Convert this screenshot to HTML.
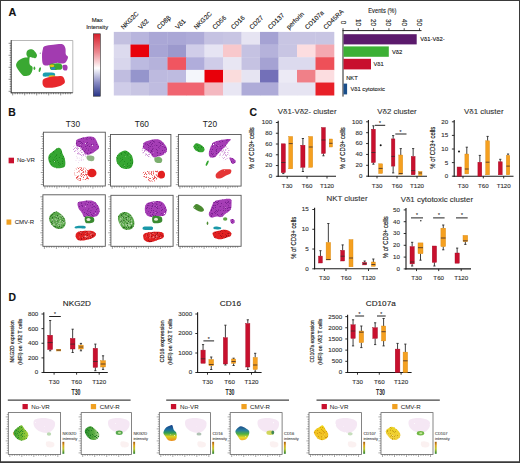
<!DOCTYPE html>
<html><head><meta charset="utf-8"><style>
html,body{margin:0;padding:0;background:#fff;}
svg{display:block;font-family:"Liberation Sans", sans-serif;}
text{stroke:currentColor;stroke-width:0.12px;paint-order:stroke;}
</style></head><body>
<svg width="520" height="463" viewBox="0 0 520 463">
<defs>
<filter id="spk1" x="-5%" y="-5%" width="110%" height="110%" color-interpolation-filters="sRGB">
<feTurbulence type="fractalNoise" baseFrequency="1.1" numOctaves="1" seed="4" result="n"/>
<feColorMatrix in="n" type="matrix" values="0 0 0 0 0  0 0 0 0 0  0 0 0 0 0  12 0 0 0 -2.4" result="m"/>
<feComposite in="SourceGraphic" in2="m" operator="in"/>
</filter>
<filter id="spk2" x="-5%" y="-5%" width="110%" height="110%" color-interpolation-filters="sRGB">
<feTurbulence type="fractalNoise" baseFrequency="1.3" numOctaves="1" seed="9" result="n"/>
<feColorMatrix in="n" type="matrix" values="0 0 0 0 0  0 0 0 0 0  0 0 0 0 0  8 0 0 0 -4" result="m"/>
<feComposite in="SourceGraphic" in2="m" operator="in"/>
</filter>
<filter id="spkD" x="-5%" y="-5%" width="110%" height="110%" color-interpolation-filters="sRGB">
<feTurbulence type="fractalNoise" baseFrequency="1.2" numOctaves="1" seed="21" result="n"/>
<feColorMatrix in="n" type="matrix" values="0 0 0 0 0  0 0 0 0 0  0 0 0 0 0  10 0 0 0 -5.6" result="m"/>
<feComposite in="SourceGraphic" in2="m" operator="in"/>
</filter>
</defs>
<rect width="520" height="463" fill="#fff"/>
<rect x="0.5" y="0.5" width="519" height="461.5" fill="none" stroke="#3a3a3a" stroke-width="1"/>
<rect x="0" y="461.5" width="520" height="1.5" fill="#3a3a3a" />
<text x="8.4" y="16.1" font-size="10.8" text-anchor="start" font-weight="bold" fill="#111" color="#111" >A</text>
<text x="8.3" y="116" font-size="10.4" text-anchor="start" font-weight="bold" fill="#111" color="#111" >B</text>
<text x="249.6" y="115.6" font-size="10.4" text-anchor="start" font-weight="bold" fill="#111" color="#111" >C</text>
<text x="8.6" y="301.2" font-size="10.4" text-anchor="start" font-weight="bold" fill="#111" color="#111" >D</text>
<line x1="11.2" y1="40.5" x2="72.8" y2="40.5" stroke="#999" stroke-width="0.7"/>
<line x1="72.8" y1="40.5" x2="72.8" y2="92.8" stroke="#999" stroke-width="0.7"/>
<line x1="11.2" y1="40.1" x2="11.2" y2="93.2" stroke="#333" stroke-width="1.0"/>
<line x1="10.799999999999999" y1="92.8" x2="72.8" y2="92.8" stroke="#333" stroke-width="1.0"/>
<line x1="8.6" y1="91.3" x2="11.2" y2="91.3" stroke="#333" stroke-width="0.55"/>
<line x1="9.7" y1="88.89999999999999" x2="11.2" y2="88.89999999999999" stroke="#333" stroke-width="0.55"/>
<line x1="9.7" y1="86.5" x2="11.2" y2="86.5" stroke="#333" stroke-width="0.55"/>
<line x1="9.7" y1="84.1" x2="11.2" y2="84.1" stroke="#333" stroke-width="0.55"/>
<line x1="9.7" y1="81.7" x2="11.2" y2="81.7" stroke="#333" stroke-width="0.55"/>
<line x1="8.6" y1="79.3" x2="11.2" y2="79.3" stroke="#333" stroke-width="0.55"/>
<line x1="9.7" y1="76.9" x2="11.2" y2="76.9" stroke="#333" stroke-width="0.55"/>
<line x1="9.7" y1="74.5" x2="11.2" y2="74.5" stroke="#333" stroke-width="0.55"/>
<line x1="9.7" y1="72.1" x2="11.2" y2="72.1" stroke="#333" stroke-width="0.55"/>
<line x1="9.7" y1="69.7" x2="11.2" y2="69.7" stroke="#333" stroke-width="0.55"/>
<line x1="8.6" y1="67.3" x2="11.2" y2="67.3" stroke="#333" stroke-width="0.55"/>
<line x1="9.7" y1="64.9" x2="11.2" y2="64.9" stroke="#333" stroke-width="0.55"/>
<line x1="9.7" y1="62.5" x2="11.2" y2="62.5" stroke="#333" stroke-width="0.55"/>
<line x1="9.7" y1="60.099999999999994" x2="11.2" y2="60.099999999999994" stroke="#333" stroke-width="0.55"/>
<line x1="9.7" y1="57.699999999999996" x2="11.2" y2="57.699999999999996" stroke="#333" stroke-width="0.55"/>
<line x1="8.6" y1="55.3" x2="11.2" y2="55.3" stroke="#333" stroke-width="0.55"/>
<line x1="9.7" y1="52.9" x2="11.2" y2="52.9" stroke="#333" stroke-width="0.55"/>
<line x1="9.7" y1="50.5" x2="11.2" y2="50.5" stroke="#333" stroke-width="0.55"/>
<line x1="9.7" y1="48.1" x2="11.2" y2="48.1" stroke="#333" stroke-width="0.55"/>
<line x1="9.7" y1="45.699999999999996" x2="11.2" y2="45.699999999999996" stroke="#333" stroke-width="0.55"/>
<line x1="8.6" y1="43.3" x2="11.2" y2="43.3" stroke="#333" stroke-width="0.55"/>
<line x1="12.7" y1="92.8" x2="12.7" y2="95.39999999999999" stroke="#333" stroke-width="0.55"/>
<line x1="15.1" y1="92.8" x2="15.1" y2="94.3" stroke="#333" stroke-width="0.55"/>
<line x1="17.5" y1="92.8" x2="17.5" y2="94.3" stroke="#333" stroke-width="0.55"/>
<line x1="19.9" y1="92.8" x2="19.9" y2="94.3" stroke="#333" stroke-width="0.55"/>
<line x1="22.299999999999997" y1="92.8" x2="22.299999999999997" y2="94.3" stroke="#333" stroke-width="0.55"/>
<line x1="24.7" y1="92.8" x2="24.7" y2="95.39999999999999" stroke="#333" stroke-width="0.55"/>
<line x1="27.099999999999998" y1="92.8" x2="27.099999999999998" y2="94.3" stroke="#333" stroke-width="0.55"/>
<line x1="29.5" y1="92.8" x2="29.5" y2="94.3" stroke="#333" stroke-width="0.55"/>
<line x1="31.9" y1="92.8" x2="31.9" y2="94.3" stroke="#333" stroke-width="0.55"/>
<line x1="34.3" y1="92.8" x2="34.3" y2="94.3" stroke="#333" stroke-width="0.55"/>
<line x1="36.7" y1="92.8" x2="36.7" y2="95.39999999999999" stroke="#333" stroke-width="0.55"/>
<line x1="39.099999999999994" y1="92.8" x2="39.099999999999994" y2="94.3" stroke="#333" stroke-width="0.55"/>
<line x1="41.5" y1="92.8" x2="41.5" y2="94.3" stroke="#333" stroke-width="0.55"/>
<line x1="43.9" y1="92.8" x2="43.9" y2="94.3" stroke="#333" stroke-width="0.55"/>
<line x1="46.3" y1="92.8" x2="46.3" y2="94.3" stroke="#333" stroke-width="0.55"/>
<line x1="48.7" y1="92.8" x2="48.7" y2="95.39999999999999" stroke="#333" stroke-width="0.55"/>
<line x1="51.099999999999994" y1="92.8" x2="51.099999999999994" y2="94.3" stroke="#333" stroke-width="0.55"/>
<line x1="53.5" y1="92.8" x2="53.5" y2="94.3" stroke="#333" stroke-width="0.55"/>
<line x1="55.89999999999999" y1="92.8" x2="55.89999999999999" y2="94.3" stroke="#333" stroke-width="0.55"/>
<line x1="58.3" y1="92.8" x2="58.3" y2="94.3" stroke="#333" stroke-width="0.55"/>
<line x1="60.7" y1="92.8" x2="60.7" y2="95.39999999999999" stroke="#333" stroke-width="0.55"/>
<line x1="63.099999999999994" y1="92.8" x2="63.099999999999994" y2="94.3" stroke="#333" stroke-width="0.55"/>
<line x1="65.5" y1="92.8" x2="65.5" y2="94.3" stroke="#333" stroke-width="0.55"/>
<line x1="67.89999999999999" y1="92.8" x2="67.89999999999999" y2="94.3" stroke="#333" stroke-width="0.55"/>
<line x1="70.3" y1="92.8" x2="70.3" y2="94.3" stroke="#333" stroke-width="0.55"/>
<path d="M19.70,59.80C21.20,58.78 23.98,58.00 25.30,57.60C26.62,57.20 27.42,57.95 27.60,57.40C27.78,56.85 26.42,55.47 26.40,54.30C26.38,53.13 26.57,51.25 27.50,50.40C28.43,49.55 30.70,48.93 32.00,49.20C33.30,49.47 34.47,50.97 35.30,52.00C36.13,53.03 37.00,54.37 37.00,55.40C37.00,56.43 36.13,57.83 35.30,58.20C34.47,58.57 32.93,57.72 32.00,57.60C31.07,57.48 30.08,56.38 29.70,57.50C29.32,58.62 29.23,62.70 29.70,64.30C30.17,65.90 32.12,65.88 32.50,67.10C32.88,68.32 32.47,70.30 32.00,71.60C31.53,72.90 31.00,74.17 29.70,74.90C28.40,75.63 25.68,76.28 24.20,76.00C22.72,75.72 22.02,74.58 20.80,73.20C19.58,71.82 17.65,69.28 16.90,67.70C16.15,66.12 15.83,65.02 16.30,63.70C16.77,62.38 18.20,60.82 19.70,59.80Z" fill="#3aa832" fill-opacity="1" />
<ellipse cx="34.4" cy="68.2" rx="0.9" ry="1.8" fill="#3aa832" fill-opacity="1" transform="rotate(0 34.4 68.2)"/>
<ellipse cx="39.8" cy="69.6" rx="1.0" ry="2.5" fill="#3aa832" fill-opacity="1" transform="rotate(15 39.8 69.6)"/>
<path d="M44.50,46.20C46.23,45.42 50.20,45.13 53.20,44.80C56.20,44.47 60.47,43.62 62.50,44.20C64.53,44.78 64.85,46.62 65.40,48.30C65.95,49.98 65.37,52.83 65.80,54.30C66.23,55.77 67.97,55.82 68.00,57.10C68.03,58.38 66.98,60.92 66.00,62.00C65.02,63.08 63.50,63.47 62.10,63.60C60.70,63.73 59.28,62.70 57.60,62.80C55.92,62.90 53.85,63.73 52.00,64.20C50.15,64.67 48.03,65.67 46.50,65.60C44.97,65.53 43.55,65.50 42.80,63.80C42.05,62.10 42.00,57.78 42.00,55.40C42.00,53.02 42.38,51.03 42.80,49.50C43.22,47.97 42.77,46.98 44.50,46.20Z" fill="#a23bb0" fill-opacity="1" />
<ellipse cx="40.3" cy="53.2" rx="0.6" ry="0.6" fill="#8a7aa0" fill-opacity="1" transform="rotate(0 40.3 53.2)"/>
<path d="M62.80,65.20C63.45,64.77 65.70,64.52 66.50,64.90C67.30,65.28 67.60,66.58 67.60,67.50C67.60,68.42 67.18,69.98 66.50,70.40C65.82,70.82 64.15,70.48 63.50,70.00C62.85,69.52 62.72,68.30 62.60,67.50C62.48,66.70 62.15,65.63 62.80,65.20Z" fill="#a23bb0" fill-opacity="1" />
<path d="M50.00,64.00C50.93,63.40 53.73,63.48 55.40,63.40C57.07,63.32 58.88,63.15 60.00,63.50C61.12,63.85 61.85,64.53 62.10,65.50C62.35,66.47 62.52,68.57 61.50,69.30C60.48,70.03 57.75,69.82 56.00,69.90C54.25,69.98 52.03,70.28 51.00,69.80C49.97,69.32 49.97,67.97 49.80,67.00C49.63,66.03 49.07,64.60 50.00,64.00Z" fill="#3aa832" fill-opacity="1" />
<ellipse cx="52" cy="65.8" rx="2.3" ry="1.4" fill="#e6c21a" fill-opacity="1" transform="rotate(0 52 65.8)"/>
<ellipse cx="53.2" cy="68.5" rx="2.3" ry="1.3" fill="#2a8ac8" fill-opacity="1" transform="rotate(0 53.2 68.5)"/>
<path d="M43.50,73.00C44.32,72.37 46.20,72.40 48.00,72.40C49.80,72.40 53.22,72.37 54.30,73.00C55.38,73.63 55.55,75.60 54.50,76.20C53.45,76.80 49.90,76.60 48.00,76.60C46.10,76.60 43.85,76.80 43.10,76.20C42.35,75.60 42.68,73.63 43.50,73.00Z" fill="#1b9eb0" fill-opacity="1" />
<ellipse cx="52" cy="76.2" rx="3.4" ry="1.0" fill="#e8c21a" fill-opacity="1" transform="rotate(0 52 76.2)"/>
<path d="M44.20,78.80C45.40,78.15 47.93,77.52 49.80,77.10C51.67,76.68 53.53,76.48 55.40,76.30C57.27,76.12 59.62,75.77 61.00,76.00C62.38,76.23 63.05,76.67 63.70,77.70C64.35,78.73 65.17,81.00 64.90,82.20C64.63,83.40 63.68,84.07 62.10,84.90C60.52,85.73 58.00,86.73 55.40,87.20C52.80,87.67 48.55,87.98 46.50,87.70C44.45,87.42 43.75,86.62 43.10,85.50C42.45,84.38 42.42,82.12 42.60,81.00C42.78,79.88 43.00,79.45 44.20,78.80Z" fill="#e8282c" fill-opacity="1" />
<text x="97.2" y="21.7" font-size="5.9" text-anchor="middle" font-weight="normal" fill="#222" color="#222" >Max</text>
<text x="97.2" y="29.4" font-size="5.9" text-anchor="middle" font-weight="normal" fill="#222" color="#222" >Intensity</text>
<defs><linearGradient id="cbA" x1="0" y1="0" x2="0" y2="1"><stop offset="0" stop-color="#d81e2a"/><stop offset="0.3" stop-color="#ec8a92"/><stop offset="0.55" stop-color="#ffffff"/><stop offset="0.78" stop-color="#8a8cc4"/><stop offset="1" stop-color="#283587"/></linearGradient></defs>
<rect x="93.3" y="33.8" width="7" height="62.4" fill="url(#cbA)" stroke="#333" stroke-width="0.6"/>
<rect x="113.80" y="31.90" width="17.00" height="12.96" fill="#c3c0e0" />
<rect x="130.50" y="31.90" width="18.80" height="12.96" fill="#b8b5dd" />
<rect x="149.00" y="31.90" width="18.80" height="12.96" fill="#aaa7d6" />
<rect x="167.50" y="31.90" width="18.80" height="12.96" fill="#aaa7d6" />
<rect x="186.00" y="31.90" width="18.80" height="12.96" fill="#aeabd8" />
<rect x="204.50" y="31.90" width="18.80" height="12.96" fill="#c5c2e2" />
<rect x="223.00" y="31.90" width="18.80" height="12.96" fill="#c8c5e3" />
<rect x="241.50" y="31.90" width="18.80" height="12.96" fill="#e6e4f2" />
<rect x="260.00" y="31.90" width="18.80" height="12.96" fill="#a5a2d3" />
<rect x="278.50" y="31.90" width="18.80" height="12.96" fill="#c8c5e3" />
<rect x="297.00" y="31.90" width="18.80" height="12.96" fill="#c8c5e3" />
<rect x="315.50" y="31.90" width="18.80" height="12.96" fill="#c8c5e3" />
<rect x="113.80" y="44.56" width="17.00" height="12.96" fill="#dcdaee" />
<rect x="130.50" y="44.56" width="18.80" height="12.96" fill="#e8000a" />
<rect x="149.00" y="44.56" width="18.80" height="12.96" fill="#a8a5d5" />
<rect x="167.50" y="44.56" width="18.80" height="12.96" fill="#9c99cd" />
<rect x="186.00" y="44.56" width="18.80" height="12.96" fill="#d0cde9" />
<rect x="204.50" y="44.56" width="18.80" height="12.96" fill="#e6e4f3" />
<rect x="223.00" y="44.56" width="18.80" height="12.96" fill="#f8c8cc" />
<rect x="241.50" y="44.56" width="18.80" height="12.96" fill="#c5c2e2" />
<rect x="260.00" y="44.56" width="18.80" height="12.96" fill="#b5b2db" />
<rect x="278.50" y="44.56" width="18.80" height="12.96" fill="#c8c5e3" />
<rect x="297.00" y="44.56" width="18.80" height="12.96" fill="#fcdde0" />
<rect x="315.50" y="44.56" width="18.80" height="12.96" fill="#f4a8b0" />
<rect x="113.80" y="57.22" width="17.00" height="12.96" fill="#d8d6ec" />
<rect x="130.50" y="57.22" width="18.80" height="12.96" fill="#bcbae0" />
<rect x="149.00" y="57.22" width="18.80" height="12.96" fill="#b5b2db" />
<rect x="167.50" y="57.22" width="18.80" height="12.96" fill="#f05560" />
<rect x="186.00" y="57.22" width="18.80" height="12.96" fill="#b0addb" />
<rect x="204.50" y="57.22" width="18.80" height="12.96" fill="#cfcce8" />
<rect x="223.00" y="57.22" width="18.80" height="12.96" fill="#e8e6f3" />
<rect x="241.50" y="57.22" width="18.80" height="12.96" fill="#c5c2e2" />
<rect x="260.00" y="57.22" width="18.80" height="12.96" fill="#a5a2d3" />
<rect x="278.50" y="57.22" width="18.80" height="12.96" fill="#dcdaee" />
<rect x="297.00" y="57.22" width="18.80" height="12.96" fill="#dcdaee" />
<rect x="315.50" y="57.22" width="18.80" height="12.96" fill="#ee5058" />
<rect x="113.80" y="69.88" width="17.00" height="12.96" fill="#c0bde0" />
<rect x="130.50" y="69.88" width="18.80" height="12.96" fill="#9595cc" />
<rect x="149.00" y="69.88" width="18.80" height="12.96" fill="#bdbadf" />
<rect x="167.50" y="69.88" width="18.80" height="12.96" fill="#bebbe0" />
<rect x="186.00" y="69.88" width="18.80" height="12.96" fill="#f4f6fb" />
<rect x="204.50" y="69.88" width="18.80" height="12.96" fill="#e8000a" />
<rect x="223.00" y="69.88" width="18.80" height="12.96" fill="#fadcdc" />
<rect x="241.50" y="69.88" width="18.80" height="12.96" fill="#e6e4f2" />
<rect x="260.00" y="69.88" width="18.80" height="12.96" fill="#7370b8" />
<rect x="278.50" y="69.88" width="18.80" height="12.96" fill="#eceaf5" />
<rect x="297.00" y="69.88" width="18.80" height="12.96" fill="#f08088" />
<rect x="315.50" y="69.88" width="18.80" height="12.96" fill="#fcdde0" />
<rect x="113.80" y="82.54" width="17.00" height="12.96" fill="#cfcce8" />
<rect x="130.50" y="82.54" width="18.80" height="12.96" fill="#c8c5e3" />
<rect x="149.00" y="82.54" width="18.80" height="12.96" fill="#bfbce0" />
<rect x="167.50" y="82.54" width="18.80" height="12.96" fill="#f06470" />
<rect x="186.00" y="82.54" width="18.80" height="12.96" fill="#f06470" />
<rect x="204.50" y="82.54" width="18.80" height="12.96" fill="#f4b8c0" />
<rect x="223.00" y="82.54" width="18.80" height="12.96" fill="#e8e6f3" />
<rect x="241.50" y="82.54" width="18.80" height="12.96" fill="#aeabd8" />
<rect x="260.00" y="82.54" width="18.80" height="12.96" fill="#aeabd8" />
<rect x="278.50" y="82.54" width="18.80" height="12.96" fill="#e6e4f2" />
<rect x="297.00" y="82.54" width="18.80" height="12.96" fill="#e6e4f2" />
<rect x="315.50" y="82.54" width="18.80" height="12.96" fill="#e82028" />
<text x="123.5" y="29.8" font-size="6.4" fill="#1a1a1a" transform="rotate(-45 123.5 29.8)">NKG2C</text>
<text x="141.1" y="29.8" font-size="6.4" fill="#1a1a1a" transform="rotate(-45 141.1 29.8)">Vδ2</text>
<text x="159.6" y="29.8" font-size="6.4" fill="#1a1a1a" transform="rotate(-45 159.6 29.8)">CD8β</text>
<text x="178.1" y="29.8" font-size="6.4" fill="#1a1a1a" transform="rotate(-45 178.1 29.8)">Vδ1</text>
<text x="196.6" y="29.8" font-size="6.4" fill="#1a1a1a" transform="rotate(-45 196.6 29.8)">NKG2C</text>
<text x="215.1" y="29.8" font-size="6.4" fill="#1a1a1a" transform="rotate(-45 215.1 29.8)">CD56</text>
<text x="233.6" y="29.8" font-size="6.4" fill="#1a1a1a" transform="rotate(-45 233.6 29.8)">CD16</text>
<text x="252.1" y="29.8" font-size="6.4" fill="#1a1a1a" transform="rotate(-45 252.1 29.8)">CD27</text>
<text x="270.6" y="29.8" font-size="6.4" fill="#1a1a1a" transform="rotate(-45 270.6 29.8)">CD137</text>
<text x="289.1" y="29.8" font-size="6.4" fill="#1a1a1a" transform="rotate(-45 289.1 29.8)">perforin</text>
<text x="307.6" y="29.8" font-size="6.4" fill="#1a1a1a" transform="rotate(-45 307.6 29.8)">CD107a</text>
<text x="326.1" y="29.8" font-size="6.4" fill="#1a1a1a" transform="rotate(-45 326.1 29.8)">CD45RA</text>
<line x1="343" y1="30.5" x2="343" y2="96.6" stroke="#222" stroke-width="1"/>
<line x1="342.5" y1="30.6" x2="421.5" y2="30.6" stroke="#222" stroke-width="1"/>
<line x1="343.0" y1="28.2" x2="343.0" y2="30.6" stroke="#222" stroke-width="0.8"/>
<text x="343.0" y="22.4" font-size="6.3" fill="#222" text-anchor="middle" transform="rotate(90 343.0 22.4)" dominant-baseline="central">0</text>
<line x1="358.3" y1="28.2" x2="358.3" y2="30.6" stroke="#222" stroke-width="0.8"/>
<text x="358.3" y="22.4" font-size="6.3" fill="#222" text-anchor="middle" transform="rotate(90 358.3 22.4)" dominant-baseline="central">10</text>
<line x1="373.6" y1="28.2" x2="373.6" y2="30.6" stroke="#222" stroke-width="0.8"/>
<text x="373.6" y="22.4" font-size="6.3" fill="#222" text-anchor="middle" transform="rotate(90 373.6 22.4)" dominant-baseline="central">20</text>
<line x1="388.9" y1="28.2" x2="388.9" y2="30.6" stroke="#222" stroke-width="0.8"/>
<text x="388.9" y="22.4" font-size="6.3" fill="#222" text-anchor="middle" transform="rotate(90 388.9 22.4)" dominant-baseline="central">30</text>
<line x1="404.2" y1="28.2" x2="404.2" y2="30.6" stroke="#222" stroke-width="0.8"/>
<text x="404.2" y="22.4" font-size="6.3" fill="#222" text-anchor="middle" transform="rotate(90 404.2 22.4)" dominant-baseline="central">40</text>
<line x1="419.5" y1="28.2" x2="419.5" y2="30.6" stroke="#222" stroke-width="0.8"/>
<text x="419.5" y="22.4" font-size="6.3" fill="#222" text-anchor="middle" transform="rotate(90 419.5 22.4)" dominant-baseline="central">50</text>
<text x="382.3" y="13.1" font-size="7.3" text-anchor="middle" font-weight="normal" fill="#1a1a1a" color="#1a1a1a" textLength="28" lengthAdjust="spacingAndGlyphs">Events (%)</text>
<rect x="343.5" y="34.2" width="73.2" height="10.2" fill="#5b1a6c" />
<rect x="343.5" y="46.4" width="45.3" height="10.4" fill="#3cb035" />
<rect x="343.5" y="58.8" width="27.5" height="10.6" fill="#c8102e" />
<rect x="343.5" y="83.6" width="3.6" height="10.8" fill="#1a4f8b" />
<text x="420.2" y="41.2" font-size="5.8" text-anchor="start" font-weight="normal" fill="#111" color="#111" >Vδ1-Vδ2-</text>
<text x="392" y="53.5" font-size="5.8" text-anchor="start" font-weight="normal" fill="#111" color="#111" >Vδ2</text>
<text x="373.5" y="66" font-size="5.8" text-anchor="start" font-weight="normal" fill="#222" color="#222" >Vδ1</text>
<text x="346.2" y="79.8" font-size="5.8" text-anchor="start" font-weight="normal" fill="#222" color="#222" >NKT</text>
<text x="350.4" y="91.3" font-size="5.8" text-anchor="start" font-weight="normal" fill="#222" color="#222" >Vδ1 cytotoxic</text>
<text x="72.9" y="127.4" font-size="8.3" text-anchor="middle" font-weight="normal" fill="#222" color="#222" style="stroke-width:0">T30</text>
<text x="141.8" y="127.4" font-size="8.3" text-anchor="middle" font-weight="normal" fill="#222" color="#222" style="stroke-width:0">T60</text>
<text x="209.9" y="127.4" font-size="8.3" text-anchor="middle" font-weight="normal" fill="#222" color="#222" style="stroke-width:0">T20</text>
<rect x="8.6" y="157.7" width="5.4" height="5.6" fill="#c8102e" />
<text x="16.9" y="162.2" font-size="6" text-anchor="start" font-weight="normal" fill="#222" color="#222" style="stroke-width:0.05px">No-VR</text>
<rect x="6.5" y="219.5" width="4.8" height="5.2" fill="#f0a020" />
<text x="14.7" y="224.2" font-size="6" text-anchor="start" font-weight="normal" fill="#222" color="#222" style="stroke-width:0.05px">CMV-R</text>
<rect x="43.4" y="132.2" width="61.9" height="53.80000000000001" fill="none" stroke="#555" stroke-width="0.9"/>
<line x1="40.8" y1="184.5" x2="43.4" y2="184.5" stroke="#555" stroke-width="0.55"/>
<line x1="41.9" y1="182.1" x2="43.4" y2="182.1" stroke="#555" stroke-width="0.55"/>
<line x1="41.9" y1="179.7" x2="43.4" y2="179.7" stroke="#555" stroke-width="0.55"/>
<line x1="41.9" y1="177.3" x2="43.4" y2="177.3" stroke="#555" stroke-width="0.55"/>
<line x1="41.9" y1="174.9" x2="43.4" y2="174.9" stroke="#555" stroke-width="0.55"/>
<line x1="40.8" y1="172.5" x2="43.4" y2="172.5" stroke="#555" stroke-width="0.55"/>
<line x1="41.9" y1="170.1" x2="43.4" y2="170.1" stroke="#555" stroke-width="0.55"/>
<line x1="41.9" y1="167.7" x2="43.4" y2="167.7" stroke="#555" stroke-width="0.55"/>
<line x1="41.9" y1="165.3" x2="43.4" y2="165.3" stroke="#555" stroke-width="0.55"/>
<line x1="41.9" y1="162.9" x2="43.4" y2="162.9" stroke="#555" stroke-width="0.55"/>
<line x1="40.8" y1="160.5" x2="43.4" y2="160.5" stroke="#555" stroke-width="0.55"/>
<line x1="41.9" y1="158.1" x2="43.4" y2="158.1" stroke="#555" stroke-width="0.55"/>
<line x1="41.9" y1="155.7" x2="43.4" y2="155.7" stroke="#555" stroke-width="0.55"/>
<line x1="41.9" y1="153.3" x2="43.4" y2="153.3" stroke="#555" stroke-width="0.55"/>
<line x1="41.9" y1="150.9" x2="43.4" y2="150.9" stroke="#555" stroke-width="0.55"/>
<line x1="40.8" y1="148.5" x2="43.4" y2="148.5" stroke="#555" stroke-width="0.55"/>
<line x1="41.9" y1="146.1" x2="43.4" y2="146.1" stroke="#555" stroke-width="0.55"/>
<line x1="41.9" y1="143.7" x2="43.4" y2="143.7" stroke="#555" stroke-width="0.55"/>
<line x1="41.9" y1="141.3" x2="43.4" y2="141.3" stroke="#555" stroke-width="0.55"/>
<line x1="41.9" y1="138.9" x2="43.4" y2="138.9" stroke="#555" stroke-width="0.55"/>
<line x1="40.8" y1="136.5" x2="43.4" y2="136.5" stroke="#555" stroke-width="0.55"/>
<line x1="41.9" y1="134.1" x2="43.4" y2="134.1" stroke="#555" stroke-width="0.55"/>
<line x1="44.9" y1="186" x2="44.9" y2="188.6" stroke="#555" stroke-width="0.55"/>
<line x1="47.3" y1="186" x2="47.3" y2="187.5" stroke="#555" stroke-width="0.55"/>
<line x1="49.699999999999996" y1="186" x2="49.699999999999996" y2="187.5" stroke="#555" stroke-width="0.55"/>
<line x1="52.099999999999994" y1="186" x2="52.099999999999994" y2="187.5" stroke="#555" stroke-width="0.55"/>
<line x1="54.5" y1="186" x2="54.5" y2="187.5" stroke="#555" stroke-width="0.55"/>
<line x1="56.9" y1="186" x2="56.9" y2="188.6" stroke="#555" stroke-width="0.55"/>
<line x1="59.3" y1="186" x2="59.3" y2="187.5" stroke="#555" stroke-width="0.55"/>
<line x1="61.7" y1="186" x2="61.7" y2="187.5" stroke="#555" stroke-width="0.55"/>
<line x1="64.1" y1="186" x2="64.1" y2="187.5" stroke="#555" stroke-width="0.55"/>
<line x1="66.5" y1="186" x2="66.5" y2="187.5" stroke="#555" stroke-width="0.55"/>
<line x1="68.9" y1="186" x2="68.9" y2="188.6" stroke="#555" stroke-width="0.55"/>
<line x1="71.3" y1="186" x2="71.3" y2="187.5" stroke="#555" stroke-width="0.55"/>
<line x1="73.69999999999999" y1="186" x2="73.69999999999999" y2="187.5" stroke="#555" stroke-width="0.55"/>
<line x1="76.1" y1="186" x2="76.1" y2="187.5" stroke="#555" stroke-width="0.55"/>
<line x1="78.5" y1="186" x2="78.5" y2="187.5" stroke="#555" stroke-width="0.55"/>
<line x1="80.9" y1="186" x2="80.9" y2="188.6" stroke="#555" stroke-width="0.55"/>
<line x1="83.3" y1="186" x2="83.3" y2="187.5" stroke="#555" stroke-width="0.55"/>
<line x1="85.69999999999999" y1="186" x2="85.69999999999999" y2="187.5" stroke="#555" stroke-width="0.55"/>
<line x1="88.1" y1="186" x2="88.1" y2="187.5" stroke="#555" stroke-width="0.55"/>
<line x1="90.5" y1="186" x2="90.5" y2="187.5" stroke="#555" stroke-width="0.55"/>
<line x1="92.9" y1="186" x2="92.9" y2="188.6" stroke="#555" stroke-width="0.55"/>
<line x1="95.3" y1="186" x2="95.3" y2="187.5" stroke="#555" stroke-width="0.55"/>
<line x1="97.69999999999999" y1="186" x2="97.69999999999999" y2="187.5" stroke="#555" stroke-width="0.55"/>
<line x1="100.1" y1="186" x2="100.1" y2="187.5" stroke="#555" stroke-width="0.55"/>
<line x1="102.5" y1="186" x2="102.5" y2="187.5" stroke="#555" stroke-width="0.55"/>
<path d="M59.00,147.80C59.77,148.00 60.72,148.63 61.30,149.60C61.88,150.57 62.02,152.35 62.50,153.60C62.98,154.85 63.73,155.75 64.20,157.10C64.67,158.45 65.20,160.17 65.30,161.70C65.40,163.23 65.47,165.25 64.80,166.30C64.13,167.35 62.85,167.72 61.30,168.00C59.75,168.28 57.23,168.47 55.50,168.00C53.77,167.53 52.08,166.63 50.90,165.20C49.72,163.77 48.68,161.13 48.40,159.40C48.12,157.67 48.40,156.15 49.20,154.80C50.00,153.45 51.95,152.37 53.20,151.30C54.45,150.23 55.73,148.98 56.70,148.40C57.67,147.82 58.23,147.60 59.00,147.80Z" fill="#36a632" fill-opacity="1" filter="url(#spk1)"/>
<path d="M59.00,147.80C59.77,148.00 60.72,148.63 61.30,149.60C61.88,150.57 62.02,152.35 62.50,153.60C62.98,154.85 63.73,155.75 64.20,157.10C64.67,158.45 65.20,160.17 65.30,161.70C65.40,163.23 65.47,165.25 64.80,166.30C64.13,167.35 62.85,167.72 61.30,168.00C59.75,168.28 57.23,168.47 55.50,168.00C53.77,167.53 52.08,166.63 50.90,165.20C49.72,163.77 48.68,161.13 48.40,159.40C48.12,157.67 48.40,156.15 49.20,154.80C50.00,153.45 51.95,152.37 53.20,151.30C54.45,150.23 55.73,148.98 56.70,148.40C57.67,147.82 58.23,147.60 59.00,147.80Z" fill="#1f8a1f" filter="url(#spkD)"/>
<path d="M73.50,146.00C74.50,145.42 77.25,146.17 79.00,147.00C80.75,147.83 82.58,149.58 84.00,151.00C85.42,152.42 87.67,154.58 87.50,155.50C87.33,156.42 84.75,156.75 83.00,156.50C81.25,156.25 78.67,155.00 77.00,154.00C75.33,153.00 73.58,151.83 73.00,150.50C72.42,149.17 72.50,146.58 73.50,146.00Z" fill="#a63eb6" fill-opacity="0.55" filter="url(#spk2)"/>
<path d="M77.20,139.60C78.38,138.78 80.82,138.10 83.10,137.60C85.38,137.10 88.92,136.48 90.90,136.60C92.88,136.72 93.85,137.10 95.00,138.30C96.15,139.50 97.13,142.23 97.80,143.80C98.47,145.37 99.25,146.58 99.00,147.70C98.75,148.82 97.43,149.58 96.30,150.50C95.17,151.42 93.67,152.48 92.20,153.20C90.73,153.92 88.87,155.00 87.50,154.80C86.13,154.60 85.17,153.22 84.00,152.00C82.83,150.78 81.75,148.50 80.50,147.50C79.25,146.50 77.25,146.83 76.50,146.00C75.75,145.17 75.88,143.57 76.00,142.50C76.12,141.43 76.02,140.42 77.20,139.60Z" fill="#a63eb6" fill-opacity="1" filter="url(#spk1)"/>
<path d="M77.20,139.60C78.38,138.78 80.82,138.10 83.10,137.60C85.38,137.10 88.92,136.48 90.90,136.60C92.88,136.72 93.85,137.10 95.00,138.30C96.15,139.50 97.13,142.23 97.80,143.80C98.47,145.37 99.25,146.58 99.00,147.70C98.75,148.82 97.43,149.58 96.30,150.50C95.17,151.42 93.67,152.48 92.20,153.20C90.73,153.92 88.87,155.00 87.50,154.80C86.13,154.60 85.17,153.22 84.00,152.00C82.83,150.78 81.75,148.50 80.50,147.50C79.25,146.50 77.25,146.83 76.50,146.00C75.75,145.17 75.88,143.57 76.00,142.50C76.12,141.43 76.02,140.42 77.20,139.60Z" fill="#7a2090" filter="url(#spkD)"/>
<path d="M87.00,156.00C87.72,155.52 89.80,155.43 91.00,155.60C92.20,155.77 93.78,156.13 94.20,157.00C94.62,157.87 94.37,160.17 93.50,160.80C92.63,161.43 90.13,161.18 89.00,160.80C87.87,160.42 87.03,159.30 86.70,158.50C86.37,157.70 86.28,156.48 87.00,156.00Z" fill="#6a9a5a" fill-opacity="0.75" filter="url(#spk1)"/>
<path d="M75.50,168.50C76.63,166.92 79.92,167.50 82.00,167.50C84.08,167.50 86.83,167.42 88.00,168.50C89.17,169.58 89.00,172.08 89.00,174.00C89.00,175.92 89.50,178.88 88.00,180.00C86.50,181.12 82.13,181.20 80.00,180.70C77.87,180.20 75.95,179.03 75.20,177.00C74.45,174.97 74.37,170.08 75.50,168.50Z" fill="#e22020" fill-opacity="0.75" filter="url(#spk2)"/>
<ellipse cx="91.9" cy="173" rx="4.6" ry="4.3" fill="#e22020" fill-opacity="1" transform="rotate(0 91.9 173)"/>
<circle cx="79.1" cy="160.4" r="0.35" fill="#a03ab2" fill-opacity="0.5"/>
<circle cx="79.2" cy="158.1" r="0.35" fill="#a03ab2" fill-opacity="0.5"/>
<circle cx="77.1" cy="158.5" r="0.35" fill="#a03ab2" fill-opacity="0.5"/>
<circle cx="83.3" cy="160.0" r="0.35" fill="#a03ab2" fill-opacity="0.5"/>
<circle cx="83.2" cy="159.6" r="0.35" fill="#a03ab2" fill-opacity="0.5"/>
<circle cx="81.4" cy="159.5" r="0.35" fill="#a03ab2" fill-opacity="0.5"/>
<circle cx="76.0" cy="160.7" r="0.35" fill="#a03ab2" fill-opacity="0.5"/>
<circle cx="81.7" cy="160.3" r="0.35" fill="#a03ab2" fill-opacity="0.5"/>
<circle cx="76.6" cy="156.2" r="0.35" fill="#a03ab2" fill-opacity="0.5"/>
<circle cx="77.2" cy="157.8" r="0.35" fill="#a03ab2" fill-opacity="0.5"/>
<circle cx="81.1" cy="158.9" r="0.35" fill="#a03ab2" fill-opacity="0.5"/>
<circle cx="81.7" cy="157.3" r="0.35" fill="#a03ab2" fill-opacity="0.5"/>
<circle cx="81.1" cy="160.1" r="0.35" fill="#a03ab2" fill-opacity="0.5"/>
<circle cx="78.4" cy="162.4" r="0.35" fill="#a03ab2" fill-opacity="0.5"/>
<rect x="110.5" y="134.5" width="60.400000000000006" height="51.599999999999994" fill="none" stroke="#555" stroke-width="0.9"/>
<line x1="107.9" y1="184.6" x2="110.5" y2="184.6" stroke="#555" stroke-width="0.55"/>
<line x1="109.0" y1="182.2" x2="110.5" y2="182.2" stroke="#555" stroke-width="0.55"/>
<line x1="109.0" y1="179.79999999999998" x2="110.5" y2="179.79999999999998" stroke="#555" stroke-width="0.55"/>
<line x1="109.0" y1="177.4" x2="110.5" y2="177.4" stroke="#555" stroke-width="0.55"/>
<line x1="109.0" y1="175.0" x2="110.5" y2="175.0" stroke="#555" stroke-width="0.55"/>
<line x1="107.9" y1="172.6" x2="110.5" y2="172.6" stroke="#555" stroke-width="0.55"/>
<line x1="109.0" y1="170.2" x2="110.5" y2="170.2" stroke="#555" stroke-width="0.55"/>
<line x1="109.0" y1="167.79999999999998" x2="110.5" y2="167.79999999999998" stroke="#555" stroke-width="0.55"/>
<line x1="109.0" y1="165.4" x2="110.5" y2="165.4" stroke="#555" stroke-width="0.55"/>
<line x1="109.0" y1="163.0" x2="110.5" y2="163.0" stroke="#555" stroke-width="0.55"/>
<line x1="107.9" y1="160.6" x2="110.5" y2="160.6" stroke="#555" stroke-width="0.55"/>
<line x1="109.0" y1="158.2" x2="110.5" y2="158.2" stroke="#555" stroke-width="0.55"/>
<line x1="109.0" y1="155.8" x2="110.5" y2="155.8" stroke="#555" stroke-width="0.55"/>
<line x1="109.0" y1="153.4" x2="110.5" y2="153.4" stroke="#555" stroke-width="0.55"/>
<line x1="109.0" y1="151.0" x2="110.5" y2="151.0" stroke="#555" stroke-width="0.55"/>
<line x1="107.9" y1="148.6" x2="110.5" y2="148.6" stroke="#555" stroke-width="0.55"/>
<line x1="109.0" y1="146.2" x2="110.5" y2="146.2" stroke="#555" stroke-width="0.55"/>
<line x1="109.0" y1="143.8" x2="110.5" y2="143.8" stroke="#555" stroke-width="0.55"/>
<line x1="109.0" y1="141.4" x2="110.5" y2="141.4" stroke="#555" stroke-width="0.55"/>
<line x1="109.0" y1="139.0" x2="110.5" y2="139.0" stroke="#555" stroke-width="0.55"/>
<line x1="107.9" y1="136.6" x2="110.5" y2="136.6" stroke="#555" stroke-width="0.55"/>
<line x1="112.0" y1="186.1" x2="112.0" y2="188.7" stroke="#555" stroke-width="0.55"/>
<line x1="114.4" y1="186.1" x2="114.4" y2="187.6" stroke="#555" stroke-width="0.55"/>
<line x1="116.8" y1="186.1" x2="116.8" y2="187.6" stroke="#555" stroke-width="0.55"/>
<line x1="119.2" y1="186.1" x2="119.2" y2="187.6" stroke="#555" stroke-width="0.55"/>
<line x1="121.6" y1="186.1" x2="121.6" y2="187.6" stroke="#555" stroke-width="0.55"/>
<line x1="124.0" y1="186.1" x2="124.0" y2="188.7" stroke="#555" stroke-width="0.55"/>
<line x1="126.4" y1="186.1" x2="126.4" y2="187.6" stroke="#555" stroke-width="0.55"/>
<line x1="128.8" y1="186.1" x2="128.8" y2="187.6" stroke="#555" stroke-width="0.55"/>
<line x1="131.2" y1="186.1" x2="131.2" y2="187.6" stroke="#555" stroke-width="0.55"/>
<line x1="133.6" y1="186.1" x2="133.6" y2="187.6" stroke="#555" stroke-width="0.55"/>
<line x1="136.0" y1="186.1" x2="136.0" y2="188.7" stroke="#555" stroke-width="0.55"/>
<line x1="138.4" y1="186.1" x2="138.4" y2="187.6" stroke="#555" stroke-width="0.55"/>
<line x1="140.8" y1="186.1" x2="140.8" y2="187.6" stroke="#555" stroke-width="0.55"/>
<line x1="143.2" y1="186.1" x2="143.2" y2="187.6" stroke="#555" stroke-width="0.55"/>
<line x1="145.6" y1="186.1" x2="145.6" y2="187.6" stroke="#555" stroke-width="0.55"/>
<line x1="148.0" y1="186.1" x2="148.0" y2="188.7" stroke="#555" stroke-width="0.55"/>
<line x1="150.4" y1="186.1" x2="150.4" y2="187.6" stroke="#555" stroke-width="0.55"/>
<line x1="152.8" y1="186.1" x2="152.8" y2="187.6" stroke="#555" stroke-width="0.55"/>
<line x1="155.2" y1="186.1" x2="155.2" y2="187.6" stroke="#555" stroke-width="0.55"/>
<line x1="157.6" y1="186.1" x2="157.6" y2="187.6" stroke="#555" stroke-width="0.55"/>
<line x1="160.0" y1="186.1" x2="160.0" y2="188.7" stroke="#555" stroke-width="0.55"/>
<line x1="162.4" y1="186.1" x2="162.4" y2="187.6" stroke="#555" stroke-width="0.55"/>
<line x1="164.8" y1="186.1" x2="164.8" y2="187.6" stroke="#555" stroke-width="0.55"/>
<line x1="167.2" y1="186.1" x2="167.2" y2="187.6" stroke="#555" stroke-width="0.55"/>
<path d="M119.80,152.70C121.28,151.58 123.63,150.32 125.40,150.50C127.17,150.68 129.20,152.60 130.40,153.80C131.60,155.00 132.13,156.20 132.60,157.70C133.07,159.20 133.47,161.12 133.20,162.80C132.93,164.48 132.30,166.78 131.00,167.80C129.70,168.82 127.08,169.00 125.40,168.90C123.72,168.80 122.30,168.22 120.90,167.20C119.50,166.18 117.73,164.47 117.00,162.80C116.27,161.13 116.03,158.88 116.50,157.20C116.97,155.52 118.32,153.82 119.80,152.70Z" fill="#36a632" fill-opacity="1" filter="url(#spk1)"/>
<path d="M119.80,152.70C121.28,151.58 123.63,150.32 125.40,150.50C127.17,150.68 129.20,152.60 130.40,153.80C131.60,155.00 132.13,156.20 132.60,157.70C133.07,159.20 133.47,161.12 133.20,162.80C132.93,164.48 132.30,166.78 131.00,167.80C129.70,168.82 127.08,169.00 125.40,168.90C123.72,168.80 122.30,168.22 120.90,167.20C119.50,166.18 117.73,164.47 117.00,162.80C116.27,161.13 116.03,158.88 116.50,157.20C116.97,155.52 118.32,153.82 119.80,152.70Z" fill="#1f8a1f" filter="url(#spkD)"/>
<path d="M142.00,148.00C142.67,147.17 145.50,148.33 147.00,149.00C148.50,149.67 150.00,150.58 151.00,152.00C152.00,153.42 153.50,156.58 153.00,157.50C152.50,158.42 149.67,158.08 148.00,157.50C146.33,156.92 144.00,155.58 143.00,154.00C142.00,152.42 141.33,148.83 142.00,148.00Z" fill="#a63eb6" fill-opacity="0.55" filter="url(#spk2)"/>
<path d="M144.30,142.40C145.42,141.60 147.48,140.67 149.90,140.20C152.32,139.73 156.35,138.93 158.80,139.60C161.25,140.27 163.23,142.57 164.60,144.20C165.97,145.83 167.00,147.77 167.00,149.40C167.00,151.03 165.97,152.85 164.60,154.00C163.23,155.15 160.68,155.77 158.80,156.30C156.92,156.83 154.68,157.67 153.30,157.20C151.92,156.73 151.72,154.70 150.50,153.50C149.28,152.30 147.25,150.92 146.00,150.00C144.75,149.08 143.47,148.83 143.00,148.00C142.53,147.17 142.98,145.93 143.20,145.00C143.42,144.07 143.18,143.20 144.30,142.40Z" fill="#a63eb6" fill-opacity="1" filter="url(#spk1)"/>
<path d="M144.30,142.40C145.42,141.60 147.48,140.67 149.90,140.20C152.32,139.73 156.35,138.93 158.80,139.60C161.25,140.27 163.23,142.57 164.60,144.20C165.97,145.83 167.00,147.77 167.00,149.40C167.00,151.03 165.97,152.85 164.60,154.00C163.23,155.15 160.68,155.77 158.80,156.30C156.92,156.83 154.68,157.67 153.30,157.20C151.92,156.73 151.72,154.70 150.50,153.50C149.28,152.30 147.25,150.92 146.00,150.00C144.75,149.08 143.47,148.83 143.00,148.00C142.53,147.17 142.98,145.93 143.20,145.00C143.42,144.07 143.18,143.20 144.30,142.40Z" fill="#7a2090" filter="url(#spkD)"/>
<path d="M155.00,157.50C155.93,157.03 158.80,156.87 160.00,157.20C161.20,157.53 162.03,158.57 162.20,159.50C162.37,160.43 162.03,162.30 161.00,162.80C159.97,163.30 157.10,162.97 156.00,162.50C154.90,162.03 154.57,160.83 154.40,160.00C154.23,159.17 154.07,157.97 155.00,157.50Z" fill="#5a9a4a" fill-opacity="0.8" filter="url(#spk1)"/>
<path d="M143.50,171.00C144.63,169.93 147.45,170.60 150.00,170.60C152.55,170.60 157.30,169.93 158.80,171.00C160.30,172.07 159.63,175.30 159.00,177.00C158.37,178.70 156.83,180.53 155.00,181.20C153.17,181.87 149.97,181.70 148.00,181.00C146.03,180.30 143.95,178.67 143.20,177.00C142.45,175.33 142.37,172.07 143.50,171.00Z" fill="#e22020" fill-opacity="0.75" filter="url(#spk2)"/>
<path d="M159.00,171.50C159.87,170.85 162.00,170.68 163.00,171.10C164.00,171.52 164.83,172.88 165.00,174.00C165.17,175.12 164.83,177.07 164.00,177.80C163.17,178.53 161.03,178.87 160.00,178.40C158.97,177.93 157.97,176.15 157.80,175.00C157.63,173.85 158.13,172.15 159.00,171.50Z" fill="#e22020" fill-opacity="1" />
<rect x="178.4" y="134.5" width="62.69999999999999" height="51.599999999999994" fill="none" stroke="#555" stroke-width="0.9"/>
<line x1="175.8" y1="184.6" x2="178.4" y2="184.6" stroke="#555" stroke-width="0.55"/>
<line x1="176.9" y1="182.2" x2="178.4" y2="182.2" stroke="#555" stroke-width="0.55"/>
<line x1="176.9" y1="179.79999999999998" x2="178.4" y2="179.79999999999998" stroke="#555" stroke-width="0.55"/>
<line x1="176.9" y1="177.4" x2="178.4" y2="177.4" stroke="#555" stroke-width="0.55"/>
<line x1="176.9" y1="175.0" x2="178.4" y2="175.0" stroke="#555" stroke-width="0.55"/>
<line x1="175.8" y1="172.6" x2="178.4" y2="172.6" stroke="#555" stroke-width="0.55"/>
<line x1="176.9" y1="170.2" x2="178.4" y2="170.2" stroke="#555" stroke-width="0.55"/>
<line x1="176.9" y1="167.79999999999998" x2="178.4" y2="167.79999999999998" stroke="#555" stroke-width="0.55"/>
<line x1="176.9" y1="165.4" x2="178.4" y2="165.4" stroke="#555" stroke-width="0.55"/>
<line x1="176.9" y1="163.0" x2="178.4" y2="163.0" stroke="#555" stroke-width="0.55"/>
<line x1="175.8" y1="160.6" x2="178.4" y2="160.6" stroke="#555" stroke-width="0.55"/>
<line x1="176.9" y1="158.2" x2="178.4" y2="158.2" stroke="#555" stroke-width="0.55"/>
<line x1="176.9" y1="155.8" x2="178.4" y2="155.8" stroke="#555" stroke-width="0.55"/>
<line x1="176.9" y1="153.4" x2="178.4" y2="153.4" stroke="#555" stroke-width="0.55"/>
<line x1="176.9" y1="151.0" x2="178.4" y2="151.0" stroke="#555" stroke-width="0.55"/>
<line x1="175.8" y1="148.6" x2="178.4" y2="148.6" stroke="#555" stroke-width="0.55"/>
<line x1="176.9" y1="146.2" x2="178.4" y2="146.2" stroke="#555" stroke-width="0.55"/>
<line x1="176.9" y1="143.8" x2="178.4" y2="143.8" stroke="#555" stroke-width="0.55"/>
<line x1="176.9" y1="141.4" x2="178.4" y2="141.4" stroke="#555" stroke-width="0.55"/>
<line x1="176.9" y1="139.0" x2="178.4" y2="139.0" stroke="#555" stroke-width="0.55"/>
<line x1="175.8" y1="136.6" x2="178.4" y2="136.6" stroke="#555" stroke-width="0.55"/>
<line x1="179.9" y1="186.1" x2="179.9" y2="188.7" stroke="#555" stroke-width="0.55"/>
<line x1="182.3" y1="186.1" x2="182.3" y2="187.6" stroke="#555" stroke-width="0.55"/>
<line x1="184.70000000000002" y1="186.1" x2="184.70000000000002" y2="187.6" stroke="#555" stroke-width="0.55"/>
<line x1="187.1" y1="186.1" x2="187.1" y2="187.6" stroke="#555" stroke-width="0.55"/>
<line x1="189.5" y1="186.1" x2="189.5" y2="187.6" stroke="#555" stroke-width="0.55"/>
<line x1="191.9" y1="186.1" x2="191.9" y2="188.7" stroke="#555" stroke-width="0.55"/>
<line x1="194.3" y1="186.1" x2="194.3" y2="187.6" stroke="#555" stroke-width="0.55"/>
<line x1="196.70000000000002" y1="186.1" x2="196.70000000000002" y2="187.6" stroke="#555" stroke-width="0.55"/>
<line x1="199.1" y1="186.1" x2="199.1" y2="187.6" stroke="#555" stroke-width="0.55"/>
<line x1="201.5" y1="186.1" x2="201.5" y2="187.6" stroke="#555" stroke-width="0.55"/>
<line x1="203.9" y1="186.1" x2="203.9" y2="188.7" stroke="#555" stroke-width="0.55"/>
<line x1="206.3" y1="186.1" x2="206.3" y2="187.6" stroke="#555" stroke-width="0.55"/>
<line x1="208.7" y1="186.1" x2="208.7" y2="187.6" stroke="#555" stroke-width="0.55"/>
<line x1="211.1" y1="186.1" x2="211.1" y2="187.6" stroke="#555" stroke-width="0.55"/>
<line x1="213.5" y1="186.1" x2="213.5" y2="187.6" stroke="#555" stroke-width="0.55"/>
<line x1="215.9" y1="186.1" x2="215.9" y2="188.7" stroke="#555" stroke-width="0.55"/>
<line x1="218.3" y1="186.1" x2="218.3" y2="187.6" stroke="#555" stroke-width="0.55"/>
<line x1="220.7" y1="186.1" x2="220.7" y2="187.6" stroke="#555" stroke-width="0.55"/>
<line x1="223.1" y1="186.1" x2="223.1" y2="187.6" stroke="#555" stroke-width="0.55"/>
<line x1="225.5" y1="186.1" x2="225.5" y2="187.6" stroke="#555" stroke-width="0.55"/>
<line x1="227.9" y1="186.1" x2="227.9" y2="188.7" stroke="#555" stroke-width="0.55"/>
<line x1="230.3" y1="186.1" x2="230.3" y2="187.6" stroke="#555" stroke-width="0.55"/>
<line x1="232.7" y1="186.1" x2="232.7" y2="187.6" stroke="#555" stroke-width="0.55"/>
<line x1="235.1" y1="186.1" x2="235.1" y2="187.6" stroke="#555" stroke-width="0.55"/>
<line x1="237.5" y1="186.1" x2="237.5" y2="187.6" stroke="#555" stroke-width="0.55"/>
<path d="M194.50,144.50C195.20,143.88 196.47,143.23 197.70,143.40C198.93,143.57 200.75,144.53 201.90,145.50C203.05,146.47 204.42,148.13 204.60,149.20C204.78,150.27 203.98,151.45 203.00,151.90C202.02,152.35 200.03,152.27 198.70,151.90C197.37,151.53 195.87,150.50 195.00,149.70C194.13,148.90 193.58,147.97 193.50,147.10C193.42,146.23 193.80,145.12 194.50,144.50Z" fill="#36a632" fill-opacity="1" filter="url(#spk1)"/>
<path d="M194.50,144.50C195.20,143.88 196.47,143.23 197.70,143.40C198.93,143.57 200.75,144.53 201.90,145.50C203.05,146.47 204.42,148.13 204.60,149.20C204.78,150.27 203.98,151.45 203.00,151.90C202.02,152.35 200.03,152.27 198.70,151.90C197.37,151.53 195.87,150.50 195.00,149.70C194.13,148.90 193.58,147.97 193.50,147.10C193.42,146.23 193.80,145.12 194.50,144.50Z" fill="#1f8a1f" filter="url(#spkD)"/>
<ellipse cx="207.2" cy="163.2" rx="1.0" ry="2.9" fill="#36a632" fill-opacity="1" transform="rotate(25 207.2 163.2)"/>
<path d="M213.60,142.30C214.92,141.58 217.08,140.72 219.90,140.20C222.72,139.68 229.08,138.85 230.50,139.20C231.92,139.55 229.47,140.90 228.40,142.30C227.33,143.70 225.70,145.83 224.10,147.60C222.50,149.37 220.38,151.30 218.80,152.90C217.22,154.50 216.00,156.48 214.60,157.20C213.20,157.92 211.37,157.73 210.40,157.20C209.43,156.67 208.88,155.42 208.80,154.00C208.72,152.58 209.37,150.28 209.90,148.70C210.43,147.12 211.38,145.57 212.00,144.50C212.62,143.43 212.28,143.02 213.60,142.30Z" fill="#a63eb6" fill-opacity="1" filter="url(#spk1)"/>
<path d="M213.60,142.30C214.92,141.58 217.08,140.72 219.90,140.20C222.72,139.68 229.08,138.85 230.50,139.20C231.92,139.55 229.47,140.90 228.40,142.30C227.33,143.70 225.70,145.83 224.10,147.60C222.50,149.37 220.38,151.30 218.80,152.90C217.22,154.50 216.00,156.48 214.60,157.20C213.20,157.92 211.37,157.73 210.40,157.20C209.43,156.67 208.88,155.42 208.80,154.00C208.72,152.58 209.37,150.28 209.90,148.70C210.43,147.12 211.38,145.57 212.00,144.50C212.62,143.43 212.28,143.02 213.60,142.30Z" fill="#7a2090" filter="url(#spkD)"/>
<path d="M220.00,148.00C221.20,146.83 224.43,145.67 226.00,146.00C227.57,146.33 228.90,148.17 229.40,150.00C229.90,151.83 229.90,155.28 229.00,157.00C228.10,158.72 225.67,160.13 224.00,160.30C222.33,160.47 219.87,159.22 219.00,158.00C218.13,156.78 218.63,154.67 218.80,153.00C218.97,151.33 218.80,149.17 220.00,148.00Z" fill="#a63eb6" fill-opacity="0.45" filter="url(#spk2)"/>
<path d="M229.40,157.70C229.85,157.17 232.63,158.08 233.70,158.70C234.77,159.32 235.90,160.52 235.80,161.40C235.70,162.28 233.90,163.92 233.10,164.00C232.30,164.08 231.62,162.95 231.00,161.90C230.38,160.85 228.95,158.23 229.40,157.70Z" fill="#a63eb6" fill-opacity="1" filter="url(#spk1)"/>
<path d="M229.40,157.70C229.85,157.17 232.63,158.08 233.70,158.70C234.77,159.32 235.90,160.52 235.80,161.40C235.70,162.28 233.90,163.92 233.10,164.00C232.30,164.08 231.62,162.95 231.00,161.90C230.38,160.85 228.95,158.23 229.40,157.70Z" fill="#7a2090" filter="url(#spkD)"/>
<path d="M216.00,174.00C216.75,172.67 219.33,170.78 221.00,170.00C222.67,169.22 224.33,169.33 226.00,169.30C227.67,169.27 230.25,169.10 231.00,169.80C231.75,170.50 231.33,172.55 230.50,173.50C229.67,174.45 227.58,174.70 226.00,175.50C224.42,176.30 222.58,177.88 221.00,178.30C219.42,178.72 217.33,178.72 216.50,178.00C215.67,177.28 215.25,175.33 216.00,174.00Z" fill="#e22020" fill-opacity="0.9" filter="url(#spk1)"/>
<rect x="42.9" y="194.8" width="62.4" height="51.5" fill="none" stroke="#555" stroke-width="0.9"/>
<line x1="40.3" y1="244.8" x2="42.9" y2="244.8" stroke="#555" stroke-width="0.55"/>
<line x1="41.4" y1="242.4" x2="42.9" y2="242.4" stroke="#555" stroke-width="0.55"/>
<line x1="41.4" y1="240.0" x2="42.9" y2="240.0" stroke="#555" stroke-width="0.55"/>
<line x1="41.4" y1="237.60000000000002" x2="42.9" y2="237.60000000000002" stroke="#555" stroke-width="0.55"/>
<line x1="41.4" y1="235.20000000000002" x2="42.9" y2="235.20000000000002" stroke="#555" stroke-width="0.55"/>
<line x1="40.3" y1="232.8" x2="42.9" y2="232.8" stroke="#555" stroke-width="0.55"/>
<line x1="41.4" y1="230.4" x2="42.9" y2="230.4" stroke="#555" stroke-width="0.55"/>
<line x1="41.4" y1="228.0" x2="42.9" y2="228.0" stroke="#555" stroke-width="0.55"/>
<line x1="41.4" y1="225.60000000000002" x2="42.9" y2="225.60000000000002" stroke="#555" stroke-width="0.55"/>
<line x1="41.4" y1="223.20000000000002" x2="42.9" y2="223.20000000000002" stroke="#555" stroke-width="0.55"/>
<line x1="40.3" y1="220.8" x2="42.9" y2="220.8" stroke="#555" stroke-width="0.55"/>
<line x1="41.4" y1="218.4" x2="42.9" y2="218.4" stroke="#555" stroke-width="0.55"/>
<line x1="41.4" y1="216.0" x2="42.9" y2="216.0" stroke="#555" stroke-width="0.55"/>
<line x1="41.4" y1="213.60000000000002" x2="42.9" y2="213.60000000000002" stroke="#555" stroke-width="0.55"/>
<line x1="41.4" y1="211.20000000000002" x2="42.9" y2="211.20000000000002" stroke="#555" stroke-width="0.55"/>
<line x1="40.3" y1="208.8" x2="42.9" y2="208.8" stroke="#555" stroke-width="0.55"/>
<line x1="41.4" y1="206.4" x2="42.9" y2="206.4" stroke="#555" stroke-width="0.55"/>
<line x1="41.4" y1="204.0" x2="42.9" y2="204.0" stroke="#555" stroke-width="0.55"/>
<line x1="41.4" y1="201.60000000000002" x2="42.9" y2="201.60000000000002" stroke="#555" stroke-width="0.55"/>
<line x1="41.4" y1="199.20000000000002" x2="42.9" y2="199.20000000000002" stroke="#555" stroke-width="0.55"/>
<line x1="40.3" y1="196.8" x2="42.9" y2="196.8" stroke="#555" stroke-width="0.55"/>
<line x1="44.4" y1="246.3" x2="44.4" y2="248.9" stroke="#555" stroke-width="0.55"/>
<line x1="46.8" y1="246.3" x2="46.8" y2="247.8" stroke="#555" stroke-width="0.55"/>
<line x1="49.199999999999996" y1="246.3" x2="49.199999999999996" y2="247.8" stroke="#555" stroke-width="0.55"/>
<line x1="51.599999999999994" y1="246.3" x2="51.599999999999994" y2="247.8" stroke="#555" stroke-width="0.55"/>
<line x1="54.0" y1="246.3" x2="54.0" y2="247.8" stroke="#555" stroke-width="0.55"/>
<line x1="56.4" y1="246.3" x2="56.4" y2="248.9" stroke="#555" stroke-width="0.55"/>
<line x1="58.8" y1="246.3" x2="58.8" y2="247.8" stroke="#555" stroke-width="0.55"/>
<line x1="61.2" y1="246.3" x2="61.2" y2="247.8" stroke="#555" stroke-width="0.55"/>
<line x1="63.599999999999994" y1="246.3" x2="63.599999999999994" y2="247.8" stroke="#555" stroke-width="0.55"/>
<line x1="66.0" y1="246.3" x2="66.0" y2="247.8" stroke="#555" stroke-width="0.55"/>
<line x1="68.4" y1="246.3" x2="68.4" y2="248.9" stroke="#555" stroke-width="0.55"/>
<line x1="70.8" y1="246.3" x2="70.8" y2="247.8" stroke="#555" stroke-width="0.55"/>
<line x1="73.19999999999999" y1="246.3" x2="73.19999999999999" y2="247.8" stroke="#555" stroke-width="0.55"/>
<line x1="75.6" y1="246.3" x2="75.6" y2="247.8" stroke="#555" stroke-width="0.55"/>
<line x1="78.0" y1="246.3" x2="78.0" y2="247.8" stroke="#555" stroke-width="0.55"/>
<line x1="80.4" y1="246.3" x2="80.4" y2="248.9" stroke="#555" stroke-width="0.55"/>
<line x1="82.8" y1="246.3" x2="82.8" y2="247.8" stroke="#555" stroke-width="0.55"/>
<line x1="85.19999999999999" y1="246.3" x2="85.19999999999999" y2="247.8" stroke="#555" stroke-width="0.55"/>
<line x1="87.6" y1="246.3" x2="87.6" y2="247.8" stroke="#555" stroke-width="0.55"/>
<line x1="90.0" y1="246.3" x2="90.0" y2="247.8" stroke="#555" stroke-width="0.55"/>
<line x1="92.4" y1="246.3" x2="92.4" y2="248.9" stroke="#555" stroke-width="0.55"/>
<line x1="94.8" y1="246.3" x2="94.8" y2="247.8" stroke="#555" stroke-width="0.55"/>
<line x1="97.19999999999999" y1="246.3" x2="97.19999999999999" y2="247.8" stroke="#555" stroke-width="0.55"/>
<line x1="99.6" y1="246.3" x2="99.6" y2="247.8" stroke="#555" stroke-width="0.55"/>
<line x1="102.0" y1="246.3" x2="102.0" y2="247.8" stroke="#555" stroke-width="0.55"/>
<path d="M51.70,213.70C52.82,212.87 54.72,211.50 56.20,211.50C57.68,211.50 59.22,212.58 60.60,213.70C61.98,214.82 63.67,216.52 64.50,218.20C65.33,219.88 65.88,222.13 65.60,223.80C65.32,225.47 64.18,227.37 62.80,228.20C61.42,229.03 58.97,229.17 57.30,228.80C55.63,228.43 54.10,227.30 52.80,226.00C51.50,224.70 50.05,222.58 49.50,221.00C48.95,219.42 49.13,217.72 49.50,216.50C49.87,215.28 50.58,214.53 51.70,213.70Z" fill="#5aa84a" fill-opacity="1" filter="url(#spk1)"/>
<path d="M51.70,213.70C52.82,212.87 54.72,211.50 56.20,211.50C57.68,211.50 59.22,212.58 60.60,213.70C61.98,214.82 63.67,216.52 64.50,218.20C65.33,219.88 65.88,222.13 65.60,223.80C65.32,225.47 64.18,227.37 62.80,228.20C61.42,229.03 58.97,229.17 57.30,228.80C55.63,228.43 54.10,227.30 52.80,226.00C51.50,224.70 50.05,222.58 49.50,221.00C48.95,219.42 49.13,217.72 49.50,216.50C49.87,215.28 50.58,214.53 51.70,213.70Z" fill="#2a6a22" filter="url(#spkD)"/>
<circle cx="60.1" cy="225.5" r="0.45" fill="#e8f4e0" fill-opacity="0.8"/>
<circle cx="55.5" cy="218.0" r="0.45" fill="#e8f4e0" fill-opacity="0.8"/>
<circle cx="56.4" cy="220.5" r="0.45" fill="#e8f4e0" fill-opacity="0.8"/>
<circle cx="60.7" cy="222.1" r="0.45" fill="#e8f4e0" fill-opacity="0.8"/>
<circle cx="56.2" cy="217.1" r="0.45" fill="#e8f4e0" fill-opacity="0.8"/>
<circle cx="56.0" cy="225.6" r="0.45" fill="#e8f4e0" fill-opacity="0.8"/>
<circle cx="54.6" cy="222.0" r="0.45" fill="#e8f4e0" fill-opacity="0.8"/>
<circle cx="59.5" cy="215.8" r="0.45" fill="#e8f4e0" fill-opacity="0.8"/>
<circle cx="58.2" cy="225.9" r="0.45" fill="#e8f4e0" fill-opacity="0.8"/>
<circle cx="52.0" cy="220.0" r="0.45" fill="#e8f4e0" fill-opacity="0.8"/>
<circle cx="57.6" cy="217.5" r="0.45" fill="#e8f4e0" fill-opacity="0.8"/>
<circle cx="60.2" cy="220.7" r="0.45" fill="#e8f4e0" fill-opacity="0.8"/>
<circle cx="53.1" cy="223.8" r="0.45" fill="#e8f4e0" fill-opacity="0.8"/>
<circle cx="60.6" cy="224.7" r="0.45" fill="#e8f4e0" fill-opacity="0.8"/>
<circle cx="63.2" cy="222.3" r="0.45" fill="#e8f4e0" fill-opacity="0.8"/>
<circle cx="58.4" cy="216.1" r="0.45" fill="#e8f4e0" fill-opacity="0.8"/>
<circle cx="60.6" cy="218.4" r="0.45" fill="#e8f4e0" fill-opacity="0.8"/>
<circle cx="56.3" cy="216.3" r="0.45" fill="#e8f4e0" fill-opacity="0.8"/>
<circle cx="54.2" cy="218.9" r="0.45" fill="#e8f4e0" fill-opacity="0.8"/>
<circle cx="61.4" cy="215.7" r="0.45" fill="#e8f4e0" fill-opacity="0.8"/>
<circle cx="52.8" cy="221.9" r="0.45" fill="#e8f4e0" fill-opacity="0.8"/>
<circle cx="63.1" cy="223.0" r="0.45" fill="#e8f4e0" fill-opacity="0.8"/>
<circle cx="54.1" cy="215.8" r="0.45" fill="#e8f4e0" fill-opacity="0.8"/>
<circle cx="59.5" cy="217.9" r="0.45" fill="#e8f4e0" fill-opacity="0.8"/>
<circle cx="54.0" cy="224.5" r="0.45" fill="#e8f4e0" fill-opacity="0.8"/>
<circle cx="62.4" cy="221.6" r="0.45" fill="#e8f4e0" fill-opacity="0.8"/>
<circle cx="59.1" cy="222.9" r="0.45" fill="#e8f4e0" fill-opacity="0.8"/>
<circle cx="63.3" cy="223.1" r="0.45" fill="#e8f4e0" fill-opacity="0.8"/>
<circle cx="60.2" cy="223.3" r="0.45" fill="#e8f4e0" fill-opacity="0.8"/>
<circle cx="53.3" cy="224.8" r="0.45" fill="#e8f4e0" fill-opacity="0.8"/>
<circle cx="61.8" cy="223.1" r="0.45" fill="#e8f4e0" fill-opacity="0.8"/>
<circle cx="52.2" cy="219.1" r="0.45" fill="#e8f4e0" fill-opacity="0.8"/>
<circle cx="60.5" cy="215.5" r="0.45" fill="#e8f4e0" fill-opacity="0.8"/>
<circle cx="57.3" cy="225.1" r="0.45" fill="#e8f4e0" fill-opacity="0.8"/>
<circle cx="54.1" cy="225.7" r="0.45" fill="#e8f4e0" fill-opacity="0.8"/>
<circle cx="60.4" cy="220.3" r="0.45" fill="#e8f4e0" fill-opacity="0.8"/>
<circle cx="59.4" cy="223.8" r="0.45" fill="#e8f4e0" fill-opacity="0.8"/>
<circle cx="58.5" cy="225.5" r="0.45" fill="#e8f4e0" fill-opacity="0.8"/>
<circle cx="55.2" cy="219.2" r="0.45" fill="#e8f4e0" fill-opacity="0.8"/>
<circle cx="62.2" cy="221.1" r="0.45" fill="#e8f4e0" fill-opacity="0.8"/>
<circle cx="54.7" cy="224.6" r="0.45" fill="#e8f4e0" fill-opacity="0.8"/>
<circle cx="63.2" cy="219.4" r="0.45" fill="#e8f4e0" fill-opacity="0.8"/>
<circle cx="52.9" cy="220.5" r="0.45" fill="#e8f4e0" fill-opacity="0.8"/>
<circle cx="57.3" cy="219.6" r="0.45" fill="#e8f4e0" fill-opacity="0.8"/>
<circle cx="62.6" cy="217.6" r="0.45" fill="#e8f4e0" fill-opacity="0.8"/>
<circle cx="62.1" cy="216.9" r="0.45" fill="#e8f4e0" fill-opacity="0.8"/>
<circle cx="54.8" cy="223.6" r="0.45" fill="#e8f4e0" fill-opacity="0.8"/>
<circle cx="62.1" cy="224.1" r="0.45" fill="#e8f4e0" fill-opacity="0.8"/>
<circle cx="59.6" cy="221.6" r="0.45" fill="#e8f4e0" fill-opacity="0.8"/>
<circle cx="58.7" cy="223.5" r="0.45" fill="#e8f4e0" fill-opacity="0.8"/>
<circle cx="57.2" cy="222.3" r="0.45" fill="#e8f4e0" fill-opacity="0.8"/>
<circle cx="60.5" cy="221.0" r="0.45" fill="#e8f4e0" fill-opacity="0.8"/>
<circle cx="61.1" cy="223.3" r="0.45" fill="#e8f4e0" fill-opacity="0.8"/>
<circle cx="64.0" cy="222.0" r="0.45" fill="#e8f4e0" fill-opacity="0.8"/>
<circle cx="56.1" cy="219.4" r="0.45" fill="#e8f4e0" fill-opacity="0.8"/>
<circle cx="57.9" cy="224.8" r="0.45" fill="#e8f4e0" fill-opacity="0.8"/>
<circle cx="56.5" cy="222.7" r="0.45" fill="#e8f4e0" fill-opacity="0.8"/>
<circle cx="61.8" cy="215.7" r="0.45" fill="#e8f4e0" fill-opacity="0.8"/>
<circle cx="53.6" cy="222.0" r="0.45" fill="#e8f4e0" fill-opacity="0.8"/>
<circle cx="59.8" cy="222.1" r="0.45" fill="#e8f4e0" fill-opacity="0.8"/>
<circle cx="56.2" cy="223.8" r="0.45" fill="#e8f4e0" fill-opacity="0.8"/>
<circle cx="59.2" cy="218.7" r="0.45" fill="#e8f4e0" fill-opacity="0.8"/>
<circle cx="64.3" cy="221.9" r="0.45" fill="#e8f4e0" fill-opacity="0.8"/>
<circle cx="55.6" cy="220.6" r="0.45" fill="#e8f4e0" fill-opacity="0.8"/>
<circle cx="57.0" cy="220.7" r="0.45" fill="#e8f4e0" fill-opacity="0.8"/>
<circle cx="51.7" cy="219.9" r="0.45" fill="#e8f4e0" fill-opacity="0.8"/>
<circle cx="61.5" cy="216.9" r="0.45" fill="#e8f4e0" fill-opacity="0.8"/>
<circle cx="57.7" cy="224.9" r="0.45" fill="#e8f4e0" fill-opacity="0.8"/>
<circle cx="60.8" cy="226.0" r="0.45" fill="#e8f4e0" fill-opacity="0.8"/>
<circle cx="52.4" cy="219.8" r="0.45" fill="#e8f4e0" fill-opacity="0.8"/>
<path d="M77.90,202.60C78.82,201.38 81.48,201.18 84.00,200.90C86.52,200.62 90.77,200.25 93.00,200.90C95.23,201.55 96.28,203.22 97.40,204.80C98.52,206.38 99.70,208.63 99.70,210.40C99.70,212.17 98.72,214.28 97.40,215.40C96.08,216.52 93.47,217.00 91.80,217.10C90.13,217.20 88.70,216.00 87.40,216.00C86.10,216.00 84.93,217.67 84.00,217.10C83.07,216.53 82.72,214.08 81.80,212.60C80.88,211.12 79.15,209.87 78.50,208.20C77.85,206.53 76.98,203.82 77.90,202.60Z" fill="#a63eb6" fill-opacity="1" filter="url(#spk1)"/>
<path d="M77.90,202.60C78.82,201.38 81.48,201.18 84.00,200.90C86.52,200.62 90.77,200.25 93.00,200.90C95.23,201.55 96.28,203.22 97.40,204.80C98.52,206.38 99.70,208.63 99.70,210.40C99.70,212.17 98.72,214.28 97.40,215.40C96.08,216.52 93.47,217.00 91.80,217.10C90.13,217.20 88.70,216.00 87.40,216.00C86.10,216.00 84.93,217.67 84.00,217.10C83.07,216.53 82.72,214.08 81.80,212.60C80.88,211.12 79.15,209.87 78.50,208.20C77.85,206.53 76.98,203.82 77.90,202.60Z" fill="#7a2090" filter="url(#spkD)"/>
<path d="M85.00,217.00C85.58,216.00 87.58,216.42 89.00,216.50C90.42,216.58 92.67,216.67 93.50,217.50C94.33,218.33 94.58,220.55 94.00,221.50C93.42,222.45 91.42,223.03 90.00,223.20C88.58,223.37 86.33,223.53 85.50,222.50C84.67,221.47 84.42,218.00 85.00,217.00Z" fill="#3a8a30" fill-opacity="1" filter="url(#spk1)"/>
<ellipse cx="88.5" cy="219.5" rx="2" ry="1.5" fill="#e0ecd0" fill-opacity="1" transform="rotate(0 88.5 219.5)"/>
<path d="M75.30,226.50C76.12,226.08 78.35,225.83 80.00,225.80C81.65,225.77 84.37,225.85 85.20,226.30C86.03,226.75 85.87,228.18 85.00,228.50C84.13,228.82 81.65,228.23 80.00,228.20C78.35,228.17 75.88,228.58 75.10,228.30C74.32,228.02 74.48,226.92 75.30,226.50Z" fill="#1a98a8" fill-opacity="1" />
<path d="M76.80,232.70C78.00,231.77 80.40,231.28 82.90,231.00C85.40,230.72 89.75,230.72 91.80,231.00C93.85,231.28 94.55,231.95 95.20,232.70C95.85,233.45 96.27,234.57 95.70,235.50C95.13,236.43 93.75,237.47 91.80,238.30C89.85,239.13 86.32,240.23 84.00,240.50C81.68,240.77 79.28,240.55 77.90,239.90C76.52,239.25 75.88,237.80 75.70,236.60C75.52,235.40 75.60,233.63 76.80,232.70Z" fill="#e22020" fill-opacity="1" filter="url(#spk1)"/>
<path d="M76.80,232.70C78.00,231.77 80.40,231.28 82.90,231.00C85.40,230.72 89.75,230.72 91.80,231.00C93.85,231.28 94.55,231.95 95.20,232.70C95.85,233.45 96.27,234.57 95.70,235.50C95.13,236.43 93.75,237.47 91.80,238.30C89.85,239.13 86.32,240.23 84.00,240.50C81.68,240.77 79.28,240.55 77.90,239.90C76.52,239.25 75.88,237.80 75.70,236.60C75.52,235.40 75.60,233.63 76.80,232.70Z" fill="#a01018" filter="url(#spkD)"/>
<circle cx="84.2" cy="236.5" r="0.45" fill="#ffffff" fill-opacity="0.6"/>
<circle cx="89.0" cy="231.8" r="0.45" fill="#ffffff" fill-opacity="0.6"/>
<circle cx="90.3" cy="232.5" r="0.45" fill="#ffffff" fill-opacity="0.6"/>
<circle cx="88.9" cy="232.3" r="0.45" fill="#ffffff" fill-opacity="0.6"/>
<circle cx="86.8" cy="237.5" r="0.45" fill="#ffffff" fill-opacity="0.6"/>
<circle cx="85.2" cy="235.5" r="0.45" fill="#ffffff" fill-opacity="0.6"/>
<circle cx="90.2" cy="235.3" r="0.45" fill="#ffffff" fill-opacity="0.6"/>
<circle cx="85.6" cy="237.9" r="0.45" fill="#ffffff" fill-opacity="0.6"/>
<circle cx="91.2" cy="234.4" r="0.45" fill="#ffffff" fill-opacity="0.6"/>
<circle cx="93.3" cy="233.7" r="0.45" fill="#ffffff" fill-opacity="0.6"/>
<circle cx="90.6" cy="234.4" r="0.45" fill="#ffffff" fill-opacity="0.6"/>
<circle cx="86.7" cy="236.6" r="0.45" fill="#ffffff" fill-opacity="0.6"/>
<circle cx="87.2" cy="236.5" r="0.45" fill="#ffffff" fill-opacity="0.6"/>
<circle cx="80.6" cy="232.7" r="0.45" fill="#ffffff" fill-opacity="0.6"/>
<circle cx="89.0" cy="233.0" r="0.45" fill="#ffffff" fill-opacity="0.6"/>
<circle cx="81.9" cy="232.4" r="0.45" fill="#ffffff" fill-opacity="0.6"/>
<circle cx="91.6" cy="236.4" r="0.45" fill="#ffffff" fill-opacity="0.6"/>
<circle cx="92.0" cy="233.3" r="0.45" fill="#ffffff" fill-opacity="0.6"/>
<circle cx="86.0" cy="232.6" r="0.45" fill="#ffffff" fill-opacity="0.6"/>
<circle cx="89.1" cy="237.8" r="0.45" fill="#ffffff" fill-opacity="0.6"/>
<circle cx="82.5" cy="237.7" r="0.45" fill="#ffffff" fill-opacity="0.6"/>
<circle cx="91.0" cy="234.6" r="0.45" fill="#ffffff" fill-opacity="0.6"/>
<circle cx="79.7" cy="237.0" r="0.45" fill="#ffffff" fill-opacity="0.6"/>
<circle cx="85.5" cy="233.6" r="0.45" fill="#ffffff" fill-opacity="0.6"/>
<circle cx="88.2" cy="236.0" r="0.45" fill="#ffffff" fill-opacity="0.6"/>
<rect x="110.9" y="195.3" width="62.19999999999999" height="51.0" fill="none" stroke="#555" stroke-width="0.9"/>
<line x1="108.30000000000001" y1="244.8" x2="110.9" y2="244.8" stroke="#555" stroke-width="0.55"/>
<line x1="109.4" y1="242.4" x2="110.9" y2="242.4" stroke="#555" stroke-width="0.55"/>
<line x1="109.4" y1="240.0" x2="110.9" y2="240.0" stroke="#555" stroke-width="0.55"/>
<line x1="109.4" y1="237.60000000000002" x2="110.9" y2="237.60000000000002" stroke="#555" stroke-width="0.55"/>
<line x1="109.4" y1="235.20000000000002" x2="110.9" y2="235.20000000000002" stroke="#555" stroke-width="0.55"/>
<line x1="108.30000000000001" y1="232.8" x2="110.9" y2="232.8" stroke="#555" stroke-width="0.55"/>
<line x1="109.4" y1="230.4" x2="110.9" y2="230.4" stroke="#555" stroke-width="0.55"/>
<line x1="109.4" y1="228.0" x2="110.9" y2="228.0" stroke="#555" stroke-width="0.55"/>
<line x1="109.4" y1="225.60000000000002" x2="110.9" y2="225.60000000000002" stroke="#555" stroke-width="0.55"/>
<line x1="109.4" y1="223.20000000000002" x2="110.9" y2="223.20000000000002" stroke="#555" stroke-width="0.55"/>
<line x1="108.30000000000001" y1="220.8" x2="110.9" y2="220.8" stroke="#555" stroke-width="0.55"/>
<line x1="109.4" y1="218.4" x2="110.9" y2="218.4" stroke="#555" stroke-width="0.55"/>
<line x1="109.4" y1="216.0" x2="110.9" y2="216.0" stroke="#555" stroke-width="0.55"/>
<line x1="109.4" y1="213.60000000000002" x2="110.9" y2="213.60000000000002" stroke="#555" stroke-width="0.55"/>
<line x1="109.4" y1="211.20000000000002" x2="110.9" y2="211.20000000000002" stroke="#555" stroke-width="0.55"/>
<line x1="108.30000000000001" y1="208.8" x2="110.9" y2="208.8" stroke="#555" stroke-width="0.55"/>
<line x1="109.4" y1="206.4" x2="110.9" y2="206.4" stroke="#555" stroke-width="0.55"/>
<line x1="109.4" y1="204.0" x2="110.9" y2="204.0" stroke="#555" stroke-width="0.55"/>
<line x1="109.4" y1="201.60000000000002" x2="110.9" y2="201.60000000000002" stroke="#555" stroke-width="0.55"/>
<line x1="109.4" y1="199.20000000000002" x2="110.9" y2="199.20000000000002" stroke="#555" stroke-width="0.55"/>
<line x1="108.30000000000001" y1="196.8" x2="110.9" y2="196.8" stroke="#555" stroke-width="0.55"/>
<line x1="112.4" y1="246.3" x2="112.4" y2="248.9" stroke="#555" stroke-width="0.55"/>
<line x1="114.80000000000001" y1="246.3" x2="114.80000000000001" y2="247.8" stroke="#555" stroke-width="0.55"/>
<line x1="117.2" y1="246.3" x2="117.2" y2="247.8" stroke="#555" stroke-width="0.55"/>
<line x1="119.60000000000001" y1="246.3" x2="119.60000000000001" y2="247.8" stroke="#555" stroke-width="0.55"/>
<line x1="122.0" y1="246.3" x2="122.0" y2="247.8" stroke="#555" stroke-width="0.55"/>
<line x1="124.4" y1="246.3" x2="124.4" y2="248.9" stroke="#555" stroke-width="0.55"/>
<line x1="126.80000000000001" y1="246.3" x2="126.80000000000001" y2="247.8" stroke="#555" stroke-width="0.55"/>
<line x1="129.20000000000002" y1="246.3" x2="129.20000000000002" y2="247.8" stroke="#555" stroke-width="0.55"/>
<line x1="131.6" y1="246.3" x2="131.6" y2="247.8" stroke="#555" stroke-width="0.55"/>
<line x1="134.0" y1="246.3" x2="134.0" y2="247.8" stroke="#555" stroke-width="0.55"/>
<line x1="136.4" y1="246.3" x2="136.4" y2="248.9" stroke="#555" stroke-width="0.55"/>
<line x1="138.8" y1="246.3" x2="138.8" y2="247.8" stroke="#555" stroke-width="0.55"/>
<line x1="141.2" y1="246.3" x2="141.2" y2="247.8" stroke="#555" stroke-width="0.55"/>
<line x1="143.6" y1="246.3" x2="143.6" y2="247.8" stroke="#555" stroke-width="0.55"/>
<line x1="146.0" y1="246.3" x2="146.0" y2="247.8" stroke="#555" stroke-width="0.55"/>
<line x1="148.4" y1="246.3" x2="148.4" y2="248.9" stroke="#555" stroke-width="0.55"/>
<line x1="150.8" y1="246.3" x2="150.8" y2="247.8" stroke="#555" stroke-width="0.55"/>
<line x1="153.2" y1="246.3" x2="153.2" y2="247.8" stroke="#555" stroke-width="0.55"/>
<line x1="155.6" y1="246.3" x2="155.6" y2="247.8" stroke="#555" stroke-width="0.55"/>
<line x1="158.0" y1="246.3" x2="158.0" y2="247.8" stroke="#555" stroke-width="0.55"/>
<line x1="160.4" y1="246.3" x2="160.4" y2="248.9" stroke="#555" stroke-width="0.55"/>
<line x1="162.8" y1="246.3" x2="162.8" y2="247.8" stroke="#555" stroke-width="0.55"/>
<line x1="165.2" y1="246.3" x2="165.2" y2="247.8" stroke="#555" stroke-width="0.55"/>
<line x1="167.6" y1="246.3" x2="167.6" y2="247.8" stroke="#555" stroke-width="0.55"/>
<line x1="170.0" y1="246.3" x2="170.0" y2="247.8" stroke="#555" stroke-width="0.55"/>
<path d="M119.10,214.80C120.13,213.60 122.43,212.28 124.20,212.10C125.97,211.92 128.13,212.50 129.70,213.70C131.27,214.90 132.85,217.43 133.60,219.30C134.35,221.17 134.67,223.23 134.20,224.90C133.73,226.57 132.47,228.57 130.80,229.30C129.13,230.03 125.97,230.03 124.20,229.30C122.43,228.57 121.23,226.57 120.20,224.90C119.17,223.23 118.18,220.98 118.00,219.30C117.82,217.62 118.07,216.00 119.10,214.80Z" fill="#5aa84a" fill-opacity="1" filter="url(#spk1)"/>
<path d="M119.10,214.80C120.13,213.60 122.43,212.28 124.20,212.10C125.97,211.92 128.13,212.50 129.70,213.70C131.27,214.90 132.85,217.43 133.60,219.30C134.35,221.17 134.67,223.23 134.20,224.90C133.73,226.57 132.47,228.57 130.80,229.30C129.13,230.03 125.97,230.03 124.20,229.30C122.43,228.57 121.23,226.57 120.20,224.90C119.17,223.23 118.18,220.98 118.00,219.30C117.82,217.62 118.07,216.00 119.10,214.80Z" fill="#2a6a22" filter="url(#spkD)"/>
<circle cx="130.8" cy="217.7" r="0.45" fill="#e8f4e0" fill-opacity="0.8"/>
<circle cx="129.6" cy="225.7" r="0.45" fill="#e8f4e0" fill-opacity="0.8"/>
<circle cx="131.2" cy="220.3" r="0.45" fill="#e8f4e0" fill-opacity="0.8"/>
<circle cx="123.2" cy="224.9" r="0.45" fill="#e8f4e0" fill-opacity="0.8"/>
<circle cx="126.5" cy="221.6" r="0.45" fill="#e8f4e0" fill-opacity="0.8"/>
<circle cx="131.2" cy="220.0" r="0.45" fill="#e8f4e0" fill-opacity="0.8"/>
<circle cx="119.8" cy="220.0" r="0.45" fill="#e8f4e0" fill-opacity="0.8"/>
<circle cx="120.4" cy="223.5" r="0.45" fill="#e8f4e0" fill-opacity="0.8"/>
<circle cx="127.4" cy="218.3" r="0.45" fill="#e8f4e0" fill-opacity="0.8"/>
<circle cx="126.0" cy="224.5" r="0.45" fill="#e8f4e0" fill-opacity="0.8"/>
<circle cx="126.3" cy="226.0" r="0.45" fill="#e8f4e0" fill-opacity="0.8"/>
<circle cx="125.8" cy="225.2" r="0.45" fill="#e8f4e0" fill-opacity="0.8"/>
<circle cx="130.2" cy="225.5" r="0.45" fill="#e8f4e0" fill-opacity="0.8"/>
<circle cx="123.3" cy="224.5" r="0.45" fill="#e8f4e0" fill-opacity="0.8"/>
<circle cx="120.6" cy="217.9" r="0.45" fill="#e8f4e0" fill-opacity="0.8"/>
<circle cx="120.5" cy="224.0" r="0.45" fill="#e8f4e0" fill-opacity="0.8"/>
<circle cx="121.3" cy="221.0" r="0.45" fill="#e8f4e0" fill-opacity="0.8"/>
<circle cx="125.1" cy="220.9" r="0.45" fill="#e8f4e0" fill-opacity="0.8"/>
<circle cx="123.4" cy="222.0" r="0.45" fill="#e8f4e0" fill-opacity="0.8"/>
<circle cx="131.8" cy="221.1" r="0.45" fill="#e8f4e0" fill-opacity="0.8"/>
<circle cx="128.1" cy="225.0" r="0.45" fill="#e8f4e0" fill-opacity="0.8"/>
<circle cx="125.2" cy="216.2" r="0.45" fill="#e8f4e0" fill-opacity="0.8"/>
<circle cx="123.8" cy="225.2" r="0.45" fill="#e8f4e0" fill-opacity="0.8"/>
<circle cx="120.6" cy="219.0" r="0.45" fill="#e8f4e0" fill-opacity="0.8"/>
<circle cx="129.8" cy="224.0" r="0.45" fill="#e8f4e0" fill-opacity="0.8"/>
<circle cx="126.0" cy="224.4" r="0.45" fill="#e8f4e0" fill-opacity="0.8"/>
<circle cx="126.6" cy="216.4" r="0.45" fill="#e8f4e0" fill-opacity="0.8"/>
<circle cx="120.8" cy="218.9" r="0.45" fill="#e8f4e0" fill-opacity="0.8"/>
<circle cx="129.7" cy="218.7" r="0.45" fill="#e8f4e0" fill-opacity="0.8"/>
<circle cx="122.5" cy="218.0" r="0.45" fill="#e8f4e0" fill-opacity="0.8"/>
<circle cx="120.6" cy="220.6" r="0.45" fill="#e8f4e0" fill-opacity="0.8"/>
<circle cx="121.5" cy="222.4" r="0.45" fill="#e8f4e0" fill-opacity="0.8"/>
<circle cx="119.8" cy="221.9" r="0.45" fill="#e8f4e0" fill-opacity="0.8"/>
<circle cx="124.1" cy="215.2" r="0.45" fill="#e8f4e0" fill-opacity="0.8"/>
<circle cx="129.1" cy="219.8" r="0.45" fill="#e8f4e0" fill-opacity="0.8"/>
<circle cx="120.1" cy="218.7" r="0.45" fill="#e8f4e0" fill-opacity="0.8"/>
<circle cx="127.3" cy="219.0" r="0.45" fill="#e8f4e0" fill-opacity="0.8"/>
<circle cx="129.1" cy="224.0" r="0.45" fill="#e8f4e0" fill-opacity="0.8"/>
<circle cx="128.9" cy="222.4" r="0.45" fill="#e8f4e0" fill-opacity="0.8"/>
<circle cx="130.8" cy="223.4" r="0.45" fill="#e8f4e0" fill-opacity="0.8"/>
<circle cx="127.3" cy="215.0" r="0.45" fill="#e8f4e0" fill-opacity="0.8"/>
<circle cx="129.1" cy="225.5" r="0.45" fill="#e8f4e0" fill-opacity="0.8"/>
<circle cx="124.7" cy="218.9" r="0.45" fill="#e8f4e0" fill-opacity="0.8"/>
<circle cx="130.7" cy="216.7" r="0.45" fill="#e8f4e0" fill-opacity="0.8"/>
<circle cx="127.2" cy="227.2" r="0.45" fill="#e8f4e0" fill-opacity="0.8"/>
<circle cx="122.4" cy="223.7" r="0.45" fill="#e8f4e0" fill-opacity="0.8"/>
<circle cx="131.9" cy="220.6" r="0.45" fill="#e8f4e0" fill-opacity="0.8"/>
<circle cx="128.3" cy="224.6" r="0.45" fill="#e8f4e0" fill-opacity="0.8"/>
<circle cx="122.2" cy="220.6" r="0.45" fill="#e8f4e0" fill-opacity="0.8"/>
<circle cx="127.2" cy="224.5" r="0.45" fill="#e8f4e0" fill-opacity="0.8"/>
<circle cx="125.8" cy="220.1" r="0.45" fill="#e8f4e0" fill-opacity="0.8"/>
<circle cx="121.9" cy="219.6" r="0.45" fill="#e8f4e0" fill-opacity="0.8"/>
<circle cx="129.7" cy="221.4" r="0.45" fill="#e8f4e0" fill-opacity="0.8"/>
<circle cx="122.7" cy="217.7" r="0.45" fill="#e8f4e0" fill-opacity="0.8"/>
<circle cx="131.9" cy="223.5" r="0.45" fill="#e8f4e0" fill-opacity="0.8"/>
<circle cx="127.5" cy="214.8" r="0.45" fill="#e8f4e0" fill-opacity="0.8"/>
<circle cx="128.6" cy="223.0" r="0.45" fill="#e8f4e0" fill-opacity="0.8"/>
<circle cx="131.6" cy="222.4" r="0.45" fill="#e8f4e0" fill-opacity="0.8"/>
<circle cx="125.7" cy="223.3" r="0.45" fill="#e8f4e0" fill-opacity="0.8"/>
<circle cx="120.5" cy="223.9" r="0.45" fill="#e8f4e0" fill-opacity="0.8"/>
<circle cx="127.4" cy="218.0" r="0.45" fill="#e8f4e0" fill-opacity="0.8"/>
<circle cx="129.7" cy="226.0" r="0.45" fill="#e8f4e0" fill-opacity="0.8"/>
<circle cx="121.1" cy="218.7" r="0.45" fill="#e8f4e0" fill-opacity="0.8"/>
<circle cx="127.3" cy="221.8" r="0.45" fill="#e8f4e0" fill-opacity="0.8"/>
<circle cx="124.4" cy="217.1" r="0.45" fill="#e8f4e0" fill-opacity="0.8"/>
<circle cx="131.7" cy="223.8" r="0.45" fill="#e8f4e0" fill-opacity="0.8"/>
<circle cx="122.1" cy="216.6" r="0.45" fill="#e8f4e0" fill-opacity="0.8"/>
<circle cx="131.2" cy="224.0" r="0.45" fill="#e8f4e0" fill-opacity="0.8"/>
<circle cx="131.5" cy="223.5" r="0.45" fill="#e8f4e0" fill-opacity="0.8"/>
<circle cx="122.4" cy="222.1" r="0.45" fill="#e8f4e0" fill-opacity="0.8"/>
<path d="M146.50,203.70C147.90,202.40 150.78,201.87 153.20,201.50C155.62,201.13 158.97,200.77 161.00,201.50C163.03,202.23 164.48,204.23 165.40,205.90C166.32,207.57 166.68,209.92 166.50,211.50C166.32,213.08 165.60,214.65 164.30,215.40C163.00,216.15 160.37,215.90 158.70,216.00C157.03,216.10 155.60,215.82 154.30,216.00C153.00,216.18 152.20,217.30 150.90,217.10C149.60,216.90 147.52,216.10 146.50,214.80C145.48,213.50 144.80,211.15 144.80,209.30C144.80,207.45 145.10,205.00 146.50,203.70Z" fill="#a63eb6" fill-opacity="1" filter="url(#spk1)"/>
<path d="M146.50,203.70C147.90,202.40 150.78,201.87 153.20,201.50C155.62,201.13 158.97,200.77 161.00,201.50C163.03,202.23 164.48,204.23 165.40,205.90C166.32,207.57 166.68,209.92 166.50,211.50C166.32,213.08 165.60,214.65 164.30,215.40C163.00,216.15 160.37,215.90 158.70,216.00C157.03,216.10 155.60,215.82 154.30,216.00C153.00,216.18 152.20,217.30 150.90,217.10C149.60,216.90 147.52,216.10 146.50,214.80C145.48,213.50 144.80,211.15 144.80,209.30C144.80,207.45 145.10,205.00 146.50,203.70Z" fill="#7a2090" filter="url(#spkD)"/>
<path d="M152.50,216.50C153.17,215.42 155.50,215.92 157.00,216.00C158.50,216.08 160.67,216.08 161.50,217.00C162.33,217.92 162.58,220.47 162.00,221.50C161.42,222.53 159.50,223.03 158.00,223.20C156.50,223.37 153.92,223.62 153.00,222.50C152.08,221.38 151.83,217.58 152.50,216.50Z" fill="#3a8a30" fill-opacity="1" filter="url(#spk1)"/>
<ellipse cx="156" cy="219.3" rx="2" ry="1.5" fill="#e0ecd0" fill-opacity="1" transform="rotate(0 156 219.3)"/>
<path d="M143.20,227.00C144.02,226.53 146.43,226.60 148.00,226.60C149.57,226.60 151.87,226.48 152.60,227.00C153.33,227.52 153.17,229.22 152.40,229.70C151.63,230.18 149.55,229.95 148.00,229.90C146.45,229.85 143.90,229.88 143.10,229.40C142.30,228.92 142.38,227.47 143.20,227.00Z" fill="#1a98a8" fill-opacity="1" />
<path d="M144.20,233.80C145.47,232.95 148.10,232.38 150.90,232.10C153.70,231.82 158.87,231.72 161.00,232.10C163.13,232.48 163.33,233.47 163.70,234.40C164.07,235.33 164.22,236.78 163.20,237.70C162.18,238.62 159.83,239.15 157.60,239.90C155.37,240.65 151.93,242.10 149.80,242.20C147.67,242.30 145.88,241.33 144.80,240.50C143.72,239.67 143.40,238.32 143.30,237.20C143.20,236.08 142.93,234.65 144.20,233.80Z" fill="#e22020" fill-opacity="1" filter="url(#spk1)"/>
<path d="M144.20,233.80C145.47,232.95 148.10,232.38 150.90,232.10C153.70,231.82 158.87,231.72 161.00,232.10C163.13,232.48 163.33,233.47 163.70,234.40C164.07,235.33 164.22,236.78 163.20,237.70C162.18,238.62 159.83,239.15 157.60,239.90C155.37,240.65 151.93,242.10 149.80,242.20C147.67,242.30 145.88,241.33 144.80,240.50C143.72,239.67 143.40,238.32 143.30,237.20C143.20,236.08 142.93,234.65 144.20,233.80Z" fill="#a01018" filter="url(#spkD)"/>
<circle cx="146.7" cy="234.9" r="0.45" fill="#ffffff" fill-opacity="0.6"/>
<circle cx="153.7" cy="237.3" r="0.45" fill="#ffffff" fill-opacity="0.6"/>
<circle cx="150.1" cy="235.7" r="0.45" fill="#ffffff" fill-opacity="0.6"/>
<circle cx="156.5" cy="236.9" r="0.45" fill="#ffffff" fill-opacity="0.6"/>
<circle cx="157.4" cy="236.5" r="0.45" fill="#ffffff" fill-opacity="0.6"/>
<circle cx="152.3" cy="237.8" r="0.45" fill="#ffffff" fill-opacity="0.6"/>
<circle cx="154.3" cy="234.1" r="0.45" fill="#ffffff" fill-opacity="0.6"/>
<circle cx="150.6" cy="236.0" r="0.45" fill="#ffffff" fill-opacity="0.6"/>
<circle cx="153.4" cy="236.4" r="0.45" fill="#ffffff" fill-opacity="0.6"/>
<circle cx="154.0" cy="236.4" r="0.45" fill="#ffffff" fill-opacity="0.6"/>
<circle cx="153.4" cy="233.4" r="0.45" fill="#ffffff" fill-opacity="0.6"/>
<circle cx="156.0" cy="238.2" r="0.45" fill="#ffffff" fill-opacity="0.6"/>
<circle cx="156.4" cy="235.5" r="0.45" fill="#ffffff" fill-opacity="0.6"/>
<circle cx="156.2" cy="233.9" r="0.45" fill="#ffffff" fill-opacity="0.6"/>
<circle cx="146.7" cy="236.1" r="0.45" fill="#ffffff" fill-opacity="0.6"/>
<circle cx="149.5" cy="237.6" r="0.45" fill="#ffffff" fill-opacity="0.6"/>
<circle cx="151.0" cy="232.8" r="0.45" fill="#ffffff" fill-opacity="0.6"/>
<circle cx="150.0" cy="238.7" r="0.45" fill="#ffffff" fill-opacity="0.6"/>
<circle cx="152.3" cy="233.3" r="0.45" fill="#ffffff" fill-opacity="0.6"/>
<circle cx="150.1" cy="237.2" r="0.45" fill="#ffffff" fill-opacity="0.6"/>
<circle cx="156.7" cy="236.4" r="0.45" fill="#ffffff" fill-opacity="0.6"/>
<circle cx="160.2" cy="237.3" r="0.45" fill="#ffffff" fill-opacity="0.6"/>
<circle cx="153.9" cy="237.4" r="0.45" fill="#ffffff" fill-opacity="0.6"/>
<circle cx="160.3" cy="237.6" r="0.45" fill="#ffffff" fill-opacity="0.6"/>
<circle cx="158.5" cy="233.9" r="0.45" fill="#ffffff" fill-opacity="0.6"/>
<rect x="178.6" y="195.3" width="62.5" height="51.0" fill="none" stroke="#555" stroke-width="0.9"/>
<line x1="176.0" y1="244.8" x2="178.6" y2="244.8" stroke="#555" stroke-width="0.55"/>
<line x1="177.1" y1="242.4" x2="178.6" y2="242.4" stroke="#555" stroke-width="0.55"/>
<line x1="177.1" y1="240.0" x2="178.6" y2="240.0" stroke="#555" stroke-width="0.55"/>
<line x1="177.1" y1="237.60000000000002" x2="178.6" y2="237.60000000000002" stroke="#555" stroke-width="0.55"/>
<line x1="177.1" y1="235.20000000000002" x2="178.6" y2="235.20000000000002" stroke="#555" stroke-width="0.55"/>
<line x1="176.0" y1="232.8" x2="178.6" y2="232.8" stroke="#555" stroke-width="0.55"/>
<line x1="177.1" y1="230.4" x2="178.6" y2="230.4" stroke="#555" stroke-width="0.55"/>
<line x1="177.1" y1="228.0" x2="178.6" y2="228.0" stroke="#555" stroke-width="0.55"/>
<line x1="177.1" y1="225.60000000000002" x2="178.6" y2="225.60000000000002" stroke="#555" stroke-width="0.55"/>
<line x1="177.1" y1="223.20000000000002" x2="178.6" y2="223.20000000000002" stroke="#555" stroke-width="0.55"/>
<line x1="176.0" y1="220.8" x2="178.6" y2="220.8" stroke="#555" stroke-width="0.55"/>
<line x1="177.1" y1="218.4" x2="178.6" y2="218.4" stroke="#555" stroke-width="0.55"/>
<line x1="177.1" y1="216.0" x2="178.6" y2="216.0" stroke="#555" stroke-width="0.55"/>
<line x1="177.1" y1="213.60000000000002" x2="178.6" y2="213.60000000000002" stroke="#555" stroke-width="0.55"/>
<line x1="177.1" y1="211.20000000000002" x2="178.6" y2="211.20000000000002" stroke="#555" stroke-width="0.55"/>
<line x1="176.0" y1="208.8" x2="178.6" y2="208.8" stroke="#555" stroke-width="0.55"/>
<line x1="177.1" y1="206.4" x2="178.6" y2="206.4" stroke="#555" stroke-width="0.55"/>
<line x1="177.1" y1="204.0" x2="178.6" y2="204.0" stroke="#555" stroke-width="0.55"/>
<line x1="177.1" y1="201.60000000000002" x2="178.6" y2="201.60000000000002" stroke="#555" stroke-width="0.55"/>
<line x1="177.1" y1="199.20000000000002" x2="178.6" y2="199.20000000000002" stroke="#555" stroke-width="0.55"/>
<line x1="176.0" y1="196.8" x2="178.6" y2="196.8" stroke="#555" stroke-width="0.55"/>
<line x1="180.1" y1="246.3" x2="180.1" y2="248.9" stroke="#555" stroke-width="0.55"/>
<line x1="182.5" y1="246.3" x2="182.5" y2="247.8" stroke="#555" stroke-width="0.55"/>
<line x1="184.9" y1="246.3" x2="184.9" y2="247.8" stroke="#555" stroke-width="0.55"/>
<line x1="187.29999999999998" y1="246.3" x2="187.29999999999998" y2="247.8" stroke="#555" stroke-width="0.55"/>
<line x1="189.7" y1="246.3" x2="189.7" y2="247.8" stroke="#555" stroke-width="0.55"/>
<line x1="192.1" y1="246.3" x2="192.1" y2="248.9" stroke="#555" stroke-width="0.55"/>
<line x1="194.5" y1="246.3" x2="194.5" y2="247.8" stroke="#555" stroke-width="0.55"/>
<line x1="196.9" y1="246.3" x2="196.9" y2="247.8" stroke="#555" stroke-width="0.55"/>
<line x1="199.29999999999998" y1="246.3" x2="199.29999999999998" y2="247.8" stroke="#555" stroke-width="0.55"/>
<line x1="201.7" y1="246.3" x2="201.7" y2="247.8" stroke="#555" stroke-width="0.55"/>
<line x1="204.1" y1="246.3" x2="204.1" y2="248.9" stroke="#555" stroke-width="0.55"/>
<line x1="206.5" y1="246.3" x2="206.5" y2="247.8" stroke="#555" stroke-width="0.55"/>
<line x1="208.89999999999998" y1="246.3" x2="208.89999999999998" y2="247.8" stroke="#555" stroke-width="0.55"/>
<line x1="211.29999999999998" y1="246.3" x2="211.29999999999998" y2="247.8" stroke="#555" stroke-width="0.55"/>
<line x1="213.7" y1="246.3" x2="213.7" y2="247.8" stroke="#555" stroke-width="0.55"/>
<line x1="216.1" y1="246.3" x2="216.1" y2="248.9" stroke="#555" stroke-width="0.55"/>
<line x1="218.5" y1="246.3" x2="218.5" y2="247.8" stroke="#555" stroke-width="0.55"/>
<line x1="220.89999999999998" y1="246.3" x2="220.89999999999998" y2="247.8" stroke="#555" stroke-width="0.55"/>
<line x1="223.29999999999998" y1="246.3" x2="223.29999999999998" y2="247.8" stroke="#555" stroke-width="0.55"/>
<line x1="225.7" y1="246.3" x2="225.7" y2="247.8" stroke="#555" stroke-width="0.55"/>
<line x1="228.1" y1="246.3" x2="228.1" y2="248.9" stroke="#555" stroke-width="0.55"/>
<line x1="230.5" y1="246.3" x2="230.5" y2="247.8" stroke="#555" stroke-width="0.55"/>
<line x1="232.89999999999998" y1="246.3" x2="232.89999999999998" y2="247.8" stroke="#555" stroke-width="0.55"/>
<line x1="235.29999999999998" y1="246.3" x2="235.29999999999998" y2="247.8" stroke="#555" stroke-width="0.55"/>
<line x1="237.7" y1="246.3" x2="237.7" y2="247.8" stroke="#555" stroke-width="0.55"/>
<path d="M193.50,206.50C193.93,205.72 195.37,203.98 196.60,203.90C197.83,203.82 199.67,205.03 200.90,206.00C202.13,206.97 203.83,208.73 204.00,209.70C204.17,210.67 202.95,211.63 201.90,211.80C200.85,211.97 199.02,211.23 197.70,210.70C196.38,210.17 194.70,209.30 194.00,208.60C193.30,207.90 193.07,207.28 193.50,206.50Z" fill="#4a8a30" fill-opacity="1" filter="url(#spk1)"/>
<ellipse cx="207.5" cy="223.2" rx="0.8" ry="1.8" fill="#4a8a30" fill-opacity="1" transform="rotate(0 207.5 223.2)"/>
<path d="M214.60,201.20C216.18,200.40 219.35,199.95 222.00,199.60C224.65,199.25 228.92,198.30 230.50,199.10C232.08,199.90 231.50,202.63 231.50,204.40C231.50,206.17 231.55,208.12 230.50,209.70C229.45,211.28 226.78,212.67 225.20,213.90C223.62,215.13 222.42,216.65 221.00,217.10C219.58,217.55 218.30,216.52 216.70,216.60C215.10,216.68 212.72,217.95 211.40,217.60C210.08,217.25 208.97,215.82 208.80,214.50C208.63,213.18 209.78,211.38 210.40,209.70C211.02,208.02 211.80,205.82 212.50,204.40C213.20,202.98 213.02,202.00 214.60,201.20Z" fill="#a63eb6" fill-opacity="1" filter="url(#spk1)"/>
<path d="M214.60,201.20C216.18,200.40 219.35,199.95 222.00,199.60C224.65,199.25 228.92,198.30 230.50,199.10C232.08,199.90 231.50,202.63 231.50,204.40C231.50,206.17 231.55,208.12 230.50,209.70C229.45,211.28 226.78,212.67 225.20,213.90C223.62,215.13 222.42,216.65 221.00,217.10C219.58,217.55 218.30,216.52 216.70,216.60C215.10,216.68 212.72,217.95 211.40,217.60C210.08,217.25 208.97,215.82 208.80,214.50C208.63,213.18 209.78,211.38 210.40,209.70C211.02,208.02 211.80,205.82 212.50,204.40C213.20,202.98 213.02,202.00 214.60,201.20Z" fill="#7a2090" filter="url(#spkD)"/>
<path d="M230.50,219.50C230.98,219.03 232.80,218.78 233.50,219.20C234.20,219.62 234.87,221.20 234.70,222.00C234.53,222.80 233.18,224.00 232.50,224.00C231.82,224.00 230.93,222.75 230.60,222.00C230.27,221.25 230.02,219.97 230.50,219.50Z" fill="#a63eb6" fill-opacity="1" filter="url(#spk1)"/>
<path d="M230.50,219.50C230.98,219.03 232.80,218.78 233.50,219.20C234.20,219.62 234.87,221.20 234.70,222.00C234.53,222.80 233.18,224.00 232.50,224.00C231.82,224.00 230.93,222.75 230.60,222.00C230.27,221.25 230.02,219.97 230.50,219.50Z" fill="#7a2090" filter="url(#spkD)"/>
<ellipse cx="225.2" cy="219" rx="2.2" ry="1.8" fill="#4a9a30" fill-opacity="0.9" transform="rotate(0 225.2 219)"/>
<path d="M213.80,227.00C214.30,226.57 215.80,226.32 217.00,226.40C218.20,226.48 220.50,227.02 221.00,227.50C221.50,227.98 221.17,229.05 220.00,229.30C218.83,229.55 215.03,229.38 214.00,229.00C212.97,228.62 213.30,227.43 213.80,227.00Z" fill="#1a98a8" fill-opacity="1" />
<path d="M213.00,232.40C213.97,231.68 216.77,231.23 218.80,230.80C220.83,230.37 223.25,229.62 225.20,229.80C227.15,229.98 229.53,230.93 230.50,231.90C231.47,232.87 231.72,234.63 231.00,235.60C230.28,236.57 228.05,237.08 226.20,237.70C224.35,238.32 221.83,239.30 219.90,239.30C217.97,239.30 215.75,238.40 214.60,237.70C213.45,237.00 213.27,235.98 213.00,235.10C212.73,234.22 212.03,233.12 213.00,232.40Z" fill="#e22020" fill-opacity="1" filter="url(#spk1)"/>
<path d="M213.00,232.40C213.97,231.68 216.77,231.23 218.80,230.80C220.83,230.37 223.25,229.62 225.20,229.80C227.15,229.98 229.53,230.93 230.50,231.90C231.47,232.87 231.72,234.63 231.00,235.60C230.28,236.57 228.05,237.08 226.20,237.70C224.35,238.32 221.83,239.30 219.90,239.30C217.97,239.30 215.75,238.40 214.60,237.70C213.45,237.00 213.27,235.98 213.00,235.10C212.73,234.22 212.03,233.12 213.00,232.40Z" fill="#a01018" filter="url(#spkD)"/>
<text x="307.2" y="114.3" font-size="7.9" text-anchor="middle" font-weight="normal" fill="#333" color="#333" >Vδ1-Vδ2- cluster</text>
<line x1="278.2" y1="120.7" x2="278.2" y2="176.8" stroke="#1a1a1a" stroke-width="1.1"/>
<line x1="277.59999999999997" y1="176.3" x2="336" y2="176.3" stroke="#1a1a1a" stroke-width="1.1"/>
<line x1="275.9" y1="176.3" x2="278.2" y2="176.3" stroke="#1a1a1a" stroke-width="0.9"/>
<text x="272.2" y="178.20000000000002" font-size="6.2" text-anchor="end" font-weight="normal" fill="#333" color="#333" >0</text>
<line x1="275.9" y1="165.54000000000002" x2="278.2" y2="165.54000000000002" stroke="#1a1a1a" stroke-width="0.9"/>
<text x="272.2" y="167.44000000000003" font-size="6.2" text-anchor="end" font-weight="normal" fill="#333" color="#333" >20</text>
<line x1="275.9" y1="154.78" x2="278.2" y2="154.78" stroke="#1a1a1a" stroke-width="0.9"/>
<text x="272.2" y="156.68" font-size="6.2" text-anchor="end" font-weight="normal" fill="#333" color="#333" >40</text>
<line x1="275.9" y1="144.02" x2="278.2" y2="144.02" stroke="#1a1a1a" stroke-width="0.9"/>
<text x="272.2" y="145.92000000000002" font-size="6.2" text-anchor="end" font-weight="normal" fill="#333" color="#333" >60</text>
<line x1="275.9" y1="133.26" x2="278.2" y2="133.26" stroke="#1a1a1a" stroke-width="0.9"/>
<text x="272.2" y="135.16" font-size="6.2" text-anchor="end" font-weight="normal" fill="#333" color="#333" >80</text>
<line x1="275.9" y1="122.5" x2="278.2" y2="122.5" stroke="#1a1a1a" stroke-width="0.9"/>
<text x="272.2" y="124.4" font-size="6.2" text-anchor="end" font-weight="normal" fill="#333" color="#333" >100</text>
<line x1="287.2" y1="176.3" x2="287.2" y2="178.5" stroke="#1a1a1a" stroke-width="0.9"/>
<text x="287.2" y="188" font-size="6.2" text-anchor="middle" font-weight="normal" fill="#333" color="#333" >T30</text>
<line x1="307" y1="176.3" x2="307" y2="178.5" stroke="#1a1a1a" stroke-width="0.9"/>
<text x="307" y="188" font-size="6.2" text-anchor="middle" font-weight="normal" fill="#333" color="#333" >T60</text>
<line x1="327" y1="176.3" x2="327" y2="178.5" stroke="#1a1a1a" stroke-width="0.9"/>
<text x="327" y="188" font-size="6.2" text-anchor="middle" font-weight="normal" fill="#333" color="#333" >T120</text>
<text x="254.5" y="148.2" font-size="6.4" font-weight="normal" text-anchor="middle" fill="#222" color="#222" style="stroke-width:0.18px" transform="rotate(-90 254.5 148.2)" textLength="42" lengthAdjust="spacingAndGlyphs">% of CD3+ cells</text>
<line x1="283.29999999999995" y1="172.7" x2="283.29999999999995" y2="173.6" stroke="#2a2a2a" stroke-width="0.9"/>
<line x1="282.19999999999993" y1="173.6" x2="284.4" y2="173.6" stroke="#2a2a2a" stroke-width="0.9"/>
<rect x="281.20" y="143.80" width="4.20" height="28.90" fill="#c8102e" stroke="#a00c24" stroke-width="0.4"/>
<line x1="281.2" y1="162.5" x2="285.4" y2="162.5" stroke="#3a2a2a" stroke-width="0.8"/>
<rect x="288.80" y="136.50" width="3.90" height="32.30" fill="#f5a020" stroke="#d8860c" stroke-width="0.4"/>
<line x1="288.8" y1="143.6" x2="292.7" y2="143.6" stroke="#3a2a2a" stroke-width="0.8"/>
<line x1="302.9" y1="138.5" x2="302.9" y2="145.2" stroke="#2a2a2a" stroke-width="0.9"/>
<line x1="301.79999999999995" y1="138.5" x2="304.0" y2="138.5" stroke="#2a2a2a" stroke-width="0.9"/>
<line x1="302.9" y1="167.3" x2="302.9" y2="171.5" stroke="#2a2a2a" stroke-width="0.9"/>
<line x1="301.79999999999995" y1="171.5" x2="304.0" y2="171.5" stroke="#2a2a2a" stroke-width="0.9"/>
<rect x="300.80" y="145.20" width="4.20" height="22.10" fill="#c8102e" stroke="#a00c24" stroke-width="0.4"/>
<rect x="308.80" y="136.50" width="3.90" height="30.80" fill="#f5a020" stroke="#d8860c" stroke-width="0.4"/>
<line x1="308.8" y1="147" x2="312.7" y2="147" stroke="#3a2a2a" stroke-width="0.8"/>
<line x1="323.45" y1="153.5" x2="323.45" y2="155.8" stroke="#2a2a2a" stroke-width="0.9"/>
<line x1="322.34999999999997" y1="155.8" x2="324.55" y2="155.8" stroke="#2a2a2a" stroke-width="0.9"/>
<rect x="321.50" y="127.50" width="3.90" height="26.00" fill="#c8102e" stroke="#a00c24" stroke-width="0.4"/>
<line x1="321.5" y1="140" x2="325.4" y2="140" stroke="#3a2a2a" stroke-width="0.8"/>
<rect x="329.20" y="139.00" width="3.30" height="8.00" fill="#f5a020" stroke="#d8860c" stroke-width="0.4"/>
<line x1="329.2" y1="143.3" x2="332.5" y2="143.3" stroke="#3a2a2a" stroke-width="0.8"/>
<text x="397" y="114.3" font-size="7.9" text-anchor="middle" font-weight="normal" fill="#333" color="#333" >Vδ2 cluster</text>
<line x1="368.4" y1="120.0" x2="368.4" y2="176.7" stroke="#1a1a1a" stroke-width="1.1"/>
<line x1="367.79999999999995" y1="176.2" x2="427" y2="176.2" stroke="#1a1a1a" stroke-width="1.1"/>
<line x1="366.09999999999997" y1="176.2" x2="368.4" y2="176.2" stroke="#1a1a1a" stroke-width="0.9"/>
<text x="362.4" y="178.1" font-size="6.2" text-anchor="end" font-weight="normal" fill="#333" color="#333" >0</text>
<line x1="366.09999999999997" y1="165.32" x2="368.4" y2="165.32" stroke="#1a1a1a" stroke-width="0.9"/>
<text x="362.4" y="167.22" font-size="6.2" text-anchor="end" font-weight="normal" fill="#333" color="#333" >20</text>
<line x1="366.09999999999997" y1="154.44" x2="368.4" y2="154.44" stroke="#1a1a1a" stroke-width="0.9"/>
<text x="362.4" y="156.34" font-size="6.2" text-anchor="end" font-weight="normal" fill="#333" color="#333" >40</text>
<line x1="366.09999999999997" y1="143.56" x2="368.4" y2="143.56" stroke="#1a1a1a" stroke-width="0.9"/>
<text x="362.4" y="145.46" font-size="6.2" text-anchor="end" font-weight="normal" fill="#333" color="#333" >60</text>
<line x1="366.09999999999997" y1="132.68" x2="368.4" y2="132.68" stroke="#1a1a1a" stroke-width="0.9"/>
<text x="362.4" y="134.58" font-size="6.2" text-anchor="end" font-weight="normal" fill="#333" color="#333" >80</text>
<line x1="366.09999999999997" y1="121.8" x2="368.4" y2="121.8" stroke="#1a1a1a" stroke-width="0.9"/>
<text x="362.4" y="123.7" font-size="6.2" text-anchor="end" font-weight="normal" fill="#333" color="#333" >100</text>
<line x1="377" y1="176.2" x2="377" y2="178.39999999999998" stroke="#1a1a1a" stroke-width="0.9"/>
<text x="377" y="188" font-size="6.2" text-anchor="middle" font-weight="normal" fill="#333" color="#333" >T30</text>
<line x1="397" y1="176.2" x2="397" y2="178.39999999999998" stroke="#1a1a1a" stroke-width="0.9"/>
<text x="397" y="188" font-size="6.2" text-anchor="middle" font-weight="normal" fill="#333" color="#333" >T60</text>
<line x1="417" y1="176.2" x2="417" y2="178.39999999999998" stroke="#1a1a1a" stroke-width="0.9"/>
<text x="417" y="188" font-size="6.2" text-anchor="middle" font-weight="normal" fill="#333" color="#333" >T120</text>
<text x="345.2" y="148.2" font-size="6.4" font-weight="normal" text-anchor="middle" fill="#222" color="#222" style="stroke-width:0.18px" transform="rotate(-90 345.2 148.2)" textLength="42" lengthAdjust="spacingAndGlyphs">% of CD3+ cells</text>
<line x1="373.4" y1="125.8" x2="373.4" y2="129.2" stroke="#2a2a2a" stroke-width="0.9"/>
<line x1="372.29999999999995" y1="125.8" x2="374.5" y2="125.8" stroke="#2a2a2a" stroke-width="0.9"/>
<line x1="373.4" y1="162.6" x2="373.4" y2="164.2" stroke="#2a2a2a" stroke-width="0.9"/>
<line x1="372.29999999999995" y1="164.2" x2="374.5" y2="164.2" stroke="#2a2a2a" stroke-width="0.9"/>
<rect x="371.40" y="129.20" width="4.00" height="33.40" fill="#c8102e" stroke="#a00c24" stroke-width="0.4"/>
<line x1="371.4" y1="152.5" x2="375.4" y2="152.5" stroke="#3a2a2a" stroke-width="0.8"/>
<circle cx="380.7" cy="145.3" r="1" fill="#111"/>
<rect x="378.70" y="163.80" width="3.90" height="9.70" fill="#f5a020" stroke="#d8860c" stroke-width="0.4"/>
<line x1="378.7" y1="168.4" x2="382.6" y2="168.4" stroke="#3a2a2a" stroke-width="0.8"/>
<line x1="374.9" y1="125.3" x2="385.2" y2="125.3" stroke="#222" stroke-width="1"/>
<text x="380" y="125" font-size="5" text-anchor="middle" font-weight="normal" fill="#333" color="#333" >*</text>
<line x1="393.15" y1="135.6" x2="393.15" y2="138.9" stroke="#2a2a2a" stroke-width="0.9"/>
<line x1="392.04999999999995" y1="135.6" x2="394.25" y2="135.6" stroke="#2a2a2a" stroke-width="0.9"/>
<line x1="393.15" y1="166.1" x2="393.15" y2="172.9" stroke="#2a2a2a" stroke-width="0.9"/>
<line x1="392.04999999999995" y1="172.9" x2="394.25" y2="172.9" stroke="#2a2a2a" stroke-width="0.9"/>
<rect x="391.40" y="138.90" width="3.50" height="27.20" fill="#c8102e" stroke="#a00c24" stroke-width="0.4"/>
<line x1="391.4" y1="156.4" x2="394.9" y2="156.4" stroke="#3a2a2a" stroke-width="0.8"/>
<line x1="400.75" y1="148.6" x2="400.75" y2="155" stroke="#2a2a2a" stroke-width="0.9"/>
<line x1="399.65" y1="148.6" x2="401.85" y2="148.6" stroke="#2a2a2a" stroke-width="0.9"/>
<rect x="398.80" y="155.00" width="3.90" height="19.30" fill="#f5a020" stroke="#d8860c" stroke-width="0.4"/>
<line x1="398.8" y1="173.5" x2="402.7" y2="173.5" stroke="#3a2a2a" stroke-width="0.8"/>
<line x1="395.3" y1="134" x2="406.5" y2="134" stroke="#222" stroke-width="1"/>
<text x="400.5" y="133.6" font-size="5" text-anchor="middle" font-weight="normal" fill="#333" color="#333" >*</text>
<line x1="413.15" y1="148.6" x2="413.15" y2="156.4" stroke="#2a2a2a" stroke-width="0.9"/>
<line x1="412.04999999999995" y1="148.6" x2="414.25" y2="148.6" stroke="#2a2a2a" stroke-width="0.9"/>
<rect x="411.20" y="156.40" width="3.90" height="18.40" fill="#c8102e" stroke="#a00c24" stroke-width="0.4"/>
<line x1="411.2" y1="170.6" x2="415.1" y2="170.6" stroke="#3a2a2a" stroke-width="0.8"/>
<rect x="418.60" y="171.50" width="3.40" height="4.00" fill="#f5a020" stroke="#d8860c" stroke-width="0.4"/>
<line x1="418.6" y1="173" x2="422" y2="173" stroke="#3a2a2a" stroke-width="0.8"/>
<text x="483.8" y="114.3" font-size="7.9" text-anchor="middle" font-weight="normal" fill="#333" color="#333" >Vδ1 cluster</text>
<line x1="454.2" y1="120.0" x2="454.2" y2="176.7" stroke="#1a1a1a" stroke-width="1.1"/>
<line x1="453.59999999999997" y1="176.2" x2="513.5" y2="176.2" stroke="#1a1a1a" stroke-width="1.1"/>
<line x1="451.9" y1="176.2" x2="454.2" y2="176.2" stroke="#1a1a1a" stroke-width="0.9"/>
<text x="448.2" y="178.1" font-size="6.2" text-anchor="end" font-weight="normal" fill="#333" color="#333" >0</text>
<line x1="451.9" y1="162.6" x2="454.2" y2="162.6" stroke="#1a1a1a" stroke-width="0.9"/>
<text x="448.2" y="164.5" font-size="6.2" text-anchor="end" font-weight="normal" fill="#333" color="#333" >5</text>
<line x1="451.9" y1="149.0" x2="454.2" y2="149.0" stroke="#1a1a1a" stroke-width="0.9"/>
<text x="448.2" y="150.9" font-size="6.2" text-anchor="end" font-weight="normal" fill="#333" color="#333" >10</text>
<line x1="451.9" y1="135.39999999999998" x2="454.2" y2="135.39999999999998" stroke="#1a1a1a" stroke-width="0.9"/>
<text x="448.2" y="137.29999999999998" font-size="6.2" text-anchor="end" font-weight="normal" fill="#333" color="#333" >15</text>
<line x1="451.9" y1="121.8" x2="454.2" y2="121.8" stroke="#1a1a1a" stroke-width="0.9"/>
<text x="448.2" y="123.7" font-size="6.2" text-anchor="end" font-weight="normal" fill="#333" color="#333" >20</text>
<line x1="463" y1="176.2" x2="463" y2="178.39999999999998" stroke="#1a1a1a" stroke-width="0.9"/>
<text x="463" y="188" font-size="6.2" text-anchor="middle" font-weight="normal" fill="#333" color="#333" >T30</text>
<line x1="483.3" y1="176.2" x2="483.3" y2="178.39999999999998" stroke="#1a1a1a" stroke-width="0.9"/>
<text x="483.3" y="188" font-size="6.2" text-anchor="middle" font-weight="normal" fill="#333" color="#333" >T60</text>
<line x1="503.7" y1="176.2" x2="503.7" y2="178.39999999999998" stroke="#1a1a1a" stroke-width="0.9"/>
<text x="503.7" y="188" font-size="6.2" text-anchor="middle" font-weight="normal" fill="#333" color="#333" >T120</text>
<text x="435.3" y="147.7" font-size="6.4" font-weight="normal" text-anchor="middle" fill="#222" color="#222" style="stroke-width:0.18px" transform="rotate(-90 435.3 147.7)" textLength="42" lengthAdjust="spacingAndGlyphs">% of CD3+ cells</text>
<rect x="457.10" y="167.00" width="4.30" height="9.20" fill="#c8102e" stroke="#a00c24" stroke-width="0.4"/>
<circle cx="459" cy="151.5" r="1" fill="#111"/>
<line x1="466.79999999999995" y1="147.2" x2="466.79999999999995" y2="154" stroke="#2a2a2a" stroke-width="0.9"/>
<line x1="465.69999999999993" y1="147.2" x2="467.9" y2="147.2" stroke="#2a2a2a" stroke-width="0.9"/>
<rect x="464.90" y="154.00" width="3.80" height="19.90" fill="#f5a020" stroke="#d8860c" stroke-width="0.4"/>
<line x1="464.9" y1="169" x2="468.7" y2="169" stroke="#3a2a2a" stroke-width="0.8"/>
<line x1="479.85" y1="155.4" x2="479.85" y2="162.2" stroke="#2a2a2a" stroke-width="0.9"/>
<line x1="478.75" y1="155.4" x2="480.95000000000005" y2="155.4" stroke="#2a2a2a" stroke-width="0.9"/>
<rect x="477.90" y="162.20" width="3.90" height="14.00" fill="#c8102e" stroke="#a00c24" stroke-width="0.4"/>
<line x1="487.6" y1="136.4" x2="487.6" y2="140.8" stroke="#2a2a2a" stroke-width="0.9"/>
<line x1="486.5" y1="136.4" x2="488.70000000000005" y2="136.4" stroke="#2a2a2a" stroke-width="0.9"/>
<rect x="485.70" y="140.80" width="3.80" height="34.00" fill="#f5a020" stroke="#d8860c" stroke-width="0.4"/>
<line x1="485.7" y1="162.2" x2="489.5" y2="162.2" stroke="#3a2a2a" stroke-width="0.8"/>
<line x1="500.25" y1="159.3" x2="500.25" y2="161.8" stroke="#2a2a2a" stroke-width="0.9"/>
<line x1="499.15" y1="159.3" x2="501.35" y2="159.3" stroke="#2a2a2a" stroke-width="0.9"/>
<rect x="498.30" y="161.80" width="3.90" height="13.00" fill="#c8102e" stroke="#a00c24" stroke-width="0.4"/>
<line x1="508.05" y1="154" x2="508.05" y2="155.4" stroke="#2a2a2a" stroke-width="0.9"/>
<line x1="506.95" y1="154" x2="509.15000000000003" y2="154" stroke="#2a2a2a" stroke-width="0.9"/>
<rect x="506.30" y="155.40" width="3.50" height="19.40" fill="#f5a020" stroke="#d8860c" stroke-width="0.4"/>
<line x1="506.3" y1="166.1" x2="509.8" y2="166.1" stroke="#3a2a2a" stroke-width="0.8"/>
<text x="347" y="201.4" font-size="7.9" text-anchor="middle" font-weight="normal" fill="#333" color="#333" >NKT cluster</text>
<line x1="314.6" y1="207.7" x2="314.6" y2="269.3" stroke="#1a1a1a" stroke-width="1.1"/>
<line x1="314.0" y1="268.8" x2="378" y2="268.8" stroke="#1a1a1a" stroke-width="1.1"/>
<line x1="312.3" y1="268.8" x2="314.6" y2="268.8" stroke="#1a1a1a" stroke-width="0.9"/>
<text x="308.6" y="270.7" font-size="6.2" text-anchor="end" font-weight="normal" fill="#333" color="#333" >0</text>
<line x1="312.3" y1="249.03333333333333" x2="314.6" y2="249.03333333333333" stroke="#1a1a1a" stroke-width="0.9"/>
<text x="308.6" y="250.93333333333334" font-size="6.2" text-anchor="end" font-weight="normal" fill="#333" color="#333" >5</text>
<line x1="312.3" y1="229.26666666666668" x2="314.6" y2="229.26666666666668" stroke="#1a1a1a" stroke-width="0.9"/>
<text x="308.6" y="231.16666666666669" font-size="6.2" text-anchor="end" font-weight="normal" fill="#333" color="#333" >10</text>
<line x1="312.3" y1="209.5" x2="314.6" y2="209.5" stroke="#1a1a1a" stroke-width="0.9"/>
<text x="308.6" y="211.4" font-size="6.2" text-anchor="end" font-weight="normal" fill="#333" color="#333" >15</text>
<line x1="324.4" y1="268.8" x2="324.4" y2="271.0" stroke="#1a1a1a" stroke-width="0.9"/>
<text x="324.4" y="280.3" font-size="6.2" text-anchor="middle" font-weight="normal" fill="#333" color="#333" >T30</text>
<line x1="346" y1="268.8" x2="346" y2="271.0" stroke="#1a1a1a" stroke-width="0.9"/>
<text x="346" y="280.3" font-size="6.2" text-anchor="middle" font-weight="normal" fill="#333" color="#333" >T60</text>
<line x1="368.5" y1="268.8" x2="368.5" y2="271.0" stroke="#1a1a1a" stroke-width="0.9"/>
<text x="368.5" y="280.3" font-size="6.2" text-anchor="middle" font-weight="normal" fill="#333" color="#333" >T120</text>
<text x="296.2" y="237.8" font-size="6.4" font-weight="normal" text-anchor="middle" fill="#222" color="#222" style="stroke-width:0.18px" transform="rotate(-90 296.2 237.8)" textLength="42" lengthAdjust="spacingAndGlyphs">% of CD3+ cells</text>
<line x1="320.45" y1="250.7" x2="320.45" y2="256.1" stroke="#2a2a2a" stroke-width="0.9"/>
<line x1="319.34999999999997" y1="250.7" x2="321.55" y2="250.7" stroke="#2a2a2a" stroke-width="0.9"/>
<rect x="318.50" y="256.10" width="3.90" height="6.90" fill="#c8102e" stroke="#a00c24" stroke-width="0.4"/>
<line x1="328.35" y1="223.5" x2="328.35" y2="242.5" stroke="#2a2a2a" stroke-width="0.9"/>
<line x1="327.25" y1="223.5" x2="329.45000000000005" y2="223.5" stroke="#2a2a2a" stroke-width="0.9"/>
<rect x="326.10" y="242.50" width="4.50" height="17.50" fill="#f5a020" stroke="#d8860c" stroke-width="0.4"/>
<line x1="326.1" y1="259.5" x2="330.6" y2="259.5" stroke="#3a2a2a" stroke-width="0.8"/>
<line x1="342.65" y1="244.9" x2="342.65" y2="250.3" stroke="#2a2a2a" stroke-width="0.9"/>
<line x1="341.54999999999995" y1="244.9" x2="343.75" y2="244.9" stroke="#2a2a2a" stroke-width="0.9"/>
<rect x="340.70" y="250.30" width="3.90" height="10.70" fill="#c8102e" stroke="#a00c24" stroke-width="0.4"/>
<line x1="340.7" y1="256.2" x2="344.6" y2="256.2" stroke="#3a2a2a" stroke-width="0.8"/>
<rect x="349.00" y="239.60" width="4.00" height="27.20" fill="#f5a020" stroke="#d8860c" stroke-width="0.4"/>
<line x1="349" y1="258" x2="353" y2="258" stroke="#3a2a2a" stroke-width="0.8"/>
<line x1="364.65" y1="261" x2="364.65" y2="262.4" stroke="#2a2a2a" stroke-width="0.9"/>
<line x1="363.54999999999995" y1="261" x2="365.75" y2="261" stroke="#2a2a2a" stroke-width="0.9"/>
<rect x="362.70" y="262.40" width="3.90" height="2.50" fill="#c8102e" stroke="#a00c24" stroke-width="0.4"/>
<line x1="362.7" y1="263.6" x2="366.6" y2="263.6" stroke="#3a2a2a" stroke-width="0.8"/>
<line x1="373.35" y1="259" x2="373.35" y2="262" stroke="#2a2a2a" stroke-width="0.9"/>
<line x1="372.25" y1="259" x2="374.45000000000005" y2="259" stroke="#2a2a2a" stroke-width="0.9"/>
<rect x="371.40" y="262.00" width="3.90" height="4.30" fill="#f5a020" stroke="#d8860c" stroke-width="0.4"/>
<line x1="371.4" y1="264.5" x2="375.3" y2="264.5" stroke="#3a2a2a" stroke-width="0.8"/>
<text x="436.9" y="202.0" font-size="7.9" text-anchor="middle" font-weight="normal" fill="#333" color="#333" >Vδ1 cytotoxic cluster</text>
<line x1="406" y1="208.1" x2="406" y2="269.4" stroke="#1a1a1a" stroke-width="1.1"/>
<line x1="405.4" y1="268.9" x2="471" y2="268.9" stroke="#1a1a1a" stroke-width="1.1"/>
<line x1="403.7" y1="268.9" x2="406" y2="268.9" stroke="#1a1a1a" stroke-width="0.9"/>
<text x="400" y="270.79999999999995" font-size="6.2" text-anchor="end" font-weight="normal" fill="#333" color="#333" >0</text>
<line x1="403.7" y1="257.09999999999997" x2="406" y2="257.09999999999997" stroke="#1a1a1a" stroke-width="0.9"/>
<text x="400" y="258.99999999999994" font-size="6.2" text-anchor="end" font-weight="normal" fill="#333" color="#333" >10</text>
<line x1="403.7" y1="245.29999999999998" x2="406" y2="245.29999999999998" stroke="#1a1a1a" stroke-width="0.9"/>
<text x="400" y="247.2" font-size="6.2" text-anchor="end" font-weight="normal" fill="#333" color="#333" >20</text>
<line x1="403.7" y1="233.5" x2="406" y2="233.5" stroke="#1a1a1a" stroke-width="0.9"/>
<text x="400" y="235.4" font-size="6.2" text-anchor="end" font-weight="normal" fill="#333" color="#333" >30</text>
<line x1="403.7" y1="221.7" x2="406" y2="221.7" stroke="#1a1a1a" stroke-width="0.9"/>
<text x="400" y="223.6" font-size="6.2" text-anchor="end" font-weight="normal" fill="#333" color="#333" >40</text>
<line x1="403.7" y1="209.9" x2="406" y2="209.9" stroke="#1a1a1a" stroke-width="0.9"/>
<text x="400" y="211.8" font-size="6.2" text-anchor="end" font-weight="normal" fill="#333" color="#333" >50</text>
<line x1="416.5" y1="268.9" x2="416.5" y2="271.09999999999997" stroke="#1a1a1a" stroke-width="0.9"/>
<text x="416.5" y="280.3" font-size="6.2" text-anchor="middle" font-weight="normal" fill="#333" color="#333" >T30</text>
<line x1="438.7" y1="268.9" x2="438.7" y2="271.09999999999997" stroke="#1a1a1a" stroke-width="0.9"/>
<text x="438.7" y="280.3" font-size="6.2" text-anchor="middle" font-weight="normal" fill="#333" color="#333" >T60</text>
<line x1="461.2" y1="268.9" x2="461.2" y2="271.09999999999997" stroke="#1a1a1a" stroke-width="0.9"/>
<text x="461.2" y="280.3" font-size="6.2" text-anchor="middle" font-weight="normal" fill="#333" color="#333" >T120</text>
<text x="388" y="237.2" font-size="6.4" font-weight="normal" text-anchor="middle" fill="#222" color="#222" style="stroke-width:0.18px" transform="rotate(-90 388 237.2)" textLength="42" lengthAdjust="spacingAndGlyphs">% of CD3+ cells</text>
<line x1="411" y1="217.9" x2="423" y2="217.9" stroke="#222" stroke-width="1"/>
<text x="417" y="217.3" font-size="5" text-anchor="middle" font-weight="normal" fill="#333" color="#333" >*</text>
<line x1="433.1" y1="217.9" x2="444.6" y2="217.9" stroke="#222" stroke-width="1"/>
<text x="438.9" y="217.3" font-size="5" text-anchor="middle" font-weight="normal" fill="#333" color="#333" >*</text>
<line x1="456" y1="217.9" x2="467.7" y2="217.9" stroke="#222" stroke-width="1"/>
<text x="461.9" y="217.3" font-size="5" text-anchor="middle" font-weight="normal" fill="#333" color="#333" >*</text>
<line x1="412.15" y1="242.3" x2="412.15" y2="246.6" stroke="#2a2a2a" stroke-width="0.9"/>
<line x1="411.04999999999995" y1="242.3" x2="413.25" y2="242.3" stroke="#2a2a2a" stroke-width="0.9"/>
<line x1="412.15" y1="263.9" x2="412.15" y2="266" stroke="#2a2a2a" stroke-width="0.9"/>
<line x1="411.04999999999995" y1="266" x2="413.25" y2="266" stroke="#2a2a2a" stroke-width="0.9"/>
<rect x="410.00" y="246.60" width="4.30" height="17.30" fill="#c8102e" stroke="#a00c24" stroke-width="0.4"/>
<line x1="410" y1="262" x2="414.3" y2="262" stroke="#3a2a2a" stroke-width="0.8"/>
<line x1="420.5" y1="253.7" x2="420.5" y2="260.2" stroke="#2a2a2a" stroke-width="0.9"/>
<line x1="419.4" y1="260.2" x2="421.6" y2="260.2" stroke="#2a2a2a" stroke-width="0.9"/>
<rect x="418.00" y="242.90" width="5.00" height="10.80" fill="#f5a020" stroke="#d8860c" stroke-width="0.4"/>
<line x1="418" y1="247.7" x2="423" y2="247.7" stroke="#3a2a2a" stroke-width="0.8"/>
<circle cx="420.8" cy="220.7" r="0.8" fill="#333"/>
<line x1="434.4" y1="262.4" x2="434.4" y2="266" stroke="#2a2a2a" stroke-width="0.9"/>
<line x1="433.29999999999995" y1="266" x2="435.5" y2="266" stroke="#2a2a2a" stroke-width="0.9"/>
<rect x="432.20" y="246.00" width="4.40" height="16.40" fill="#c8102e" stroke="#a00c24" stroke-width="0.4"/>
<line x1="443.25" y1="225" x2="443.25" y2="228.2" stroke="#2a2a2a" stroke-width="0.9"/>
<line x1="442.15" y1="225" x2="444.35" y2="225" stroke="#2a2a2a" stroke-width="0.9"/>
<line x1="443.25" y1="246.6" x2="443.25" y2="249.8" stroke="#2a2a2a" stroke-width="0.9"/>
<line x1="442.15" y1="249.8" x2="444.35" y2="249.8" stroke="#2a2a2a" stroke-width="0.9"/>
<rect x="440.90" y="228.20" width="4.70" height="18.40" fill="#f5a020" stroke="#d8860c" stroke-width="0.4"/>
<line x1="440.9" y1="238" x2="445.6" y2="238" stroke="#3a2a2a" stroke-width="0.8"/>
<line x1="457.15" y1="248.1" x2="457.15" y2="253" stroke="#2a2a2a" stroke-width="0.9"/>
<line x1="456.04999999999995" y1="248.1" x2="458.25" y2="248.1" stroke="#2a2a2a" stroke-width="0.9"/>
<rect x="455.00" y="253.00" width="4.30" height="10.20" fill="#c8102e" stroke="#a00c24" stroke-width="0.4"/>
<line x1="465.35" y1="241.6" x2="465.35" y2="244.4" stroke="#2a2a2a" stroke-width="0.9"/>
<line x1="464.25" y1="244.4" x2="466.45000000000005" y2="244.4" stroke="#2a2a2a" stroke-width="0.9"/>
<rect x="463.00" y="235.40" width="4.70" height="6.20" fill="#f5a020" stroke="#d8860c" stroke-width="0.4"/>
<line x1="463" y1="240.8" x2="467.7" y2="240.8" stroke="#3a2a2a" stroke-width="0.8"/>
<text x="76.85" y="305.9" font-size="8" text-anchor="middle" font-weight="normal" fill="#222" color="#222" textLength="28.1" lengthAdjust="spacingAndGlyphs">NKG2D</text>
<line x1="43.8" y1="312.2" x2="43.8" y2="373.0" stroke="#1a1a1a" stroke-width="1.1"/>
<line x1="43.199999999999996" y1="372.5" x2="107.8" y2="372.5" stroke="#1a1a1a" stroke-width="1.1"/>
<line x1="41.5" y1="372.5" x2="43.8" y2="372.5" stroke="#1a1a1a" stroke-width="0.9"/>
<text x="38.3" y="374.4" font-size="6.2" text-anchor="end" font-weight="normal" fill="#333" color="#333" >0</text>
<line x1="41.5" y1="357.875" x2="43.8" y2="357.875" stroke="#1a1a1a" stroke-width="0.9"/>
<text x="38.3" y="359.775" font-size="6.2" text-anchor="end" font-weight="normal" fill="#333" color="#333" >200</text>
<line x1="41.5" y1="343.25" x2="43.8" y2="343.25" stroke="#1a1a1a" stroke-width="0.9"/>
<text x="38.3" y="345.15" font-size="6.2" text-anchor="end" font-weight="normal" fill="#333" color="#333" >400</text>
<line x1="41.5" y1="328.625" x2="43.8" y2="328.625" stroke="#1a1a1a" stroke-width="0.9"/>
<text x="38.3" y="330.525" font-size="6.2" text-anchor="end" font-weight="normal" fill="#333" color="#333" >600</text>
<line x1="41.5" y1="314.0" x2="43.8" y2="314.0" stroke="#1a1a1a" stroke-width="0.9"/>
<text x="38.3" y="315.9" font-size="6.2" text-anchor="end" font-weight="normal" fill="#333" color="#333" >800</text>
<line x1="54.1" y1="372.5" x2="54.1" y2="374.7" stroke="#1a1a1a" stroke-width="0.9"/>
<text x="54.1" y="383.5" font-size="6.2" text-anchor="middle" font-weight="normal" fill="#333" color="#333" >T30</text>
<line x1="76.6" y1="372.5" x2="76.6" y2="374.7" stroke="#1a1a1a" stroke-width="0.9"/>
<text x="76.6" y="383.5" font-size="6.2" text-anchor="middle" font-weight="normal" fill="#333" color="#333" >T60</text>
<line x1="99.2" y1="372.5" x2="99.2" y2="374.7" stroke="#1a1a1a" stroke-width="0.9"/>
<text x="99.2" y="383.5" font-size="6.2" text-anchor="middle" font-weight="normal" fill="#333" color="#333" >T120</text>
<text x="76" y="394.9" font-size="8.4" text-anchor="middle" font-weight="bold" fill="#2a2a2a" color="#2a2a2a" textLength="9" lengthAdjust="spacingAndGlyphs" style="stroke-width:0">T30</text>
<line x1="50.150000000000006" y1="320.5" x2="50.150000000000006" y2="335.2" stroke="#2a2a2a" stroke-width="0.9"/>
<line x1="49.050000000000004" y1="320.5" x2="51.25000000000001" y2="320.5" stroke="#2a2a2a" stroke-width="0.9"/>
<line x1="50.150000000000006" y1="349.6" x2="50.150000000000006" y2="350.8" stroke="#2a2a2a" stroke-width="0.9"/>
<line x1="49.050000000000004" y1="350.8" x2="51.25000000000001" y2="350.8" stroke="#2a2a2a" stroke-width="0.9"/>
<rect x="47.70" y="335.20" width="4.90" height="14.40" fill="#c8102e" stroke="#a00c24" stroke-width="0.4"/>
<line x1="47.7" y1="342.6" x2="52.6" y2="342.6" stroke="#3a2a2a" stroke-width="0.8"/>
<rect x="56.60" y="349.20" width="4.20" height="1.80" fill="#f5a020" stroke="#d8860c" stroke-width="0.4"/>
<line x1="56.6" y1="350.1" x2="60.8" y2="350.1" stroke="#3a2a2a" stroke-width="0.8"/>
<line x1="72.65" y1="329.2" x2="72.65" y2="338.4" stroke="#2a2a2a" stroke-width="0.9"/>
<line x1="71.55000000000001" y1="329.2" x2="73.75" y2="329.2" stroke="#2a2a2a" stroke-width="0.9"/>
<line x1="72.65" y1="349" x2="72.65" y2="352.5" stroke="#2a2a2a" stroke-width="0.9"/>
<line x1="71.55000000000001" y1="352.5" x2="73.75" y2="352.5" stroke="#2a2a2a" stroke-width="0.9"/>
<rect x="70.30" y="338.40" width="4.70" height="10.60" fill="#c8102e" stroke="#a00c24" stroke-width="0.4"/>
<line x1="70.3" y1="344.1" x2="75" y2="344.1" stroke="#3a2a2a" stroke-width="0.8"/>
<line x1="80.95" y1="343.4" x2="80.95" y2="345.1" stroke="#2a2a2a" stroke-width="0.9"/>
<line x1="79.85000000000001" y1="343.4" x2="82.05" y2="343.4" stroke="#2a2a2a" stroke-width="0.9"/>
<line x1="80.95" y1="349" x2="80.95" y2="350.8" stroke="#2a2a2a" stroke-width="0.9"/>
<line x1="79.85000000000001" y1="350.8" x2="82.05" y2="350.8" stroke="#2a2a2a" stroke-width="0.9"/>
<rect x="78.70" y="345.10" width="4.50" height="3.90" fill="#f5a020" stroke="#d8860c" stroke-width="0.4"/>
<line x1="78.7" y1="347" x2="83.2" y2="347" stroke="#3a2a2a" stroke-width="0.8"/>
<line x1="95.35" y1="344.1" x2="95.35" y2="348.3" stroke="#2a2a2a" stroke-width="0.9"/>
<line x1="94.25" y1="344.1" x2="96.44999999999999" y2="344.1" stroke="#2a2a2a" stroke-width="0.9"/>
<line x1="95.35" y1="367.4" x2="95.35" y2="370.7" stroke="#2a2a2a" stroke-width="0.9"/>
<line x1="94.25" y1="370.7" x2="96.44999999999999" y2="370.7" stroke="#2a2a2a" stroke-width="0.9"/>
<rect x="93.10" y="348.30" width="4.50" height="19.10" fill="#c8102e" stroke="#a00c24" stroke-width="0.4"/>
<line x1="93.1" y1="361.5" x2="97.6" y2="361.5" stroke="#3a2a2a" stroke-width="0.8"/>
<line x1="103.05" y1="355.8" x2="103.05" y2="360.7" stroke="#2a2a2a" stroke-width="0.9"/>
<line x1="101.95" y1="355.8" x2="104.14999999999999" y2="355.8" stroke="#2a2a2a" stroke-width="0.9"/>
<line x1="103.05" y1="367" x2="103.05" y2="369.4" stroke="#2a2a2a" stroke-width="0.9"/>
<line x1="101.95" y1="369.4" x2="104.14999999999999" y2="369.4" stroke="#2a2a2a" stroke-width="0.9"/>
<rect x="100.60" y="360.70" width="4.90" height="6.30" fill="#f5a020" stroke="#d8860c" stroke-width="0.4"/>
<line x1="100.6" y1="364" x2="105.5" y2="364" stroke="#3a2a2a" stroke-width="0.8"/>
<text x="13.9" y="341.4" font-size="6.0" font-weight="normal" text-anchor="middle" fill="#222" color="#222" style="stroke-width:0.18px" transform="rotate(-90 13.9 341.4)" textLength="42" lengthAdjust="spacingAndGlyphs">NKG2D expression</text>
<text x="21.8" y="341.8" font-size="6.0" font-weight="normal" text-anchor="middle" fill="#222" color="#222" style="stroke-width:0.18px" transform="rotate(-90 21.8 341.8)" textLength="46" lengthAdjust="spacingAndGlyphs">(MFI) on Vδ2 T cells</text>
<line x1="49.2" y1="316.5" x2="60.8" y2="316.5" stroke="#222" stroke-width="1"/>
<text x="55" y="316.3" font-size="5" text-anchor="middle" font-weight="normal" fill="#333" color="#333" >*</text>
<text x="230.4" y="305.9" font-size="8" text-anchor="middle" font-weight="normal" fill="#222" color="#222" textLength="21.2" lengthAdjust="spacingAndGlyphs">CD16</text>
<line x1="197.6" y1="312.2" x2="197.6" y2="373.0" stroke="#1a1a1a" stroke-width="1.1"/>
<line x1="197.0" y1="372.5" x2="261.6" y2="372.5" stroke="#1a1a1a" stroke-width="1.1"/>
<line x1="195.29999999999998" y1="372.5" x2="197.6" y2="372.5" stroke="#1a1a1a" stroke-width="0.9"/>
<text x="192.1" y="374.4" font-size="6.2" text-anchor="end" font-weight="normal" fill="#333" color="#333" >0</text>
<line x1="195.29999999999998" y1="353.0" x2="197.6" y2="353.0" stroke="#1a1a1a" stroke-width="0.9"/>
<text x="192.1" y="354.9" font-size="6.2" text-anchor="end" font-weight="normal" fill="#333" color="#333" >1000</text>
<line x1="195.29999999999998" y1="333.5" x2="197.6" y2="333.5" stroke="#1a1a1a" stroke-width="0.9"/>
<text x="192.1" y="335.4" font-size="6.2" text-anchor="end" font-weight="normal" fill="#333" color="#333" >2000</text>
<line x1="195.29999999999998" y1="314.0" x2="197.6" y2="314.0" stroke="#1a1a1a" stroke-width="0.9"/>
<text x="192.1" y="315.9" font-size="6.2" text-anchor="end" font-weight="normal" fill="#333" color="#333" >3000</text>
<line x1="207.5" y1="372.5" x2="207.5" y2="374.7" stroke="#1a1a1a" stroke-width="0.9"/>
<text x="207.5" y="383.5" font-size="6.2" text-anchor="middle" font-weight="normal" fill="#333" color="#333" >T30</text>
<line x1="229.6" y1="372.5" x2="229.6" y2="374.7" stroke="#1a1a1a" stroke-width="0.9"/>
<text x="229.6" y="383.5" font-size="6.2" text-anchor="middle" font-weight="normal" fill="#333" color="#333" >T60</text>
<line x1="251.5" y1="372.5" x2="251.5" y2="374.7" stroke="#1a1a1a" stroke-width="0.9"/>
<text x="251.5" y="383.5" font-size="6.2" text-anchor="middle" font-weight="normal" fill="#333" color="#333" >T120</text>
<text x="230" y="394.9" font-size="8.4" text-anchor="middle" font-weight="bold" fill="#2a2a2a" color="#2a2a2a" textLength="9" lengthAdjust="spacingAndGlyphs" style="stroke-width:0">T30</text>
<line x1="203.05" y1="344.6" x2="203.05" y2="350.1" stroke="#2a2a2a" stroke-width="0.9"/>
<line x1="201.95000000000002" y1="344.6" x2="204.15" y2="344.6" stroke="#2a2a2a" stroke-width="0.9"/>
<rect x="200.90" y="350.10" width="4.30" height="13.20" fill="#c8102e" stroke="#a00c24" stroke-width="0.4"/>
<line x1="200.9" y1="358.8" x2="205.2" y2="358.8" stroke="#3a2a2a" stroke-width="0.8"/>
<line x1="211.25" y1="357" x2="211.25" y2="359.5" stroke="#2a2a2a" stroke-width="0.9"/>
<line x1="210.15" y1="357" x2="212.35" y2="357" stroke="#2a2a2a" stroke-width="0.9"/>
<line x1="211.25" y1="365.7" x2="211.25" y2="369.5" stroke="#2a2a2a" stroke-width="0.9"/>
<line x1="210.15" y1="369.5" x2="212.35" y2="369.5" stroke="#2a2a2a" stroke-width="0.9"/>
<rect x="208.90" y="359.50" width="4.70" height="6.20" fill="#f5a020" stroke="#d8860c" stroke-width="0.4"/>
<line x1="208.9" y1="364.5" x2="213.6" y2="364.5" stroke="#3a2a2a" stroke-width="0.8"/>
<line x1="225.4" y1="325.2" x2="225.4" y2="337.7" stroke="#2a2a2a" stroke-width="0.9"/>
<line x1="224.3" y1="325.2" x2="226.5" y2="325.2" stroke="#2a2a2a" stroke-width="0.9"/>
<line x1="225.4" y1="364" x2="225.4" y2="365" stroke="#2a2a2a" stroke-width="0.9"/>
<line x1="224.3" y1="365" x2="226.5" y2="365" stroke="#2a2a2a" stroke-width="0.9"/>
<rect x="223.30" y="337.70" width="4.20" height="26.30" fill="#c8102e" stroke="#a00c24" stroke-width="0.4"/>
<line x1="233.6" y1="358.2" x2="233.6" y2="359" stroke="#2a2a2a" stroke-width="0.9"/>
<line x1="232.5" y1="358.2" x2="234.7" y2="358.2" stroke="#2a2a2a" stroke-width="0.9"/>
<line x1="233.6" y1="363.3" x2="233.6" y2="365.5" stroke="#2a2a2a" stroke-width="0.9"/>
<line x1="232.5" y1="365.5" x2="234.7" y2="365.5" stroke="#2a2a2a" stroke-width="0.9"/>
<rect x="231.50" y="359.00" width="4.20" height="4.30" fill="#f5a020" stroke="#d8860c" stroke-width="0.4"/>
<line x1="231.5" y1="361.5" x2="235.7" y2="361.5" stroke="#3a2a2a" stroke-width="0.8"/>
<line x1="247.8" y1="319.8" x2="247.8" y2="323.5" stroke="#2a2a2a" stroke-width="0.9"/>
<line x1="246.70000000000002" y1="319.8" x2="248.9" y2="319.8" stroke="#2a2a2a" stroke-width="0.9"/>
<line x1="247.8" y1="367" x2="247.8" y2="369.5" stroke="#2a2a2a" stroke-width="0.9"/>
<line x1="246.70000000000002" y1="369.5" x2="248.9" y2="369.5" stroke="#2a2a2a" stroke-width="0.9"/>
<rect x="245.70" y="323.50" width="4.20" height="43.50" fill="#c8102e" stroke="#a00c24" stroke-width="0.4"/>
<line x1="255.2" y1="353.3" x2="255.2" y2="357.5" stroke="#2a2a2a" stroke-width="0.9"/>
<line x1="254.1" y1="353.3" x2="256.3" y2="353.3" stroke="#2a2a2a" stroke-width="0.9"/>
<line x1="255.2" y1="369.5" x2="255.2" y2="372" stroke="#2a2a2a" stroke-width="0.9"/>
<line x1="254.1" y1="372" x2="256.3" y2="372" stroke="#2a2a2a" stroke-width="0.9"/>
<rect x="253.10" y="357.50" width="4.20" height="12.00" fill="#f5a020" stroke="#d8860c" stroke-width="0.4"/>
<line x1="253.1" y1="365" x2="257.3" y2="365" stroke="#3a2a2a" stroke-width="0.8"/>
<text x="164.2" y="341.4" font-size="6.0" font-weight="normal" text-anchor="middle" fill="#222" color="#222" style="stroke-width:0.18px" transform="rotate(-90 164.2 341.4)" textLength="42" lengthAdjust="spacingAndGlyphs">CD16 expression</text>
<text x="172.1" y="341.8" font-size="6.0" font-weight="normal" text-anchor="middle" fill="#222" color="#222" style="stroke-width:0.18px" transform="rotate(-90 172.1 341.8)" textLength="46" lengthAdjust="spacingAndGlyphs">(MFI) on Vδ2 T cells</text>
<line x1="203.4" y1="340.9" x2="214.1" y2="340.9" stroke="#222" stroke-width="1"/>
<text x="208.7" y="340.5" font-size="5" text-anchor="middle" font-weight="normal" fill="#333" color="#333" >*</text>
<text x="380.75" y="305.9" font-size="8" text-anchor="middle" font-weight="normal" fill="#222" color="#222" textLength="29.9" lengthAdjust="spacingAndGlyphs">CD107a</text>
<line x1="347.6" y1="314.8" x2="347.6" y2="373.0" stroke="#1a1a1a" stroke-width="1.1"/>
<line x1="347.0" y1="372.5" x2="411.6" y2="372.5" stroke="#1a1a1a" stroke-width="1.1"/>
<line x1="345.3" y1="372.5" x2="347.6" y2="372.5" stroke="#1a1a1a" stroke-width="0.9"/>
<text x="342.1" y="374.4" font-size="6.2" text-anchor="end" font-weight="normal" fill="#333" color="#333" >0</text>
<line x1="345.3" y1="361.32" x2="347.6" y2="361.32" stroke="#1a1a1a" stroke-width="0.9"/>
<text x="342.1" y="363.21999999999997" font-size="6.2" text-anchor="end" font-weight="normal" fill="#333" color="#333" >500</text>
<line x1="345.3" y1="350.14" x2="347.6" y2="350.14" stroke="#1a1a1a" stroke-width="0.9"/>
<text x="342.1" y="352.03999999999996" font-size="6.2" text-anchor="end" font-weight="normal" fill="#333" color="#333" >1000</text>
<line x1="345.3" y1="338.96000000000004" x2="347.6" y2="338.96000000000004" stroke="#1a1a1a" stroke-width="0.9"/>
<text x="342.1" y="340.86" font-size="6.2" text-anchor="end" font-weight="normal" fill="#333" color="#333" >1500</text>
<line x1="345.3" y1="327.78000000000003" x2="347.6" y2="327.78000000000003" stroke="#1a1a1a" stroke-width="0.9"/>
<text x="342.1" y="329.68" font-size="6.2" text-anchor="end" font-weight="normal" fill="#333" color="#333" >2000</text>
<line x1="345.3" y1="316.6" x2="347.6" y2="316.6" stroke="#1a1a1a" stroke-width="0.9"/>
<text x="342.1" y="318.5" font-size="6.2" text-anchor="end" font-weight="normal" fill="#333" color="#333" >2500</text>
<line x1="357.5" y1="372.5" x2="357.5" y2="374.7" stroke="#1a1a1a" stroke-width="0.9"/>
<text x="357.5" y="383.5" font-size="6.2" text-anchor="middle" font-weight="normal" fill="#333" color="#333" >T30</text>
<line x1="379.3" y1="372.5" x2="379.3" y2="374.7" stroke="#1a1a1a" stroke-width="0.9"/>
<text x="379.3" y="383.5" font-size="6.2" text-anchor="middle" font-weight="normal" fill="#333" color="#333" >T60</text>
<line x1="401.1" y1="372.5" x2="401.1" y2="374.7" stroke="#1a1a1a" stroke-width="0.9"/>
<text x="401.1" y="383.5" font-size="6.2" text-anchor="middle" font-weight="normal" fill="#333" color="#333" >T120</text>
<text x="380.5" y="394.9" font-size="8.4" text-anchor="middle" font-weight="bold" fill="#2a2a2a" color="#2a2a2a" textLength="9" lengthAdjust="spacingAndGlyphs" style="stroke-width:0">T30</text>
<line x1="353.04999999999995" y1="319.8" x2="353.04999999999995" y2="324.8" stroke="#2a2a2a" stroke-width="0.9"/>
<line x1="351.94999999999993" y1="319.8" x2="354.15" y2="319.8" stroke="#2a2a2a" stroke-width="0.9"/>
<line x1="353.04999999999995" y1="338.4" x2="353.04999999999995" y2="345.9" stroke="#2a2a2a" stroke-width="0.9"/>
<line x1="351.94999999999993" y1="345.9" x2="354.15" y2="345.9" stroke="#2a2a2a" stroke-width="0.9"/>
<rect x="350.90" y="324.80" width="4.30" height="13.60" fill="#c8102e" stroke="#a00c24" stroke-width="0.4"/>
<line x1="350.9" y1="331" x2="355.2" y2="331" stroke="#3a2a2a" stroke-width="0.8"/>
<line x1="361.35" y1="326" x2="361.35" y2="331" stroke="#2a2a2a" stroke-width="0.9"/>
<line x1="360.25" y1="326" x2="362.45000000000005" y2="326" stroke="#2a2a2a" stroke-width="0.9"/>
<line x1="361.35" y1="342.6" x2="361.35" y2="347.6" stroke="#2a2a2a" stroke-width="0.9"/>
<line x1="360.25" y1="347.6" x2="362.45000000000005" y2="347.6" stroke="#2a2a2a" stroke-width="0.9"/>
<rect x="359.10" y="331.00" width="4.50" height="11.60" fill="#f5a020" stroke="#d8860c" stroke-width="0.4"/>
<line x1="359.1" y1="332.2" x2="363.6" y2="332.2" stroke="#3a2a2a" stroke-width="0.8"/>
<line x1="375.15" y1="322.8" x2="375.15" y2="327.7" stroke="#2a2a2a" stroke-width="0.9"/>
<line x1="374.04999999999995" y1="322.8" x2="376.25" y2="322.8" stroke="#2a2a2a" stroke-width="0.9"/>
<line x1="375.15" y1="338.4" x2="375.15" y2="344.6" stroke="#2a2a2a" stroke-width="0.9"/>
<line x1="374.04999999999995" y1="344.6" x2="376.25" y2="344.6" stroke="#2a2a2a" stroke-width="0.9"/>
<rect x="372.80" y="327.70" width="4.70" height="10.70" fill="#c8102e" stroke="#a00c24" stroke-width="0.4"/>
<line x1="383.6" y1="318.5" x2="383.6" y2="326" stroke="#2a2a2a" stroke-width="0.9"/>
<line x1="382.5" y1="318.5" x2="384.70000000000005" y2="318.5" stroke="#2a2a2a" stroke-width="0.9"/>
<line x1="383.6" y1="340.9" x2="383.6" y2="345.9" stroke="#2a2a2a" stroke-width="0.9"/>
<line x1="382.5" y1="345.9" x2="384.70000000000005" y2="345.9" stroke="#2a2a2a" stroke-width="0.9"/>
<rect x="381.50" y="326.00" width="4.20" height="14.90" fill="#f5a020" stroke="#d8860c" stroke-width="0.4"/>
<line x1="381.5" y1="331.7" x2="385.7" y2="331.7" stroke="#3a2a2a" stroke-width="0.8"/>
<line x1="397.54999999999995" y1="343.4" x2="397.54999999999995" y2="349.1" stroke="#2a2a2a" stroke-width="0.9"/>
<line x1="396.44999999999993" y1="343.4" x2="398.65" y2="343.4" stroke="#2a2a2a" stroke-width="0.9"/>
<rect x="395.20" y="349.10" width="4.70" height="23.40" fill="#c8102e" stroke="#a00c24" stroke-width="0.4"/>
<line x1="405.35" y1="344.1" x2="405.35" y2="352.1" stroke="#2a2a2a" stroke-width="0.9"/>
<line x1="404.25" y1="344.1" x2="406.45000000000005" y2="344.1" stroke="#2a2a2a" stroke-width="0.9"/>
<rect x="403.10" y="352.10" width="4.50" height="20.40" fill="#f5a020" stroke="#d8860c" stroke-width="0.4"/>
<line x1="403.1" y1="360.8" x2="407.6" y2="360.8" stroke="#3a2a2a" stroke-width="0.8"/>
<text x="314.2" y="341.4" font-size="6.0" font-weight="normal" text-anchor="middle" fill="#222" color="#222" style="stroke-width:0.18px" transform="rotate(-90 314.2 341.4)" textLength="42" lengthAdjust="spacingAndGlyphs">CD107a expression</text>
<text x="322.09999999999997" y="341.8" font-size="6.0" font-weight="normal" text-anchor="middle" fill="#222" color="#222" style="stroke-width:0.18px" transform="rotate(-90 322.09999999999997 341.8)" textLength="46" lengthAdjust="spacingAndGlyphs">(MFI) on Vδ2 T cells</text>
<line x1="355.2" y1="316" x2="364.1" y2="316" stroke="#222" stroke-width="1"/>
<text x="359.6" y="315.6" font-size="5" text-anchor="middle" font-weight="normal" fill="#333" color="#333" >*</text>
<line x1="377" y1="316" x2="385.7" y2="316" stroke="#222" stroke-width="1"/>
<text x="381.3" y="315.6" font-size="5" text-anchor="middle" font-weight="normal" fill="#333" color="#333" >*</text>
<line x1="7.8" y1="400.2" x2="130.6" y2="400.2" stroke="#444" stroke-width="1.2"/>
<line x1="166.2" y1="400.2" x2="289" y2="400.2" stroke="#444" stroke-width="1.2"/>
<line x1="316.5" y1="400.2" x2="439.8" y2="400.2" stroke="#444" stroke-width="1.2"/>
<rect x="22.5" y="404" width="5.3" height="5.2" fill="#c8102e" />
<text x="31.2" y="409" font-size="6.2" text-anchor="start" font-weight="normal" fill="#222" color="#222" style="stroke-width:0">No-VR</text>
<rect x="170.9" y="404" width="5.3" height="5.2" fill="#c8102e" />
<text x="180.1" y="409" font-size="6.2" text-anchor="start" font-weight="normal" fill="#222" color="#222" style="stroke-width:0">No-VR</text>
<rect x="321.6" y="404" width="5.3" height="5.2" fill="#c8102e" />
<text x="329.8" y="409" font-size="6.2" text-anchor="start" font-weight="normal" fill="#222" color="#222" style="stroke-width:0">No-VR</text>
<rect x="90.8" y="404" width="5.3" height="5.2" fill="#f0a020" />
<text x="99.8" y="409" font-size="6.2" text-anchor="start" font-weight="normal" fill="#222" color="#222" style="stroke-width:0">CMV-R</text>
<rect x="241.4" y="404" width="5.3" height="5.2" fill="#f0a020" />
<text x="250.1" y="409" font-size="6.2" text-anchor="start" font-weight="normal" fill="#222" color="#222" style="stroke-width:0">CMV-R</text>
<rect x="392.2" y="404" width="5.3" height="5.2" fill="#f0a020" />
<text x="400.7" y="409" font-size="6.2" text-anchor="start" font-weight="normal" fill="#222" color="#222" style="stroke-width:0">CMV-R</text>
<defs><linearGradient id="cbD" x1="0" y1="0" x2="0" y2="1"><stop offset="0" stop-color="#a05a10"/><stop offset="0.3" stop-color="#e0a018"/><stop offset="0.6" stop-color="#b8c830"/><stop offset="1" stop-color="#2a8030"/></linearGradient></defs>
<defs><linearGradient id="gN1" x1="0" y1="0" x2="1" y2="0"><stop offset="0" stop-color="#3aa030"/><stop offset="0.5" stop-color="#70b830"/><stop offset="1" stop-color="#a8d040"/></linearGradient></defs>
<defs><linearGradient id="gN2" x1="0" y1="0" x2="1" y2="0"><stop offset="0" stop-color="#2a9030"/><stop offset="0.6" stop-color="#5aaa40"/><stop offset="1" stop-color="#a8d090"/></linearGradient></defs>
<defs><linearGradient id="gC1" x1="0" y1="0" x2="0" y2="1"><stop offset="0" stop-color="#1a3f88"/><stop offset="0.3" stop-color="#1a70a0"/><stop offset="0.5" stop-color="#30a050"/><stop offset="0.72" stop-color="#d8d020"/><stop offset="1" stop-color="#ec8a18"/></linearGradient></defs>
<defs><linearGradient id="gC2" x1="0" y1="0" x2="0" y2="1"><stop offset="0" stop-color="#1a4a88"/><stop offset="0.3" stop-color="#2a80a0"/><stop offset="0.55" stop-color="#50b040"/><stop offset="0.8" stop-color="#e8d828"/><stop offset="1" stop-color="#f0b030"/></linearGradient></defs>
<defs><linearGradient id="gY1" x1="0" y1="0" x2="0" y2="1"><stop offset="0" stop-color="#f0d818"/><stop offset="0.5" stop-color="#f2c020"/><stop offset="1" stop-color="#f0c828"/></linearGradient></defs>
<defs><linearGradient id="gY2" x1="0" y1="0" x2="0" y2="1"><stop offset="0" stop-color="#ecd420"/><stop offset="0.5" stop-color="#f0d030"/><stop offset="1" stop-color="#f0d040"/></linearGradient></defs>
<rect x="8.3" y="412.6" width="52.3" height="41.799999999999955" fill="none" stroke="#666" stroke-width="0.8"/>
<line x1="5.700000000000001" y1="452.9" x2="8.3" y2="452.9" stroke="#666" stroke-width="0.55"/>
<line x1="6.800000000000001" y1="450.5" x2="8.3" y2="450.5" stroke="#666" stroke-width="0.55"/>
<line x1="6.800000000000001" y1="448.09999999999997" x2="8.3" y2="448.09999999999997" stroke="#666" stroke-width="0.55"/>
<line x1="6.800000000000001" y1="445.7" x2="8.3" y2="445.7" stroke="#666" stroke-width="0.55"/>
<line x1="6.800000000000001" y1="443.29999999999995" x2="8.3" y2="443.29999999999995" stroke="#666" stroke-width="0.55"/>
<line x1="5.700000000000001" y1="440.9" x2="8.3" y2="440.9" stroke="#666" stroke-width="0.55"/>
<line x1="6.800000000000001" y1="438.5" x2="8.3" y2="438.5" stroke="#666" stroke-width="0.55"/>
<line x1="6.800000000000001" y1="436.09999999999997" x2="8.3" y2="436.09999999999997" stroke="#666" stroke-width="0.55"/>
<line x1="6.800000000000001" y1="433.7" x2="8.3" y2="433.7" stroke="#666" stroke-width="0.55"/>
<line x1="6.800000000000001" y1="431.29999999999995" x2="8.3" y2="431.29999999999995" stroke="#666" stroke-width="0.55"/>
<line x1="5.700000000000001" y1="428.9" x2="8.3" y2="428.9" stroke="#666" stroke-width="0.55"/>
<line x1="6.800000000000001" y1="426.5" x2="8.3" y2="426.5" stroke="#666" stroke-width="0.55"/>
<line x1="6.800000000000001" y1="424.09999999999997" x2="8.3" y2="424.09999999999997" stroke="#666" stroke-width="0.55"/>
<line x1="6.800000000000001" y1="421.7" x2="8.3" y2="421.7" stroke="#666" stroke-width="0.55"/>
<line x1="6.800000000000001" y1="419.29999999999995" x2="8.3" y2="419.29999999999995" stroke="#666" stroke-width="0.55"/>
<line x1="5.700000000000001" y1="416.9" x2="8.3" y2="416.9" stroke="#666" stroke-width="0.55"/>
<line x1="6.800000000000001" y1="414.5" x2="8.3" y2="414.5" stroke="#666" stroke-width="0.55"/>
<line x1="9.8" y1="454.4" x2="9.8" y2="457.0" stroke="#666" stroke-width="0.55"/>
<line x1="12.200000000000001" y1="454.4" x2="12.200000000000001" y2="455.9" stroke="#666" stroke-width="0.55"/>
<line x1="14.600000000000001" y1="454.4" x2="14.600000000000001" y2="455.9" stroke="#666" stroke-width="0.55"/>
<line x1="17.0" y1="454.4" x2="17.0" y2="455.9" stroke="#666" stroke-width="0.55"/>
<line x1="19.4" y1="454.4" x2="19.4" y2="455.9" stroke="#666" stroke-width="0.55"/>
<line x1="21.8" y1="454.4" x2="21.8" y2="457.0" stroke="#666" stroke-width="0.55"/>
<line x1="24.2" y1="454.4" x2="24.2" y2="455.9" stroke="#666" stroke-width="0.55"/>
<line x1="26.6" y1="454.4" x2="26.6" y2="455.9" stroke="#666" stroke-width="0.55"/>
<line x1="29.0" y1="454.4" x2="29.0" y2="455.9" stroke="#666" stroke-width="0.55"/>
<line x1="31.4" y1="454.4" x2="31.4" y2="455.9" stroke="#666" stroke-width="0.55"/>
<line x1="33.8" y1="454.4" x2="33.8" y2="457.0" stroke="#666" stroke-width="0.55"/>
<line x1="36.2" y1="454.4" x2="36.2" y2="455.9" stroke="#666" stroke-width="0.55"/>
<line x1="38.599999999999994" y1="454.4" x2="38.599999999999994" y2="455.9" stroke="#666" stroke-width="0.55"/>
<line x1="41.0" y1="454.4" x2="41.0" y2="455.9" stroke="#666" stroke-width="0.55"/>
<line x1="43.400000000000006" y1="454.4" x2="43.400000000000006" y2="455.9" stroke="#666" stroke-width="0.55"/>
<line x1="45.8" y1="454.4" x2="45.8" y2="457.0" stroke="#666" stroke-width="0.55"/>
<line x1="48.2" y1="454.4" x2="48.2" y2="455.9" stroke="#666" stroke-width="0.55"/>
<line x1="50.599999999999994" y1="454.4" x2="50.599999999999994" y2="455.9" stroke="#666" stroke-width="0.55"/>
<line x1="53.0" y1="454.4" x2="53.0" y2="455.9" stroke="#666" stroke-width="0.55"/>
<line x1="55.400000000000006" y1="454.4" x2="55.400000000000006" y2="455.9" stroke="#666" stroke-width="0.55"/>
<line x1="57.8" y1="454.4" x2="57.8" y2="457.0" stroke="#666" stroke-width="0.55"/>
<path d="M34.00,420.50C34.92,419.03 37.67,418.53 40.00,418.20C42.33,417.87 45.58,417.95 48.00,418.50C50.42,419.05 53.50,419.92 54.50,421.50C55.50,423.08 55.08,426.12 54.00,428.00C52.92,429.88 50.33,432.22 48.00,432.80C45.67,433.38 42.25,432.47 40.00,431.50C37.75,430.53 35.50,428.83 34.50,427.00C33.50,425.17 33.08,421.97 34.00,420.50Z" fill="#ecd0ea" fill-opacity="0.5" filter="url(#spk1)"/>
<path d="M46.30,442.00C46.97,441.40 48.70,441.23 50.00,441.40C51.30,441.57 53.52,442.10 54.10,443.00C54.68,443.90 54.52,446.08 53.50,446.80C52.48,447.52 49.25,447.60 48.00,447.30C46.75,447.00 46.28,445.88 46.00,445.00C45.72,444.12 45.63,442.60 46.30,442.00Z" fill="#f4dcdc" fill-opacity="0.4" />
<ellipse cx="49" cy="434" rx="2.2" ry="1.8" fill="#90c080" fill-opacity="0.6" transform="rotate(0 49 434)"/>
<ellipse cx="14.5" cy="433.5" rx="1.3" ry="2" fill="#e89020" fill-opacity="0.9" transform="rotate(0 14.5 433.5)"/>
<path d="M18.80,426.70C20.02,425.82 20.72,424.88 21.70,425.30C22.68,425.72 23.72,427.98 24.70,429.20C25.68,430.42 27.03,431.47 27.60,432.60C28.17,433.73 28.42,434.85 28.10,436.00C27.78,437.15 26.92,438.75 25.70,439.50C24.48,440.25 22.28,440.67 20.80,440.50C19.32,440.33 17.95,439.48 16.80,438.50C15.65,437.52 14.30,435.92 13.90,434.60C13.50,433.28 13.58,431.92 14.40,430.60C15.22,429.28 17.58,427.58 18.80,426.70Z" fill="url(#gN1)" fill-opacity="1" filter="url(#spk1)"/>
<path d="M18.80,426.70C20.02,425.82 20.72,424.88 21.70,425.30C22.68,425.72 23.72,427.98 24.70,429.20C25.68,430.42 27.03,431.47 27.60,432.60C28.17,433.73 28.42,434.85 28.10,436.00C27.78,437.15 26.92,438.75 25.70,439.50C24.48,440.25 22.28,440.67 20.80,440.50C19.32,440.33 17.95,439.48 16.80,438.50C15.65,437.52 14.30,435.92 13.90,434.60C13.50,433.28 13.58,431.92 14.40,430.60C15.22,429.28 17.58,427.58 18.80,426.70Z" fill="#2a8a2a" filter="url(#spkD)"/>
<text x="62.6" y="434.8" font-size="4.0" text-anchor="start" font-weight="normal" fill="#555" color="#555" >NKG2D</text>
<text x="62.6" y="439.6" font-size="4.0" text-anchor="start" font-weight="normal" fill="#555" color="#555" >intensity</text>
<rect x="62.4" y="441.8" width="1.9" height="12" fill="url(#cbD)"/>
<rect x="81.2" y="412.6" width="50.2" height="41.799999999999955" fill="none" stroke="#666" stroke-width="0.8"/>
<line x1="78.60000000000001" y1="452.9" x2="81.2" y2="452.9" stroke="#666" stroke-width="0.55"/>
<line x1="79.7" y1="450.5" x2="81.2" y2="450.5" stroke="#666" stroke-width="0.55"/>
<line x1="79.7" y1="448.09999999999997" x2="81.2" y2="448.09999999999997" stroke="#666" stroke-width="0.55"/>
<line x1="79.7" y1="445.7" x2="81.2" y2="445.7" stroke="#666" stroke-width="0.55"/>
<line x1="79.7" y1="443.29999999999995" x2="81.2" y2="443.29999999999995" stroke="#666" stroke-width="0.55"/>
<line x1="78.60000000000001" y1="440.9" x2="81.2" y2="440.9" stroke="#666" stroke-width="0.55"/>
<line x1="79.7" y1="438.5" x2="81.2" y2="438.5" stroke="#666" stroke-width="0.55"/>
<line x1="79.7" y1="436.09999999999997" x2="81.2" y2="436.09999999999997" stroke="#666" stroke-width="0.55"/>
<line x1="79.7" y1="433.7" x2="81.2" y2="433.7" stroke="#666" stroke-width="0.55"/>
<line x1="79.7" y1="431.29999999999995" x2="81.2" y2="431.29999999999995" stroke="#666" stroke-width="0.55"/>
<line x1="78.60000000000001" y1="428.9" x2="81.2" y2="428.9" stroke="#666" stroke-width="0.55"/>
<line x1="79.7" y1="426.5" x2="81.2" y2="426.5" stroke="#666" stroke-width="0.55"/>
<line x1="79.7" y1="424.09999999999997" x2="81.2" y2="424.09999999999997" stroke="#666" stroke-width="0.55"/>
<line x1="79.7" y1="421.7" x2="81.2" y2="421.7" stroke="#666" stroke-width="0.55"/>
<line x1="79.7" y1="419.29999999999995" x2="81.2" y2="419.29999999999995" stroke="#666" stroke-width="0.55"/>
<line x1="78.60000000000001" y1="416.9" x2="81.2" y2="416.9" stroke="#666" stroke-width="0.55"/>
<line x1="79.7" y1="414.5" x2="81.2" y2="414.5" stroke="#666" stroke-width="0.55"/>
<line x1="82.7" y1="454.4" x2="82.7" y2="457.0" stroke="#666" stroke-width="0.55"/>
<line x1="85.10000000000001" y1="454.4" x2="85.10000000000001" y2="455.9" stroke="#666" stroke-width="0.55"/>
<line x1="87.5" y1="454.4" x2="87.5" y2="455.9" stroke="#666" stroke-width="0.55"/>
<line x1="89.9" y1="454.4" x2="89.9" y2="455.9" stroke="#666" stroke-width="0.55"/>
<line x1="92.3" y1="454.4" x2="92.3" y2="455.9" stroke="#666" stroke-width="0.55"/>
<line x1="94.7" y1="454.4" x2="94.7" y2="457.0" stroke="#666" stroke-width="0.55"/>
<line x1="97.1" y1="454.4" x2="97.1" y2="455.9" stroke="#666" stroke-width="0.55"/>
<line x1="99.5" y1="454.4" x2="99.5" y2="455.9" stroke="#666" stroke-width="0.55"/>
<line x1="101.9" y1="454.4" x2="101.9" y2="455.9" stroke="#666" stroke-width="0.55"/>
<line x1="104.3" y1="454.4" x2="104.3" y2="455.9" stroke="#666" stroke-width="0.55"/>
<line x1="106.7" y1="454.4" x2="106.7" y2="457.0" stroke="#666" stroke-width="0.55"/>
<line x1="109.1" y1="454.4" x2="109.1" y2="455.9" stroke="#666" stroke-width="0.55"/>
<line x1="111.5" y1="454.4" x2="111.5" y2="455.9" stroke="#666" stroke-width="0.55"/>
<line x1="113.9" y1="454.4" x2="113.9" y2="455.9" stroke="#666" stroke-width="0.55"/>
<line x1="116.30000000000001" y1="454.4" x2="116.30000000000001" y2="455.9" stroke="#666" stroke-width="0.55"/>
<line x1="118.7" y1="454.4" x2="118.7" y2="457.0" stroke="#666" stroke-width="0.55"/>
<line x1="121.1" y1="454.4" x2="121.1" y2="455.9" stroke="#666" stroke-width="0.55"/>
<line x1="123.5" y1="454.4" x2="123.5" y2="455.9" stroke="#666" stroke-width="0.55"/>
<line x1="125.9" y1="454.4" x2="125.9" y2="455.9" stroke="#666" stroke-width="0.55"/>
<line x1="128.3" y1="454.4" x2="128.3" y2="455.9" stroke="#666" stroke-width="0.55"/>
<path d="M108.50,420.50C109.42,419.03 112.17,418.53 114.50,418.20C116.83,417.87 120.08,417.95 122.50,418.50C124.92,419.05 128.00,419.92 129.00,421.50C130.00,423.08 129.58,426.12 128.50,428.00C127.42,429.88 124.83,432.22 122.50,432.80C120.17,433.38 116.75,432.47 114.50,431.50C112.25,430.53 110.00,428.83 109.00,427.00C108.00,425.17 107.58,421.97 108.50,420.50Z" fill="#ecd0ea" fill-opacity="0.5" filter="url(#spk1)"/>
<path d="M120.80,442.00C121.47,441.40 123.20,441.23 124.50,441.40C125.80,441.57 128.02,442.10 128.60,443.00C129.18,443.90 129.02,446.08 128.00,446.80C126.98,447.52 123.75,447.60 122.50,447.30C121.25,447.00 120.78,445.88 120.50,445.00C120.22,444.12 120.13,442.60 120.80,442.00Z" fill="#f4dcdc" fill-opacity="0.4" />
<ellipse cx="119.2" cy="432.8" rx="3.5" ry="2.2" fill="#3a9a30" fill-opacity="0.85" transform="rotate(0 119.2 432.8)"/>
<ellipse cx="119.5" cy="432.8" rx="1.6" ry="1" fill="#c8e8a0" fill-opacity="0.9" transform="rotate(0 119.5 432.8)"/>
<path d="M86.90,427.70C87.88,426.97 89.33,425.87 90.80,426.20C92.27,426.53 94.32,428.47 95.70,429.70C97.08,430.93 98.62,432.30 99.10,433.60C99.58,434.90 99.33,436.43 98.60,437.50C97.87,438.57 96.17,439.75 94.70,440.00C93.23,440.25 91.27,439.90 89.80,439.00C88.33,438.10 86.72,436.00 85.90,434.60C85.08,433.20 84.73,431.75 84.90,430.60C85.07,429.45 85.92,428.43 86.90,427.70Z" fill="url(#gN2)" fill-opacity="1" filter="url(#spk1)"/>
<path d="M86.90,427.70C87.88,426.97 89.33,425.87 90.80,426.20C92.27,426.53 94.32,428.47 95.70,429.70C97.08,430.93 98.62,432.30 99.10,433.60C99.58,434.90 99.33,436.43 98.60,437.50C97.87,438.57 96.17,439.75 94.70,440.00C93.23,440.25 91.27,439.90 89.80,439.00C88.33,438.10 86.72,436.00 85.90,434.60C85.08,433.20 84.73,431.75 84.90,430.60C85.07,429.45 85.92,428.43 86.90,427.70Z" fill="#1e7a22" filter="url(#spkD)"/>
<text x="133.4" y="434.8" font-size="4.0" text-anchor="start" font-weight="normal" fill="#555" color="#555" >NKG2D</text>
<text x="133.4" y="439.6" font-size="4.0" text-anchor="start" font-weight="normal" fill="#555" color="#555" >intensity</text>
<rect x="133.2" y="441.8" width="1.9" height="12" fill="url(#cbD)"/>
<rect x="159.3" y="412.6" width="51.099999999999994" height="41.799999999999955" fill="none" stroke="#666" stroke-width="0.8"/>
<line x1="156.70000000000002" y1="452.9" x2="159.3" y2="452.9" stroke="#666" stroke-width="0.55"/>
<line x1="157.8" y1="450.5" x2="159.3" y2="450.5" stroke="#666" stroke-width="0.55"/>
<line x1="157.8" y1="448.09999999999997" x2="159.3" y2="448.09999999999997" stroke="#666" stroke-width="0.55"/>
<line x1="157.8" y1="445.7" x2="159.3" y2="445.7" stroke="#666" stroke-width="0.55"/>
<line x1="157.8" y1="443.29999999999995" x2="159.3" y2="443.29999999999995" stroke="#666" stroke-width="0.55"/>
<line x1="156.70000000000002" y1="440.9" x2="159.3" y2="440.9" stroke="#666" stroke-width="0.55"/>
<line x1="157.8" y1="438.5" x2="159.3" y2="438.5" stroke="#666" stroke-width="0.55"/>
<line x1="157.8" y1="436.09999999999997" x2="159.3" y2="436.09999999999997" stroke="#666" stroke-width="0.55"/>
<line x1="157.8" y1="433.7" x2="159.3" y2="433.7" stroke="#666" stroke-width="0.55"/>
<line x1="157.8" y1="431.29999999999995" x2="159.3" y2="431.29999999999995" stroke="#666" stroke-width="0.55"/>
<line x1="156.70000000000002" y1="428.9" x2="159.3" y2="428.9" stroke="#666" stroke-width="0.55"/>
<line x1="157.8" y1="426.5" x2="159.3" y2="426.5" stroke="#666" stroke-width="0.55"/>
<line x1="157.8" y1="424.09999999999997" x2="159.3" y2="424.09999999999997" stroke="#666" stroke-width="0.55"/>
<line x1="157.8" y1="421.7" x2="159.3" y2="421.7" stroke="#666" stroke-width="0.55"/>
<line x1="157.8" y1="419.29999999999995" x2="159.3" y2="419.29999999999995" stroke="#666" stroke-width="0.55"/>
<line x1="156.70000000000002" y1="416.9" x2="159.3" y2="416.9" stroke="#666" stroke-width="0.55"/>
<line x1="157.8" y1="414.5" x2="159.3" y2="414.5" stroke="#666" stroke-width="0.55"/>
<line x1="160.8" y1="454.4" x2="160.8" y2="457.0" stroke="#666" stroke-width="0.55"/>
<line x1="163.20000000000002" y1="454.4" x2="163.20000000000002" y2="455.9" stroke="#666" stroke-width="0.55"/>
<line x1="165.60000000000002" y1="454.4" x2="165.60000000000002" y2="455.9" stroke="#666" stroke-width="0.55"/>
<line x1="168.0" y1="454.4" x2="168.0" y2="455.9" stroke="#666" stroke-width="0.55"/>
<line x1="170.4" y1="454.4" x2="170.4" y2="455.9" stroke="#666" stroke-width="0.55"/>
<line x1="172.8" y1="454.4" x2="172.8" y2="457.0" stroke="#666" stroke-width="0.55"/>
<line x1="175.20000000000002" y1="454.4" x2="175.20000000000002" y2="455.9" stroke="#666" stroke-width="0.55"/>
<line x1="177.60000000000002" y1="454.4" x2="177.60000000000002" y2="455.9" stroke="#666" stroke-width="0.55"/>
<line x1="180.0" y1="454.4" x2="180.0" y2="455.9" stroke="#666" stroke-width="0.55"/>
<line x1="182.4" y1="454.4" x2="182.4" y2="455.9" stroke="#666" stroke-width="0.55"/>
<line x1="184.8" y1="454.4" x2="184.8" y2="457.0" stroke="#666" stroke-width="0.55"/>
<line x1="187.20000000000002" y1="454.4" x2="187.20000000000002" y2="455.9" stroke="#666" stroke-width="0.55"/>
<line x1="189.60000000000002" y1="454.4" x2="189.60000000000002" y2="455.9" stroke="#666" stroke-width="0.55"/>
<line x1="192.0" y1="454.4" x2="192.0" y2="455.9" stroke="#666" stroke-width="0.55"/>
<line x1="194.4" y1="454.4" x2="194.4" y2="455.9" stroke="#666" stroke-width="0.55"/>
<line x1="196.8" y1="454.4" x2="196.8" y2="457.0" stroke="#666" stroke-width="0.55"/>
<line x1="199.20000000000002" y1="454.4" x2="199.20000000000002" y2="455.9" stroke="#666" stroke-width="0.55"/>
<line x1="201.60000000000002" y1="454.4" x2="201.60000000000002" y2="455.9" stroke="#666" stroke-width="0.55"/>
<line x1="204.0" y1="454.4" x2="204.0" y2="455.9" stroke="#666" stroke-width="0.55"/>
<line x1="206.4" y1="454.4" x2="206.4" y2="455.9" stroke="#666" stroke-width="0.55"/>
<line x1="208.8" y1="454.4" x2="208.8" y2="457.0" stroke="#666" stroke-width="0.55"/>
<path d="M185.50,420.50C186.42,419.03 189.17,418.53 191.50,418.20C193.83,417.87 197.08,417.95 199.50,418.50C201.92,419.05 205.00,419.92 206.00,421.50C207.00,423.08 206.58,426.12 205.50,428.00C204.42,429.88 201.83,432.22 199.50,432.80C197.17,433.38 193.75,432.47 191.50,431.50C189.25,430.53 187.00,428.83 186.00,427.00C185.00,425.17 184.58,421.97 185.50,420.50Z" fill="#ecd0ea" fill-opacity="0.5" filter="url(#spk1)"/>
<path d="M197.80,442.00C198.47,441.40 200.20,441.23 201.50,441.40C202.80,441.57 205.02,442.10 205.60,443.00C206.18,443.90 206.02,446.08 205.00,446.80C203.98,447.52 200.75,447.60 199.50,447.30C198.25,447.00 197.78,445.88 197.50,445.00C197.22,444.12 197.13,442.60 197.80,442.00Z" fill="#f4dcdc" fill-opacity="0.4" />
<ellipse cx="199" cy="434" rx="2.5" ry="1.6" fill="#7a9a80" fill-opacity="0.6" transform="rotate(0 199 434)"/>
<path d="M165.90,427.70C166.97,426.55 168.73,426.10 169.80,425.70C170.87,425.30 171.65,424.63 172.30,425.30C172.95,425.97 173.05,428.48 173.70,429.70C174.35,430.92 175.70,431.30 176.20,432.60C176.70,433.90 176.95,436.18 176.70,437.50C176.45,438.82 176.02,440.00 174.70,440.50C173.38,441.00 170.35,441.17 168.80,440.50C167.25,439.83 166.30,437.82 165.40,436.50C164.50,435.18 163.32,434.07 163.40,432.60C163.48,431.13 164.83,428.85 165.90,427.70Z" fill="url(#gC1)" fill-opacity="1" filter="url(#spk1)"/>
<text x="212.4" y="434.8" font-size="4.0" text-anchor="start" font-weight="normal" fill="#555" color="#555" >CD16</text>
<text x="212.4" y="439.6" font-size="4.0" text-anchor="start" font-weight="normal" fill="#555" color="#555" >intensity</text>
<rect x="212.2" y="441.8" width="1.9" height="12" fill="url(#cbD)"/>
<rect x="230.2" y="412.6" width="51.900000000000034" height="41.799999999999955" fill="none" stroke="#666" stroke-width="0.8"/>
<line x1="227.6" y1="452.9" x2="230.2" y2="452.9" stroke="#666" stroke-width="0.55"/>
<line x1="228.7" y1="450.5" x2="230.2" y2="450.5" stroke="#666" stroke-width="0.55"/>
<line x1="228.7" y1="448.09999999999997" x2="230.2" y2="448.09999999999997" stroke="#666" stroke-width="0.55"/>
<line x1="228.7" y1="445.7" x2="230.2" y2="445.7" stroke="#666" stroke-width="0.55"/>
<line x1="228.7" y1="443.29999999999995" x2="230.2" y2="443.29999999999995" stroke="#666" stroke-width="0.55"/>
<line x1="227.6" y1="440.9" x2="230.2" y2="440.9" stroke="#666" stroke-width="0.55"/>
<line x1="228.7" y1="438.5" x2="230.2" y2="438.5" stroke="#666" stroke-width="0.55"/>
<line x1="228.7" y1="436.09999999999997" x2="230.2" y2="436.09999999999997" stroke="#666" stroke-width="0.55"/>
<line x1="228.7" y1="433.7" x2="230.2" y2="433.7" stroke="#666" stroke-width="0.55"/>
<line x1="228.7" y1="431.29999999999995" x2="230.2" y2="431.29999999999995" stroke="#666" stroke-width="0.55"/>
<line x1="227.6" y1="428.9" x2="230.2" y2="428.9" stroke="#666" stroke-width="0.55"/>
<line x1="228.7" y1="426.5" x2="230.2" y2="426.5" stroke="#666" stroke-width="0.55"/>
<line x1="228.7" y1="424.09999999999997" x2="230.2" y2="424.09999999999997" stroke="#666" stroke-width="0.55"/>
<line x1="228.7" y1="421.7" x2="230.2" y2="421.7" stroke="#666" stroke-width="0.55"/>
<line x1="228.7" y1="419.29999999999995" x2="230.2" y2="419.29999999999995" stroke="#666" stroke-width="0.55"/>
<line x1="227.6" y1="416.9" x2="230.2" y2="416.9" stroke="#666" stroke-width="0.55"/>
<line x1="228.7" y1="414.5" x2="230.2" y2="414.5" stroke="#666" stroke-width="0.55"/>
<line x1="231.7" y1="454.4" x2="231.7" y2="457.0" stroke="#666" stroke-width="0.55"/>
<line x1="234.1" y1="454.4" x2="234.1" y2="455.9" stroke="#666" stroke-width="0.55"/>
<line x1="236.5" y1="454.4" x2="236.5" y2="455.9" stroke="#666" stroke-width="0.55"/>
<line x1="238.89999999999998" y1="454.4" x2="238.89999999999998" y2="455.9" stroke="#666" stroke-width="0.55"/>
<line x1="241.29999999999998" y1="454.4" x2="241.29999999999998" y2="455.9" stroke="#666" stroke-width="0.55"/>
<line x1="243.7" y1="454.4" x2="243.7" y2="457.0" stroke="#666" stroke-width="0.55"/>
<line x1="246.1" y1="454.4" x2="246.1" y2="455.9" stroke="#666" stroke-width="0.55"/>
<line x1="248.5" y1="454.4" x2="248.5" y2="455.9" stroke="#666" stroke-width="0.55"/>
<line x1="250.89999999999998" y1="454.4" x2="250.89999999999998" y2="455.9" stroke="#666" stroke-width="0.55"/>
<line x1="253.29999999999998" y1="454.4" x2="253.29999999999998" y2="455.9" stroke="#666" stroke-width="0.55"/>
<line x1="255.7" y1="454.4" x2="255.7" y2="457.0" stroke="#666" stroke-width="0.55"/>
<line x1="258.09999999999997" y1="454.4" x2="258.09999999999997" y2="455.9" stroke="#666" stroke-width="0.55"/>
<line x1="260.5" y1="454.4" x2="260.5" y2="455.9" stroke="#666" stroke-width="0.55"/>
<line x1="262.9" y1="454.4" x2="262.9" y2="455.9" stroke="#666" stroke-width="0.55"/>
<line x1="265.3" y1="454.4" x2="265.3" y2="455.9" stroke="#666" stroke-width="0.55"/>
<line x1="267.7" y1="454.4" x2="267.7" y2="457.0" stroke="#666" stroke-width="0.55"/>
<line x1="270.09999999999997" y1="454.4" x2="270.09999999999997" y2="455.9" stroke="#666" stroke-width="0.55"/>
<line x1="272.5" y1="454.4" x2="272.5" y2="455.9" stroke="#666" stroke-width="0.55"/>
<line x1="274.9" y1="454.4" x2="274.9" y2="455.9" stroke="#666" stroke-width="0.55"/>
<line x1="277.3" y1="454.4" x2="277.3" y2="455.9" stroke="#666" stroke-width="0.55"/>
<line x1="279.7" y1="454.4" x2="279.7" y2="457.0" stroke="#666" stroke-width="0.55"/>
<path d="M258.00,420.50C258.92,419.03 261.67,418.53 264.00,418.20C266.33,417.87 269.58,417.95 272.00,418.50C274.42,419.05 277.50,419.92 278.50,421.50C279.50,423.08 279.08,426.12 278.00,428.00C276.92,429.88 274.33,432.22 272.00,432.80C269.67,433.38 266.25,432.47 264.00,431.50C261.75,430.53 259.50,428.83 258.50,427.00C257.50,425.17 257.08,421.97 258.00,420.50Z" fill="#ecd0ea" fill-opacity="0.5" filter="url(#spk1)"/>
<path d="M270.30,442.00C270.97,441.40 272.70,441.23 274.00,441.40C275.30,441.57 277.52,442.10 278.10,443.00C278.68,443.90 278.52,446.08 277.50,446.80C276.48,447.52 273.25,447.60 272.00,447.30C270.75,447.00 270.28,445.88 270.00,445.00C269.72,444.12 269.63,442.60 270.30,442.00Z" fill="#f4dcdc" fill-opacity="0.4" />
<ellipse cx="270.2" cy="432.8" rx="3.8" ry="2.2" fill="#c8d040" fill-opacity="0.85" transform="rotate(0 270.2 432.8)"/>
<ellipse cx="272.8" cy="432.6" rx="1.4" ry="2" fill="#2a7a50" fill-opacity="0.85" transform="rotate(0 272.8 432.6)"/>
<path d="M236.90,428.70C237.80,427.72 239.33,426.28 240.80,426.20C242.27,426.12 244.32,427.38 245.70,428.20C247.08,429.02 248.62,429.88 249.10,431.10C249.58,432.32 249.17,434.10 248.60,435.50C248.03,436.90 247.00,438.75 245.70,439.50C244.40,440.25 242.10,440.50 240.80,440.00C239.50,439.50 238.80,437.82 237.90,436.50C237.00,435.18 235.57,433.40 235.40,432.10C235.23,430.80 236.00,429.68 236.90,428.70Z" fill="url(#gC2)" fill-opacity="1" filter="url(#spk1)"/>
<text x="284.1" y="434.8" font-size="4.0" text-anchor="start" font-weight="normal" fill="#555" color="#555" >CD16</text>
<text x="284.1" y="439.6" font-size="4.0" text-anchor="start" font-weight="normal" fill="#555" color="#555" >intensity</text>
<rect x="283.9" y="441.8" width="1.9" height="12" fill="url(#cbD)"/>
<rect x="309" y="412.6" width="52.39999999999998" height="41.799999999999955" fill="none" stroke="#666" stroke-width="0.8"/>
<line x1="306.4" y1="452.9" x2="309" y2="452.9" stroke="#666" stroke-width="0.55"/>
<line x1="307.5" y1="450.5" x2="309" y2="450.5" stroke="#666" stroke-width="0.55"/>
<line x1="307.5" y1="448.09999999999997" x2="309" y2="448.09999999999997" stroke="#666" stroke-width="0.55"/>
<line x1="307.5" y1="445.7" x2="309" y2="445.7" stroke="#666" stroke-width="0.55"/>
<line x1="307.5" y1="443.29999999999995" x2="309" y2="443.29999999999995" stroke="#666" stroke-width="0.55"/>
<line x1="306.4" y1="440.9" x2="309" y2="440.9" stroke="#666" stroke-width="0.55"/>
<line x1="307.5" y1="438.5" x2="309" y2="438.5" stroke="#666" stroke-width="0.55"/>
<line x1="307.5" y1="436.09999999999997" x2="309" y2="436.09999999999997" stroke="#666" stroke-width="0.55"/>
<line x1="307.5" y1="433.7" x2="309" y2="433.7" stroke="#666" stroke-width="0.55"/>
<line x1="307.5" y1="431.29999999999995" x2="309" y2="431.29999999999995" stroke="#666" stroke-width="0.55"/>
<line x1="306.4" y1="428.9" x2="309" y2="428.9" stroke="#666" stroke-width="0.55"/>
<line x1="307.5" y1="426.5" x2="309" y2="426.5" stroke="#666" stroke-width="0.55"/>
<line x1="307.5" y1="424.09999999999997" x2="309" y2="424.09999999999997" stroke="#666" stroke-width="0.55"/>
<line x1="307.5" y1="421.7" x2="309" y2="421.7" stroke="#666" stroke-width="0.55"/>
<line x1="307.5" y1="419.29999999999995" x2="309" y2="419.29999999999995" stroke="#666" stroke-width="0.55"/>
<line x1="306.4" y1="416.9" x2="309" y2="416.9" stroke="#666" stroke-width="0.55"/>
<line x1="307.5" y1="414.5" x2="309" y2="414.5" stroke="#666" stroke-width="0.55"/>
<line x1="310.5" y1="454.4" x2="310.5" y2="457.0" stroke="#666" stroke-width="0.55"/>
<line x1="312.9" y1="454.4" x2="312.9" y2="455.9" stroke="#666" stroke-width="0.55"/>
<line x1="315.3" y1="454.4" x2="315.3" y2="455.9" stroke="#666" stroke-width="0.55"/>
<line x1="317.7" y1="454.4" x2="317.7" y2="455.9" stroke="#666" stroke-width="0.55"/>
<line x1="320.1" y1="454.4" x2="320.1" y2="455.9" stroke="#666" stroke-width="0.55"/>
<line x1="322.5" y1="454.4" x2="322.5" y2="457.0" stroke="#666" stroke-width="0.55"/>
<line x1="324.9" y1="454.4" x2="324.9" y2="455.9" stroke="#666" stroke-width="0.55"/>
<line x1="327.3" y1="454.4" x2="327.3" y2="455.9" stroke="#666" stroke-width="0.55"/>
<line x1="329.7" y1="454.4" x2="329.7" y2="455.9" stroke="#666" stroke-width="0.55"/>
<line x1="332.1" y1="454.4" x2="332.1" y2="455.9" stroke="#666" stroke-width="0.55"/>
<line x1="334.5" y1="454.4" x2="334.5" y2="457.0" stroke="#666" stroke-width="0.55"/>
<line x1="336.9" y1="454.4" x2="336.9" y2="455.9" stroke="#666" stroke-width="0.55"/>
<line x1="339.3" y1="454.4" x2="339.3" y2="455.9" stroke="#666" stroke-width="0.55"/>
<line x1="341.7" y1="454.4" x2="341.7" y2="455.9" stroke="#666" stroke-width="0.55"/>
<line x1="344.1" y1="454.4" x2="344.1" y2="455.9" stroke="#666" stroke-width="0.55"/>
<line x1="346.5" y1="454.4" x2="346.5" y2="457.0" stroke="#666" stroke-width="0.55"/>
<line x1="348.9" y1="454.4" x2="348.9" y2="455.9" stroke="#666" stroke-width="0.55"/>
<line x1="351.3" y1="454.4" x2="351.3" y2="455.9" stroke="#666" stroke-width="0.55"/>
<line x1="353.7" y1="454.4" x2="353.7" y2="455.9" stroke="#666" stroke-width="0.55"/>
<line x1="356.1" y1="454.4" x2="356.1" y2="455.9" stroke="#666" stroke-width="0.55"/>
<line x1="358.5" y1="454.4" x2="358.5" y2="457.0" stroke="#666" stroke-width="0.55"/>
<path d="M336.00,420.50C336.92,419.03 339.67,418.53 342.00,418.20C344.33,417.87 347.58,417.95 350.00,418.50C352.42,419.05 355.50,419.92 356.50,421.50C357.50,423.08 357.08,426.12 356.00,428.00C354.92,429.88 352.33,432.22 350.00,432.80C347.67,433.38 344.25,432.47 342.00,431.50C339.75,430.53 337.50,428.83 336.50,427.00C335.50,425.17 335.08,421.97 336.00,420.50Z" fill="#ecd0ea" fill-opacity="0.5" filter="url(#spk1)"/>
<path d="M348.30,442.00C348.97,441.40 350.70,441.23 352.00,441.40C353.30,441.57 355.52,442.10 356.10,443.00C356.68,443.90 356.52,446.08 355.50,446.80C354.48,447.52 351.25,447.60 350.00,447.30C348.75,447.00 348.28,445.88 348.00,445.00C347.72,444.12 347.63,442.60 348.30,442.00Z" fill="#f4dcdc" fill-opacity="0.4" />
<ellipse cx="350.2" cy="433.8" rx="2.5" ry="1.6" fill="#a0c890" fill-opacity="0.6" transform="rotate(0 350.2 433.8)"/>
<path d="M315.40,429.70C316.38,428.72 318.58,427.43 319.80,426.70C321.02,425.97 321.72,424.80 322.70,425.30C323.68,425.80 324.80,428.32 325.70,429.70C326.60,431.08 327.78,432.30 328.10,433.60C328.42,434.90 328.33,436.43 327.60,437.50C326.87,438.57 325.08,439.67 323.70,440.00C322.32,440.33 320.60,440.08 319.30,439.50C318.00,438.92 316.80,437.65 315.90,436.50C315.00,435.35 313.98,433.73 313.90,432.60C313.82,431.47 314.42,430.68 315.40,429.70Z" fill="url(#gY1)" fill-opacity="1" filter="url(#spk1)"/>
<path d="M315.40,429.70C316.38,428.72 318.58,427.43 319.80,426.70C321.02,425.97 321.72,424.80 322.70,425.30C323.68,425.80 324.80,428.32 325.70,429.70C326.60,431.08 327.78,432.30 328.10,433.60C328.42,434.90 328.33,436.43 327.60,437.50C326.87,438.57 325.08,439.67 323.70,440.00C322.32,440.33 320.60,440.08 319.30,439.50C318.00,438.92 316.80,437.65 315.90,436.50C315.00,435.35 313.98,433.73 313.90,432.60C313.82,431.47 314.42,430.68 315.40,429.70Z" fill="#d09810" filter="url(#spkD)"/>
<text x="363.4" y="434.8" font-size="4.0" text-anchor="start" font-weight="normal" fill="#555" color="#555" >CD107</text>
<text x="363.4" y="439.6" font-size="4.0" text-anchor="start" font-weight="normal" fill="#555" color="#555" >intensity</text>
<rect x="363.2" y="441.8" width="1.9" height="12" fill="url(#cbD)"/>
<rect x="381" y="412.6" width="52" height="41.799999999999955" fill="none" stroke="#666" stroke-width="0.8"/>
<line x1="378.4" y1="452.9" x2="381" y2="452.9" stroke="#666" stroke-width="0.55"/>
<line x1="379.5" y1="450.5" x2="381" y2="450.5" stroke="#666" stroke-width="0.55"/>
<line x1="379.5" y1="448.09999999999997" x2="381" y2="448.09999999999997" stroke="#666" stroke-width="0.55"/>
<line x1="379.5" y1="445.7" x2="381" y2="445.7" stroke="#666" stroke-width="0.55"/>
<line x1="379.5" y1="443.29999999999995" x2="381" y2="443.29999999999995" stroke="#666" stroke-width="0.55"/>
<line x1="378.4" y1="440.9" x2="381" y2="440.9" stroke="#666" stroke-width="0.55"/>
<line x1="379.5" y1="438.5" x2="381" y2="438.5" stroke="#666" stroke-width="0.55"/>
<line x1="379.5" y1="436.09999999999997" x2="381" y2="436.09999999999997" stroke="#666" stroke-width="0.55"/>
<line x1="379.5" y1="433.7" x2="381" y2="433.7" stroke="#666" stroke-width="0.55"/>
<line x1="379.5" y1="431.29999999999995" x2="381" y2="431.29999999999995" stroke="#666" stroke-width="0.55"/>
<line x1="378.4" y1="428.9" x2="381" y2="428.9" stroke="#666" stroke-width="0.55"/>
<line x1="379.5" y1="426.5" x2="381" y2="426.5" stroke="#666" stroke-width="0.55"/>
<line x1="379.5" y1="424.09999999999997" x2="381" y2="424.09999999999997" stroke="#666" stroke-width="0.55"/>
<line x1="379.5" y1="421.7" x2="381" y2="421.7" stroke="#666" stroke-width="0.55"/>
<line x1="379.5" y1="419.29999999999995" x2="381" y2="419.29999999999995" stroke="#666" stroke-width="0.55"/>
<line x1="378.4" y1="416.9" x2="381" y2="416.9" stroke="#666" stroke-width="0.55"/>
<line x1="379.5" y1="414.5" x2="381" y2="414.5" stroke="#666" stroke-width="0.55"/>
<line x1="382.5" y1="454.4" x2="382.5" y2="457.0" stroke="#666" stroke-width="0.55"/>
<line x1="384.9" y1="454.4" x2="384.9" y2="455.9" stroke="#666" stroke-width="0.55"/>
<line x1="387.3" y1="454.4" x2="387.3" y2="455.9" stroke="#666" stroke-width="0.55"/>
<line x1="389.7" y1="454.4" x2="389.7" y2="455.9" stroke="#666" stroke-width="0.55"/>
<line x1="392.1" y1="454.4" x2="392.1" y2="455.9" stroke="#666" stroke-width="0.55"/>
<line x1="394.5" y1="454.4" x2="394.5" y2="457.0" stroke="#666" stroke-width="0.55"/>
<line x1="396.9" y1="454.4" x2="396.9" y2="455.9" stroke="#666" stroke-width="0.55"/>
<line x1="399.3" y1="454.4" x2="399.3" y2="455.9" stroke="#666" stroke-width="0.55"/>
<line x1="401.7" y1="454.4" x2="401.7" y2="455.9" stroke="#666" stroke-width="0.55"/>
<line x1="404.1" y1="454.4" x2="404.1" y2="455.9" stroke="#666" stroke-width="0.55"/>
<line x1="406.5" y1="454.4" x2="406.5" y2="457.0" stroke="#666" stroke-width="0.55"/>
<line x1="408.9" y1="454.4" x2="408.9" y2="455.9" stroke="#666" stroke-width="0.55"/>
<line x1="411.3" y1="454.4" x2="411.3" y2="455.9" stroke="#666" stroke-width="0.55"/>
<line x1="413.7" y1="454.4" x2="413.7" y2="455.9" stroke="#666" stroke-width="0.55"/>
<line x1="416.1" y1="454.4" x2="416.1" y2="455.9" stroke="#666" stroke-width="0.55"/>
<line x1="418.5" y1="454.4" x2="418.5" y2="457.0" stroke="#666" stroke-width="0.55"/>
<line x1="420.9" y1="454.4" x2="420.9" y2="455.9" stroke="#666" stroke-width="0.55"/>
<line x1="423.3" y1="454.4" x2="423.3" y2="455.9" stroke="#666" stroke-width="0.55"/>
<line x1="425.7" y1="454.4" x2="425.7" y2="455.9" stroke="#666" stroke-width="0.55"/>
<line x1="428.1" y1="454.4" x2="428.1" y2="455.9" stroke="#666" stroke-width="0.55"/>
<line x1="430.5" y1="454.4" x2="430.5" y2="457.0" stroke="#666" stroke-width="0.55"/>
<path d="M409.00,420.50C409.92,419.03 412.67,418.53 415.00,418.20C417.33,417.87 420.58,417.95 423.00,418.50C425.42,419.05 428.50,419.92 429.50,421.50C430.50,423.08 430.08,426.12 429.00,428.00C427.92,429.88 425.33,432.22 423.00,432.80C420.67,433.38 417.25,432.47 415.00,431.50C412.75,430.53 410.50,428.83 409.50,427.00C408.50,425.17 408.08,421.97 409.00,420.50Z" fill="#ecd0ea" fill-opacity="0.5" filter="url(#spk1)"/>
<path d="M421.30,442.00C421.97,441.40 423.70,441.23 425.00,441.40C426.30,441.57 428.52,442.10 429.10,443.00C429.68,443.90 429.52,446.08 428.50,446.80C427.48,447.52 424.25,447.60 423.00,447.30C421.75,447.00 421.28,445.88 421.00,445.00C420.72,444.12 420.63,442.60 421.30,442.00Z" fill="#f4dcdc" fill-opacity="0.4" />
<ellipse cx="420.5" cy="433.3" rx="3.7" ry="2.2" fill="#60b030" fill-opacity="0.9" transform="rotate(0 420.5 433.3)"/>
<ellipse cx="420.8" cy="433.3" rx="1.6" ry="1" fill="#d8f0b0" fill-opacity="0.8" transform="rotate(0 420.8 433.3)"/>
<path d="M387.90,428.70C388.88,427.97 390.33,426.62 391.80,426.70C393.27,426.78 395.32,428.05 396.70,429.20C398.08,430.35 399.62,432.22 400.10,433.60C400.58,434.98 400.33,436.43 399.60,437.50C398.87,438.57 397.17,439.75 395.70,440.00C394.23,440.25 392.27,439.90 390.80,439.00C389.33,438.10 387.72,435.92 386.90,434.60C386.08,433.28 385.73,432.08 385.90,431.10C386.07,430.12 386.92,429.43 387.90,428.70Z" fill="url(#gY2)" fill-opacity="1" filter="url(#spk1)"/>
<path d="M387.90,428.70C388.88,427.97 390.33,426.62 391.80,426.70C393.27,426.78 395.32,428.05 396.70,429.20C398.08,430.35 399.62,432.22 400.10,433.60C400.58,434.98 400.33,436.43 399.60,437.50C398.87,438.57 397.17,439.75 395.70,440.00C394.23,440.25 392.27,439.90 390.80,439.00C389.33,438.10 387.72,435.92 386.90,434.60C386.08,433.28 385.73,432.08 385.90,431.10C386.07,430.12 386.92,429.43 387.90,428.70Z" fill="#c8a018" filter="url(#spkD)"/>
<text x="435.0" y="434.8" font-size="4.0" text-anchor="start" font-weight="normal" fill="#555" color="#555" >CD107</text>
<text x="435.0" y="439.6" font-size="4.0" text-anchor="start" font-weight="normal" fill="#555" color="#555" >intensity</text>
<rect x="434.8" y="441.8" width="1.9" height="12" fill="url(#cbD)"/>
</svg></body></html>
